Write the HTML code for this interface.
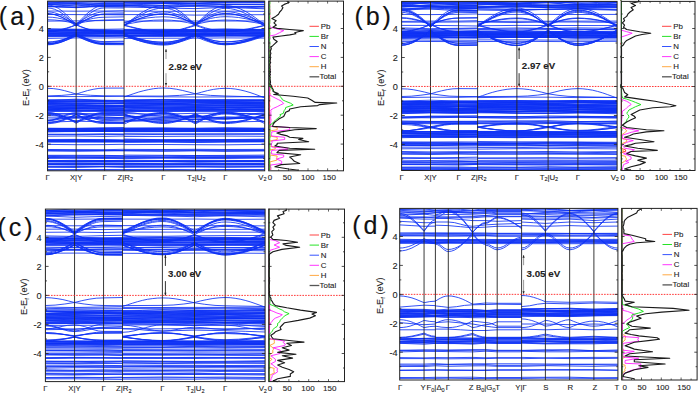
<!DOCTYPE html>
<html><head><meta charset="utf-8"><style>
html,body{margin:0;padding:0;background:#fff;}
body{width:698px;height:394px;overflow:hidden;}
svg{display:block;}
text{font-family:"Liberation Sans",sans-serif;fill:#222;stroke:#222;stroke-width:0.1px;}
.tk{font-size:7.8px;}
.ty{font-size:9.2px;}
.td{font-size:8px;}
.yl{font-size:9.1px;}
.lg{font-size:7.9px;}
.gp{font-size:9.6px;font-weight:bold;}
.pl{font-size:25px;letter-spacing:3px;fill:#111;stroke:#111;stroke-width:0.15px;}
</style></head><body>
<svg width="698" height="394" viewBox="0 0 698 394">
<clipPath id="ca"><rect x="47.55" y="1.1" width="217.14999999999998" height="169.70000000000002"/></clipPath><g clip-path="url(#ca)"><path d="M47.5 6.4 76.2 7.0 104.6 6.7 124.0 6.7M124.0 6.6 143.8 7.4 163.5 8.1 195.5 8.6 225.4 7.4 245.1 8.1 264.7 8.8 M47.5 6.7 76.2 7.3 90.4 6.6 104.6 5.8 124.0 5.6M124.0 5.3 137.2 5.9 150.3 7.3 163.5 8.0 174.2 7.3 184.8 6.0 195.5 5.4 210.4 6.0 225.4 6.7 264.7 7.9 M47.5 6.2 61.9 7.0 76.2 7.7 85.6 7.0 95.1 5.7 104.6 5.1 124.0 5.1M124.0 7.1 163.5 6.7 195.5 6.5 225.4 7.2 264.7 6.4 M47.5 6.5 61.9 5.6 76.2 4.7 90.4 5.6 104.6 6.5 124.0 6.9M124.0 5.5 163.5 5.8 195.5 5.3 225.4 6.3 264.7 6.6 M47.5 3.7 76.2 3.5 90.4 4.7 104.6 5.9 124.0 5.7M124.0 5.0 163.5 5.3 179.5 4.5 195.5 3.8 225.4 4.1 264.7 4.3 M47.5 4.3 61.9 5.1 76.2 5.9 85.6 5.2 95.1 4.0 104.6 3.4 124.0 3.3M124.0 5.3 143.8 4.4 163.5 3.5 195.5 3.7 225.4 4.5 264.7 4.8 M47.5 3.9 76.2 4.0 104.6 3.4 124.0 3.5M124.0 3.2 163.5 3.5 195.5 3.9 225.4 4.4 264.7 4.3 M47.5 4.7 76.2 3.6 104.6 4.6 124.0 4.5M124.0 4.2 143.8 3.5 163.5 2.7 195.5 3.3 210.4 2.6 225.4 1.9 264.7 1.9 M47.5 2.5 76.2 2.4 104.6 1.6 124.0 1.2M124.0 2.7 163.5 3.4 195.5 3.3 225.4 2.6 264.7 2.5 M47.5 3.4 61.9 2.2 76.2 1.1 104.6 1.1 124.0 0.9M124.0 1.9 163.5 1.0 195.5 1.8 225.4 0.8 245.1 1.5 264.7 2.2 M47.5 0.7 61.9 1.5 76.2 2.2 104.6 1.6 124.0 1.6M124.0 2.2 163.5 2.7 195.5 1.7 225.4 1.8 264.7 1.4 M47.5 1.1 76.2 -0.1 85.6 0.5 95.1 1.7 104.6 2.3 124.0 2.3M124.0 0.1 143.8 0.9 163.5 1.7 179.5 0.9 195.5 0.1 210.4 1.0 225.4 1.9 245.1 1.0 264.7 0.1 M47.5 -0.4 76.2 -0.2 104.6 0.1 124.0 0.5M124.0 1.3 163.5 1.8 195.5 1.7 225.4 2.0 245.1 1.1 264.7 0.2 M47.5 1.2 61.9 0.3 76.2 -0.7 90.4 0.1 104.6 0.9 124.0 1.1M124.0 0.1 163.5 -0.1 195.5 0.5 225.4 0.9 264.7 0.0 M47.5 13.9 51.1 14.1 54.7 14.7 58.3 15.8 61.9 17.2 65.4 18.9 69.0 20.9 72.6 23.0 76.2 25.3 79.7 23.1 83.3 21.0 86.8 19.1 90.4 17.4 93.9 16.0 97.5 14.9 101.0 14.3 104.6 14.1 124.0 14.1M124.0 24.8 129.0 22.7 133.9 20.7 138.8 18.9 143.8 17.3 148.7 15.9 153.6 15.0 158.6 14.4 163.5 14.2 167.5 14.4 171.5 14.9 175.5 15.9 179.5 17.2 183.5 18.8 187.5 20.6 191.5 22.5 195.5 24.6 199.2 22.4 203.0 20.3 206.7 18.4 210.4 16.7 214.2 15.3 217.9 14.3 221.7 13.7 225.4 13.5 230.3 13.7 235.2 14.4 240.1 15.5 245.1 17.0 250.0 18.8 254.9 20.9 259.8 23.1 264.7 25.5 M47.5 13.7 51.1 13.9 54.7 14.6 58.3 15.8 61.9 17.3 65.4 19.2 69.0 21.4 72.6 23.7 76.2 26.1 79.7 23.8 83.3 21.5 86.8 19.5 90.4 17.7 93.9 16.2 97.5 15.1 101.0 14.4 104.6 14.2 124.0 14.1M124.0 25.3 129.0 23.0 133.9 20.8 138.8 18.8 143.8 17.1 148.7 15.6 153.6 14.6 158.6 13.9 163.5 13.7 167.5 13.9 171.5 14.6 175.5 15.7 179.5 17.1 183.5 18.9 187.5 21.0 191.5 23.2 195.5 25.5 199.2 23.2 203.0 21.0 206.7 18.9 210.4 17.2 214.2 15.7 217.9 14.6 221.7 13.9 225.4 13.7 230.3 13.9 235.2 14.6 240.1 15.7 245.1 17.2 250.0 19.1 254.9 21.2 259.8 23.4 264.7 25.8 M47.5 11.9 51.1 12.1 54.7 12.8 58.3 14.0 61.9 15.5 65.4 17.4 69.0 19.5 72.6 21.8 76.2 24.2 79.7 21.8 83.3 19.4 86.8 17.3 90.4 15.4 93.9 13.8 97.5 12.7 101.0 12.0 104.6 11.7 124.0 12.1M124.0 23.4 129.0 21.2 133.9 19.0 138.8 17.1 143.8 15.3 148.7 13.9 153.6 12.8 158.6 12.2 163.5 11.9 167.5 12.2 171.5 12.8 175.5 13.9 179.5 15.3 183.5 17.1 187.5 19.1 191.5 21.3 195.5 23.6 199.2 21.2 203.0 19.0 206.7 17.0 210.4 15.2 214.2 13.7 217.9 12.6 221.7 11.9 225.4 11.7 230.3 11.9 235.2 12.6 240.1 13.8 245.1 15.4 250.0 17.2 254.9 19.4 259.8 21.8 264.7 24.2 M47.5 5.0 51.1 5.4 54.7 6.5 58.3 8.3 61.9 10.8 65.4 13.8 69.0 17.2 72.6 20.9 76.2 24.8 79.7 20.9 83.3 17.3 86.8 13.9 90.4 10.9 93.9 8.5 97.5 6.6 101.0 5.5 104.6 5.2 124.0 5.6M124.0 25.7 129.0 21.8 133.9 18.0 138.8 14.5 143.8 11.4 148.7 8.9 153.6 7.0 158.6 5.8 163.5 5.4 167.5 5.8 171.5 6.9 175.5 8.7 179.5 11.1 183.5 14.1 187.5 17.4 191.5 21.1 195.5 24.8 199.2 21.1 203.0 17.5 206.7 14.1 210.4 11.2 214.2 8.8 217.9 7.0 221.7 6.0 225.4 5.6 230.3 5.9 235.2 7.0 240.1 8.8 245.1 11.2 250.0 14.1 254.9 17.4 259.8 21.0 264.7 24.7 M47.5 8.0 51.1 8.3 54.7 9.3 58.3 11.0 61.9 13.2 65.4 15.9 69.0 19.0 72.6 22.4 76.2 25.9 79.7 22.4 83.3 19.0 86.8 15.9 90.4 13.1 93.9 10.9 97.5 9.2 101.0 8.2 104.6 7.9 124.0 8.0M124.0 26.1 129.0 22.6 133.9 19.2 138.8 16.1 143.8 13.4 148.7 11.1 153.6 9.5 158.6 8.4 163.5 8.1 167.5 8.4 171.5 9.4 175.5 11.0 179.5 13.2 183.5 15.8 187.5 18.9 191.5 22.1 195.5 25.5 199.2 22.1 203.0 18.9 206.7 15.9 210.4 13.3 214.2 11.2 217.9 9.6 221.7 8.6 225.4 8.3 230.3 8.6 235.2 9.6 240.1 11.2 245.1 13.4 250.0 16.1 254.9 19.1 259.8 22.4 264.7 25.8 M47.5 19.7 54.7 20.0 61.9 20.8 69.0 22.1 76.2 23.6 85.6 21.8 95.1 20.5 104.6 20.0 124.0 19.7M124.0 24.6 133.9 22.8 143.8 21.2 153.6 20.2 163.5 19.9 171.5 20.2 179.5 21.2 187.5 22.6 195.5 24.4 203.0 22.7 210.4 21.3 217.9 20.3 225.4 20.0 235.2 20.3 245.1 21.2 254.9 22.6 264.7 24.2 M47.5 17.1 52.3 17.3 57.1 17.9 61.9 18.9 66.6 20.2 71.4 21.6 76.2 23.2 81.8 21.4 87.5 19.7 93.2 18.4 98.9 17.5 104.6 17.2 124.0 16.9M124.0 22.6 131.9 20.8 139.8 19.2 147.7 17.9 155.6 17.1 163.5 16.8 169.9 17.1 176.3 18.0 182.7 19.3 189.1 21.0 195.5 22.8 200.5 21.2 205.5 19.8 210.4 18.5 215.4 17.5 220.4 16.9 225.4 16.7 231.9 16.9 238.5 17.5 245.1 18.6 251.6 19.9 258.1 21.4 264.7 23.1 M47.5 31.2 52.3 31.0 57.1 30.4 61.9 29.3 66.6 28.0 71.4 26.5 76.2 24.8 80.9 26.6 85.6 28.3 90.4 29.7 95.1 30.8 99.9 31.5 104.6 31.8 124.0 32.0M124.0 25.0 130.6 26.7 137.2 28.3 143.8 29.7 150.3 30.8 156.9 31.5 163.5 31.7 168.8 31.5 174.2 30.8 179.5 29.6 184.8 28.2 190.2 26.5 195.5 24.7 200.5 26.3 205.5 27.9 210.4 29.2 215.4 30.2 220.4 30.8 225.4 31.1 233.3 30.8 241.1 29.9 249.0 28.7 256.8 27.0 264.7 25.3 M47.5 32.0 52.3 31.8 57.1 31.1 61.9 29.9 66.6 28.5 71.4 26.8 76.2 24.9 80.2 26.6 84.3 28.1 88.3 29.5 92.4 30.7 96.5 31.5 100.5 32.1 104.6 32.3 124.0 32.6M124.0 25.4 130.6 27.1 137.2 28.7 143.8 30.0 150.3 31.1 156.9 31.7 163.5 31.9 168.8 31.7 174.2 31.1 179.5 30.1 184.8 28.7 190.2 27.2 195.5 25.5 200.5 27.2 205.5 28.8 210.4 30.1 215.4 31.1 220.4 31.8 225.4 32.0 231.9 31.8 238.5 31.1 245.1 30.1 251.6 28.7 258.1 27.2 264.7 25.5 M47.5 11.0 76.2 11.2 104.6 11.0 124.0 10.7M124.0 11.1 163.5 11.3 195.5 11.3 225.4 11.1 264.7 11.4 M47.5 14.5 76.2 14.6 104.6 14.7 124.0 14.9M124.0 14.6 163.5 14.5 195.5 15.1 225.4 14.8 264.7 14.7 M47.5 21.1 76.2 20.9 104.6 20.6 124.0 20.2M124.0 21.1 163.5 21.1 195.5 21.0 225.4 21.0 264.7 21.0 M47.5 36.7 76.2 36.5 104.6 35.7 124.0 35.4M124.0 36.5 163.5 36.4 195.5 36.2 225.4 35.7 264.7 36.7 M47.5 36.4 76.2 36.0 104.6 36.5 124.0 36.4M124.0 36.1 163.5 35.4 195.5 36.4 225.4 36.2 264.7 35.4 M47.5 35.0 76.2 35.5 104.6 36.0 124.0 35.5M124.0 35.3 163.5 35.8 195.5 35.3 225.4 35.4 264.7 35.8 M47.5 35.5 76.2 35.3 104.6 35.6 124.0 35.2M124.0 35.1 163.5 35.8 195.5 35.1 225.4 35.5 264.7 34.8 M47.5 35.2 76.2 35.2 104.6 35.2 124.0 34.9M124.0 35.2 163.5 35.2 195.5 34.9 225.4 34.6 264.7 34.9 M47.5 34.9 76.2 35.1 104.6 35.2 124.0 35.1M124.0 35.1 163.5 34.9 195.5 34.5 225.4 35.1 264.7 34.9 M47.5 34.2 76.2 34.7 104.6 33.8 124.0 33.6M124.0 33.7 163.5 34.6 195.5 34.6 225.4 34.2 264.7 33.9 M47.5 33.5 76.2 34.1 104.6 34.1 124.0 33.7M124.0 33.4 163.5 34.3 195.5 34.3 225.4 33.8 264.7 33.4 M47.5 34.0 76.2 33.5 104.6 33.3 124.0 33.0M124.0 33.6 163.5 33.4 195.5 34.2 225.4 33.3 264.7 33.9 M47.5 33.2 76.2 33.1 104.6 33.2 124.0 32.8M124.0 33.4 163.5 33.7 195.5 33.4 225.4 33.9 264.7 33.0 M47.5 33.1 76.2 33.1 104.6 33.2 124.0 33.1M124.0 32.9 163.5 33.3 195.5 33.5 225.4 33.6 264.7 33.2 M47.5 33.2 76.2 32.6 104.6 33.0 124.0 33.1M124.0 33.1 163.5 32.4 195.5 33.3 225.4 32.9 264.7 32.7 M47.5 32.2 76.2 32.3 104.6 32.4 124.0 32.6M124.0 32.4 163.5 32.1 195.5 32.7 225.4 32.1 264.7 32.4 M47.5 31.5 76.2 32.5 104.6 31.5 124.0 31.9M124.0 32.0 163.5 32.3 195.5 31.6 225.4 31.8 264.7 32.4 M47.5 31.2 76.2 31.4 104.6 31.8 124.0 31.9M124.0 31.3 163.5 31.4 195.5 31.5 225.4 31.2 264.7 31.2 M47.5 30.7 76.2 31.2 104.6 31.2 124.0 31.4M124.0 31.0 163.5 31.6 195.5 31.8 225.4 31.5 264.7 31.0 M47.5 31.1 76.2 30.4 104.6 31.0 124.0 31.4M124.0 30.6 163.5 31.4 195.5 30.8 225.4 30.7 264.7 31.2 M47.5 30.1 76.2 30.4 104.6 31.0 124.0 30.9M124.0 30.7 163.5 30.3 195.5 30.1 225.4 30.2 264.7 30.0 M47.5 30.1 76.2 29.9 104.6 30.5 124.0 30.8M124.0 29.9 163.5 30.8 195.5 30.8 225.4 30.6 264.7 30.3 M47.5 30.5 76.2 30.4 104.6 30.3 124.0 30.7M124.0 30.1 163.5 30.4 195.5 30.6 225.4 29.8 264.7 29.9 M47.5 29.3 76.2 29.6 104.6 30.0 124.0 30.2M124.0 30.0 163.5 29.9 195.5 29.5 225.4 29.6 264.7 29.4 M47.5 28.8 76.2 29.2 104.6 29.3 124.0 29.0M124.0 29.4 163.5 29.3 195.5 29.6 225.4 28.9 264.7 29.8 M47.5 38.4 76.2 37.9 104.6 38.0 124.0 37.8M124.0 38.4 163.5 38.2 195.5 38.2 225.4 37.9 264.7 38.1 M47.5 44.8 51.1 44.6 54.7 44.0 58.3 43.2 61.9 42.0 65.4 40.5 69.0 38.9 72.6 37.1 76.2 35.2 79.7 37.0 83.3 38.8 86.8 40.4 90.4 41.9 93.9 43.0 97.5 43.9 101.0 44.4 104.6 44.6 124.0 44.7M124.0 35.1 129.0 37.0 133.9 38.9 138.8 40.6 143.8 42.2 148.7 43.4 153.6 44.3 158.6 44.9 163.5 45.1 167.5 44.9 171.5 44.3 175.5 43.3 179.5 42.0 183.5 40.4 187.5 38.6 191.5 36.7 195.5 34.7 199.2 36.6 203.0 38.5 206.7 40.2 210.4 41.8 214.2 43.0 217.9 43.9 221.7 44.5 225.4 44.7 230.3 44.5 235.2 43.9 240.1 43.0 245.1 41.8 250.0 40.3 254.9 38.6 259.8 36.7 264.7 34.8 M47.5 43.5 51.1 43.4 54.7 42.8 58.3 41.9 61.9 40.7 65.4 39.3 69.0 37.6 72.6 35.8 76.2 33.9 79.7 35.8 83.3 37.7 86.8 39.3 90.4 40.8 93.9 42.0 97.5 42.9 101.0 43.5 104.6 43.7 124.0 43.6M124.0 34.0 129.0 35.9 133.9 37.8 138.8 39.5 143.8 41.0 148.7 42.2 153.6 43.1 158.6 43.7 163.5 43.9 167.5 43.7 171.5 43.1 175.5 42.3 179.5 41.1 183.5 39.6 187.5 38.0 191.5 36.2 195.5 34.3 199.2 36.2 203.0 37.9 206.7 39.5 210.4 40.9 214.2 42.1 217.9 42.9 221.7 43.4 225.4 43.6 230.3 43.4 235.2 42.9 240.1 42.0 245.1 40.7 250.0 39.3 254.9 37.6 259.8 35.7 264.7 33.8 M47.5 43.7 51.1 43.5 54.7 42.9 58.3 42.0 61.9 40.7 65.4 39.1 69.0 37.4 72.6 35.4 76.2 33.4 79.7 35.4 83.3 37.2 86.8 39.0 90.4 40.5 93.9 41.7 97.5 42.7 101.0 43.2 104.6 43.4 124.0 43.7M124.0 33.5 129.0 35.4 133.9 37.2 138.8 38.9 143.8 40.4 148.7 41.6 153.6 42.5 158.6 43.0 163.5 43.2 167.5 43.0 171.5 42.5 175.5 41.6 179.5 40.4 183.5 39.0 187.5 37.4 191.5 35.6 195.5 33.7 199.2 35.7 203.0 37.6 206.7 39.3 210.4 40.9 214.2 42.1 217.9 43.0 221.7 43.6 225.4 43.8 230.3 43.6 235.2 43.1 240.1 42.2 245.1 41.0 250.0 39.5 254.9 37.8 259.8 36.0 264.7 34.1 M47.5 44.2 51.1 44.0 54.7 43.5 58.3 42.7 61.9 41.5 65.4 40.1 69.0 38.5 72.6 36.8 76.2 35.0 79.7 36.7 83.3 38.4 86.8 39.9 90.4 41.2 93.9 42.3 97.5 43.1 101.0 43.6 104.6 43.8 124.0 43.5M124.0 35.3 129.0 37.0 133.9 38.7 138.8 40.2 143.8 41.5 148.7 42.6 153.6 43.4 158.6 43.9 163.5 44.0 167.5 43.9 171.5 43.4 175.5 42.5 179.5 41.4 183.5 40.0 187.5 38.5 191.5 36.8 195.5 35.0 199.2 36.8 203.0 38.4 206.7 40.0 210.4 41.3 214.2 42.4 217.9 43.2 221.7 43.7 225.4 43.9 230.3 43.7 235.2 43.3 240.1 42.4 245.1 41.4 250.0 40.0 254.9 38.5 259.8 36.9 264.7 35.2 M47.5 42.5 51.1 42.3 54.7 41.8 58.3 41.1 61.9 40.0 65.4 38.7 69.0 37.3 72.6 35.7 76.2 34.0 80.2 35.9 84.3 37.6 88.3 39.2 92.4 40.5 96.5 41.5 100.5 42.1 104.6 42.3 124.0 42.0M124.0 34.1 129.7 35.9 135.3 37.7 141.0 39.2 146.6 40.5 152.2 41.5 157.9 42.1 163.5 42.3 168.1 42.1 172.6 41.5 177.2 40.5 181.8 39.2 186.4 37.6 190.9 35.9 195.5 34.1 199.8 35.8 204.0 37.5 208.3 39.0 212.6 40.3 216.9 41.2 221.1 41.8 225.4 42.0 231.0 41.8 236.6 41.3 242.2 40.3 247.9 39.1 253.5 37.7 259.1 36.0 264.7 34.3 M47.5 44.2 51.6 44.0 55.7 43.4 59.8 42.4 63.9 41.1 68.0 39.6 72.1 37.9 76.2 36.0 80.2 37.8 84.3 39.5 88.3 41.0 92.4 42.3 96.5 43.3 100.5 43.9 104.6 44.1 124.0 43.8M124.0 36.1 129.7 37.9 135.3 39.7 141.0 41.2 146.6 42.5 152.2 43.5 157.9 44.1 163.5 44.3 168.1 44.2 172.6 43.6 177.2 42.6 181.8 41.4 186.4 39.9 190.9 38.3 195.5 36.5 199.8 38.4 204.0 40.1 208.3 41.6 212.6 42.9 216.9 43.9 221.1 44.5 225.4 44.7 230.3 44.5 235.2 44.0 240.1 43.2 245.1 42.1 250.0 40.8 254.9 39.3 259.8 37.7 264.7 36.0 M47.5 41.9 52.3 41.7 57.1 41.0 61.9 39.9 66.6 38.5 71.4 36.9 76.2 35.1 80.9 36.8 85.6 38.4 90.4 39.7 95.1 40.7 99.9 41.4 104.6 41.6 124.0 41.2M124.0 35.5 130.6 37.2 137.2 38.8 143.8 40.2 150.3 41.3 156.9 41.9 163.5 42.2 168.8 41.9 174.2 41.2 179.5 40.1 184.8 38.6 190.2 36.9 195.5 35.1 200.5 36.8 205.5 38.4 210.4 39.8 215.4 40.9 220.4 41.5 225.4 41.8 231.9 41.5 238.5 40.9 245.1 39.8 251.6 38.5 258.1 36.9 264.7 35.2 M47.5 88.3 53.3 88.6 59.0 89.4 64.7 90.7 70.4 92.3 76.2 94.1 90.4 95.3 104.6 95.8 124.0 96.1M124.0 97.0 129.0 95.3 133.9 93.6 138.8 92.0 143.8 90.7 148.7 89.6 153.6 88.7 158.6 88.2 163.5 88.0 169.9 88.3 176.3 89.2 182.7 90.5 189.1 92.1 195.5 93.9 210.4 95.4 225.4 96.0 264.7 97.1 M47.5 95.9 61.9 95.4 76.2 94.1 81.8 92.3 87.5 90.6 93.2 89.3 98.9 88.4 104.6 88.1 124.0 88.1M124.0 96.0 163.5 96.1 179.5 95.4 195.5 93.9 201.5 92.2 207.5 90.6 213.4 89.4 219.4 88.6 225.4 88.3 230.3 88.5 235.2 89.0 240.1 89.9 245.1 91.1 250.0 92.5 254.9 94.2 259.8 96.0 264.7 97.8 M47.5 96.5 76.2 96.6 104.6 96.5 124.0 96.1M124.0 96.5 163.5 96.8 195.5 97.0 225.4 96.9 264.7 96.5 M47.5 111.6 76.2 111.2 104.6 111.5 124.0 111.7M124.0 111.8 163.5 111.0 195.5 110.7 225.4 111.0 264.7 111.4 M47.5 110.6 76.2 111.4 104.6 110.7 124.0 111.1M124.0 110.6 163.5 111.2 195.5 111.1 225.4 110.9 264.7 110.5 M47.5 110.4 76.2 110.7 104.6 110.4 124.0 110.5M124.0 111.3 163.5 111.0 195.5 111.2 225.4 111.3 264.7 111.4 M47.5 109.7 76.2 109.6 104.6 110.7 124.0 110.4M124.0 110.1 163.5 110.9 195.5 110.5 225.4 110.0 264.7 109.8 M47.5 109.7 76.2 110.5 104.6 110.6 124.0 110.7M124.0 110.4 163.5 110.2 195.5 109.6 225.4 110.0 264.7 110.1 M47.5 109.9 76.2 108.8 104.6 109.2 124.0 108.8M124.0 110.2 163.5 109.7 195.5 109.1 225.4 109.4 264.7 109.0 M47.5 109.4 76.2 108.8 104.6 109.1 124.0 108.8M124.0 109.7 163.5 108.6 195.5 108.6 225.4 109.4 264.7 109.9 M47.5 108.6 76.2 108.4 104.6 109.5 124.0 109.6M124.0 108.3 163.5 109.1 195.5 109.6 225.4 109.4 264.7 109.5 M47.5 109.0 76.2 108.1 104.6 108.6 124.0 109.0M124.0 107.9 163.5 108.9 195.5 108.0 225.4 108.9 264.7 107.8 M47.5 108.1 76.2 108.6 104.6 107.8 124.0 108.0M124.0 107.3 163.5 107.3 195.5 107.8 225.4 107.8 264.7 108.2 M47.5 107.5 76.2 108.1 104.6 107.6 124.0 107.7M124.0 107.1 163.5 108.3 195.5 107.7 225.4 107.8 264.7 107.4 M47.5 106.9 76.2 107.7 104.6 106.9 124.0 106.5M124.0 106.6 163.5 106.8 195.5 106.7 225.4 107.6 264.7 106.7 M47.5 107.6 76.2 107.7 104.6 106.6 124.0 106.2M124.0 107.0 163.5 107.1 195.5 107.1 225.4 107.2 264.7 107.6 M47.5 106.3 76.2 106.1 104.6 106.0 124.0 106.4M124.0 107.2 163.5 107.2 195.5 107.2 225.4 106.5 264.7 106.7 M47.5 106.4 76.2 106.4 104.6 106.6 124.0 106.3M124.0 106.2 163.5 105.7 195.5 106.5 225.4 105.6 264.7 106.0 M47.5 106.1 76.2 105.6 104.6 105.4 124.0 105.8M124.0 105.9 163.5 105.2 195.5 105.1 225.4 105.7 264.7 105.5 M47.5 105.0 76.2 105.8 104.6 105.3 124.0 105.4M124.0 105.5 163.5 104.7 195.5 105.3 225.4 104.8 264.7 105.9 M47.5 105.0 76.2 105.4 104.6 105.7 124.0 105.9M124.0 105.3 163.5 104.6 195.5 105.3 225.4 104.9 264.7 104.7 M47.5 104.6 76.2 105.3 104.6 105.2 124.0 105.3M124.0 104.0 163.5 104.1 195.5 104.7 225.4 104.9 264.7 104.1 M47.5 103.5 61.9 104.1 76.2 104.7 104.6 103.7 124.0 103.4M124.0 104.1 163.5 103.5 195.5 104.0 225.4 103.5 264.7 103.4 M47.5 103.5 76.2 104.0 104.6 103.5 124.0 103.3M124.0 103.9 163.5 104.0 195.5 103.1 225.4 103.2 264.7 103.8 M47.5 104.1 76.2 103.8 104.6 103.4 124.0 103.6M124.0 103.3 163.5 103.5 195.5 104.3 210.4 103.7 225.4 103.0 264.7 104.2 M47.5 103.5 76.2 103.7 104.6 103.7 124.0 103.7M124.0 103.8 163.5 103.5 195.5 102.6 225.4 102.9 264.7 102.9 M47.5 102.4 76.2 103.2 104.6 103.6 124.0 103.4M124.0 102.3 163.5 103.1 195.5 102.7 225.4 102.4 264.7 102.3 M47.5 102.4 76.2 102.0 104.6 102.0 124.0 101.8M124.0 101.8 163.5 102.2 195.5 101.6 225.4 101.6 264.7 102.6 M47.5 101.8 76.2 101.6 104.6 101.7 124.0 101.8M124.0 101.7 163.5 102.1 195.5 102.0 225.4 102.1 264.7 102.8 M47.5 101.6 76.2 102.1 104.6 102.0 124.0 102.4M124.0 101.8 163.5 101.8 195.5 101.0 225.4 101.3 264.7 101.2 M47.5 101.1 76.2 100.7 104.6 101.0 124.0 101.0M124.0 100.5 163.5 101.1 195.5 101.3 225.4 101.1 264.7 101.0 M47.5 101.2 76.2 101.5 104.6 101.0 124.0 100.5M124.0 100.8 163.5 100.8 195.5 100.2 225.4 100.9 264.7 100.6 M47.5 100.7 76.2 99.9 104.6 100.7 124.0 100.5M124.0 99.9 163.5 99.9 195.5 100.0 225.4 99.9 264.7 100.7 M47.5 99.7 76.2 100.2 104.6 100.4 124.0 100.5M124.0 100.7 163.5 99.8 195.5 100.4 225.4 100.2 264.7 100.3 M47.5 100.4 76.2 99.2 104.6 100.3 124.0 100.5M124.0 100.3 163.5 99.4 195.5 99.9 225.4 99.8 264.7 99.6 M47.5 115.2 57.1 115.8 66.6 117.0 76.2 117.6 85.6 116.8 95.1 115.2 104.6 114.4 124.0 115.0M124.0 117.1 143.8 116.1 163.5 115.0 179.5 116.0 195.5 117.1 203.0 116.4 210.4 114.8 217.9 113.2 225.4 112.6 245.1 113.8 264.7 115.0 M47.5 120.5 51.6 120.1 55.7 119.0 59.8 117.4 63.9 115.7 68.0 114.1 72.1 113.0 76.2 112.6 80.9 113.1 85.6 114.4 90.4 116.1 95.1 117.8 99.9 119.1 104.6 119.5 124.0 119.2M124.0 121.5 143.8 120.4 163.5 119.3 179.5 118.3 195.5 117.2 203.0 116.5 210.4 115.0 217.9 113.4 225.4 112.8 233.3 113.3 241.1 114.6 249.0 116.2 256.8 117.5 264.7 118.0 M47.5 113.9 52.3 114.3 57.1 115.6 61.9 117.4 66.6 119.1 71.4 120.4 76.2 120.9 81.8 120.4 87.5 119.2 93.2 117.7 98.9 116.4 104.6 116.0 124.0 115.3M124.0 112.3 133.9 113.0 143.8 114.4 153.6 115.9 163.5 116.5 195.5 116.7 210.4 117.6 225.4 118.4 233.3 117.9 241.1 116.5 249.0 114.8 256.8 113.4 264.7 112.8 M47.5 120.7 54.7 120.1 61.9 118.6 69.0 117.1 76.2 116.5 90.4 117.1 104.6 117.8 124.0 117.3M124.0 115.4 131.9 115.9 139.8 117.2 147.7 118.8 155.6 120.1 163.5 120.6 179.5 119.9 195.5 119.2 225.4 119.1 245.1 118.1 264.7 117.2 M47.5 113.6 76.2 114.3 104.6 115.3 124.0 114.8M124.0 120.9 137.2 120.2 150.3 118.8 163.5 118.0 174.2 117.4 184.8 116.1 195.5 115.4 205.5 116.3 215.4 118.1 225.4 118.9 245.1 117.9 264.7 116.9 M47.5 120.6 52.3 120.1 57.1 118.9 61.9 117.1 66.6 115.4 71.4 114.1 76.2 113.7 80.9 114.2 85.6 115.4 90.4 117.2 95.1 119.0 99.9 120.2 104.6 120.7 124.0 120.1M124.0 118.1 131.9 117.6 139.8 116.4 147.7 114.9 155.6 113.7 163.5 113.2 168.8 113.6 174.2 114.9 179.5 116.5 184.8 118.2 190.2 119.4 195.5 119.8 205.5 119.1 215.4 117.6 225.4 116.8 264.7 117.8 M47.5 113.7 51.1 113.9 54.7 114.4 58.3 115.2 61.9 116.3 65.4 117.6 69.0 119.2 72.6 120.8 76.2 122.5 79.7 120.7 83.3 119.0 86.8 117.4 90.4 116.1 93.9 114.9 97.5 114.1 101.0 113.6 104.6 113.4 124.0 113.2M124.0 122.3 129.0 120.7 133.9 119.0 138.8 117.5 143.8 116.2 148.7 115.2 153.6 114.4 158.6 113.9 163.5 113.7 167.5 113.9 171.5 114.4 175.5 115.2 179.5 116.4 183.5 117.8 187.5 119.4 191.5 121.1 195.5 122.9 199.2 121.2 203.0 119.5 206.7 117.9 210.4 116.6 214.2 115.5 217.9 114.7 221.7 114.2 225.4 114.0 231.0 114.2 236.6 114.8 242.2 115.7 247.9 116.9 253.5 118.4 259.1 120.0 264.7 121.8 M47.5 112.6 51.1 112.8 54.7 113.4 58.3 114.4 61.9 115.7 65.4 117.4 69.0 119.2 72.6 121.2 76.2 123.3 79.7 121.3 83.3 119.4 86.8 117.7 90.4 116.2 93.9 114.9 97.5 114.0 101.0 113.4 104.6 113.2 124.0 113.0M124.0 124.0 129.0 121.9 133.9 119.8 138.8 117.9 143.8 116.2 148.7 114.8 153.6 113.8 158.6 113.2 163.5 113.0 167.5 113.2 171.5 113.8 175.5 114.8 179.5 116.2 183.5 117.9 187.5 119.8 191.5 121.8 195.5 124.0 199.2 121.8 203.0 119.8 206.7 117.9 210.4 116.3 214.2 114.9 217.9 113.9 221.7 113.3 225.4 113.1 230.3 113.3 235.2 113.9 240.1 114.8 245.1 116.1 250.0 117.7 254.9 119.5 259.8 121.4 264.7 123.5 M47.5 112.7 51.1 112.9 54.7 113.4 58.3 114.3 61.9 115.4 65.4 116.8 69.0 118.4 72.6 120.1 76.2 121.9 79.7 120.0 83.3 118.2 86.8 116.6 90.4 115.2 93.9 114.0 97.5 113.1 101.0 112.6 104.6 112.4 124.0 112.4M124.0 122.4 129.0 120.4 133.9 118.6 138.8 116.8 143.8 115.3 148.7 114.1 153.6 113.2 158.6 112.6 163.5 112.4 167.5 112.6 171.5 113.1 175.5 114.0 179.5 115.2 183.5 116.7 187.5 118.4 191.5 120.2 195.5 122.1 199.2 120.1 203.0 118.3 206.7 116.5 210.4 115.0 214.2 113.8 217.9 112.8 221.7 112.3 225.4 112.1 230.3 112.3 235.2 112.9 240.1 113.8 245.1 115.1 250.0 116.6 254.9 118.4 259.8 120.3 264.7 122.2 M47.5 123.7 51.1 123.5 54.7 123.0 58.3 122.2 61.9 121.0 65.4 119.7 69.0 118.1 72.6 116.5 76.2 114.7 79.7 116.4 83.3 118.1 86.8 119.6 90.4 121.0 93.9 122.1 97.5 122.9 101.0 123.4 104.6 123.5 124.0 123.5M124.0 113.9 129.0 115.8 133.9 117.6 138.8 119.2 143.8 120.7 148.7 121.8 153.6 122.7 158.6 123.3 163.5 123.5 167.5 123.3 171.5 122.7 175.5 121.9 179.5 120.7 183.5 119.3 187.5 117.7 191.5 115.9 195.5 114.1 199.2 116.0 203.0 117.7 206.7 119.4 210.4 120.8 214.2 122.0 217.9 122.8 221.7 123.4 225.4 123.6 230.3 123.4 235.2 122.9 240.1 122.0 245.1 120.9 250.0 119.4 254.9 117.8 259.8 116.1 264.7 114.3 M47.5 122.3 51.6 122.1 55.7 121.6 59.8 120.6 63.9 119.4 68.0 117.9 72.1 116.2 76.2 114.5 80.2 116.2 84.3 117.9 88.3 119.4 92.4 120.7 96.5 121.6 100.5 122.2 104.6 122.4 124.0 122.5M124.0 114.7 129.7 116.3 135.3 117.9 141.0 119.4 146.6 120.6 152.2 121.5 157.9 122.0 163.5 122.2 168.1 122.1 172.6 121.5 177.2 120.6 181.8 119.5 186.4 118.1 190.9 116.5 195.5 114.9 199.8 116.5 204.0 118.0 208.3 119.4 212.6 120.6 216.9 121.4 221.1 122.0 225.4 122.2 231.0 122.0 236.6 121.4 242.2 120.6 247.9 119.4 253.5 118.0 259.1 116.5 264.7 114.9 M47.5 122.8 51.1 122.6 54.7 122.1 58.3 121.3 61.9 120.3 65.4 119.0 69.0 117.5 72.6 115.9 76.2 114.3 80.2 116.1 84.3 117.9 88.3 119.5 92.4 120.8 96.5 121.8 100.5 122.4 104.6 122.6 124.0 122.9M124.0 113.9 129.0 115.6 133.9 117.3 138.8 118.8 143.8 120.1 148.7 121.2 153.6 122.1 158.6 122.6 163.5 122.7 167.5 122.6 171.5 122.0 175.5 121.2 179.5 120.0 183.5 118.6 187.5 117.0 191.5 115.3 195.5 113.5 199.2 115.3 203.0 117.0 206.7 118.6 210.4 120.0 214.2 121.1 217.9 121.9 221.7 122.5 225.4 122.6 230.3 122.5 235.2 122.0 240.1 121.2 245.1 120.1 250.0 118.8 254.9 117.3 259.8 115.7 264.7 114.0 M47.5 122.2 76.2 121.2 104.6 121.8 124.0 122.0M124.0 120.8 163.5 121.3 195.5 121.7 225.4 122.1 264.7 121.3 M47.5 119.1 76.2 118.2 104.6 118.7 124.0 118.4M124.0 119.1 163.5 118.9 195.5 119.0 225.4 118.8 264.7 118.1 M47.5 117.2 76.2 117.1 104.6 117.3 124.0 117.6M124.0 116.3 143.8 117.0 163.5 117.6 195.5 116.8 225.4 117.6 264.7 117.3 M47.5 114.1 76.2 113.4 104.6 113.8 124.0 113.9M124.0 113.6 163.5 114.1 195.5 113.3 225.4 113.2 264.7 113.7 M47.5 131.7 76.2 131.6 104.6 131.4 124.0 131.4M124.0 131.7 163.5 131.5 195.5 131.3 225.4 131.6 264.7 131.5 M47.5 131.8 76.2 131.3 104.6 131.4 124.0 131.4M124.0 131.6 163.5 131.7 195.5 131.6 225.4 131.6 264.7 131.4 M47.5 131.2 76.2 131.1 104.6 131.5 124.0 131.4M124.0 130.8 163.5 131.2 195.5 130.9 225.4 131.0 264.7 131.0 M47.5 131.1 76.2 130.6 104.6 130.8 124.0 131.1M124.0 131.2 163.5 131.2 195.5 130.7 225.4 130.6 264.7 130.6 M47.5 130.3 76.2 130.9 104.6 130.9 124.0 130.9M124.0 130.5 163.5 130.3 195.5 130.8 225.4 130.7 264.7 130.5 M47.5 130.1 76.2 130.3 104.6 130.6 124.0 130.5M124.0 130.2 163.5 129.8 195.5 129.9 225.4 129.9 264.7 130.3 M47.5 129.9 76.2 130.3 104.6 130.0 124.0 129.9M124.0 130.0 163.5 129.6 195.5 130.3 225.4 130.0 264.7 129.8 M47.5 130.2 76.2 130.0 104.6 130.2 124.0 130.3M124.0 129.4 163.5 130.2 195.5 129.5 225.4 129.8 264.7 129.7 M47.5 129.1 76.2 129.5 104.6 129.6 124.0 129.5M124.0 129.7 163.5 129.1 195.5 129.1 225.4 129.6 264.7 129.0 M47.5 128.9 76.2 129.6 104.6 129.3 124.0 129.1M124.0 129.3 163.5 129.1 195.5 129.3 225.4 128.8 264.7 129.4 M47.5 128.9 76.2 128.7 104.6 128.6 124.0 129.0M124.0 128.5 163.5 128.7 195.5 129.1 225.4 128.8 264.7 128.7 M47.5 128.8 76.2 128.7 104.6 128.4 124.0 128.1M124.0 128.3 163.5 128.2 195.5 128.9 225.4 129.0 264.7 128.4 M47.5 128.6 76.2 128.4 104.6 128.0 124.0 128.0M124.0 128.4 163.5 128.3 195.5 128.2 225.4 128.2 264.7 128.2 M47.5 128.2 76.2 128.4 104.6 128.1 124.0 127.8M124.0 128.2 163.5 128.1 195.5 128.5 225.4 127.8 264.7 128.5 M47.5 134.2 76.2 134.2 104.6 133.8 124.0 134.0M124.0 133.7 163.5 133.9 195.5 133.8 225.4 133.8 264.7 133.7 M47.5 134.6 76.2 134.6 104.6 134.5 124.0 134.5M124.0 134.8 163.5 134.4 195.5 134.4 225.4 134.3 264.7 134.3 M47.5 136.2 76.2 136.0 104.6 136.4 124.0 136.0M124.0 136.5 163.5 136.4 195.5 136.2 225.4 136.1 264.7 136.3 M47.5 141.9 76.2 142.1 104.6 141.8 124.0 141.6M124.0 142.2 163.5 142.0 195.5 142.4 225.4 142.0 264.7 141.9 M47.5 141.8 76.2 141.5 104.6 142.0 124.0 142.0M124.0 142.1 163.5 141.8 195.5 142.3 225.4 141.8 264.7 141.5 M47.5 141.6 76.2 141.6 104.6 141.5 124.0 141.3M124.0 141.4 163.5 141.3 195.5 141.5 225.4 141.0 264.7 141.4 M47.5 141.3 76.2 141.1 104.6 141.1 124.0 140.8M124.0 141.3 163.5 141.1 195.5 140.9 225.4 141.3 264.7 140.7 M47.5 140.4 76.2 140.6 104.6 140.3 124.0 140.5M124.0 140.7 163.5 140.6 195.5 140.5 225.4 140.8 264.7 140.8 M47.5 140.5 76.2 140.4 104.6 140.6 124.0 140.8M124.0 140.0 163.5 140.0 195.5 140.2 225.4 140.3 264.7 140.3 M47.5 140.1 76.2 139.6 104.6 139.7 124.0 140.1M124.0 139.9 163.5 140.2 195.5 139.7 225.4 139.6 264.7 139.7 M47.5 139.5 76.2 139.4 104.6 139.9 124.0 140.1M124.0 139.1 163.5 139.7 195.5 139.6 225.4 139.6 264.7 139.2 M47.5 144.4 76.2 144.7 104.6 144.6 124.0 144.3M124.0 144.6 163.5 144.5 195.5 144.7 225.4 144.8 264.7 144.4 M47.5 151.0 76.2 151.1 104.6 150.9 124.0 150.6M124.0 150.9 163.5 151.2 195.5 150.8 225.4 151.3 264.7 151.0 M47.5 150.5 76.2 150.9 104.6 150.6 124.0 150.6M124.0 150.5 163.5 150.9 195.5 150.6 225.4 150.9 264.7 150.5 M47.5 149.9 76.2 150.3 104.6 150.3 124.0 150.7M124.0 150.3 163.5 150.0 195.5 150.0 225.4 150.2 264.7 150.2 M47.5 149.5 76.2 149.6 104.6 149.7 124.0 149.3M124.0 149.4 163.5 149.5 195.5 149.3 225.4 149.5 264.7 149.4 M47.5 158.4 76.2 158.3 104.6 158.5 124.0 158.5M124.0 158.6 163.5 158.1 195.5 158.5 225.4 158.5 264.7 158.1 M47.5 157.5 76.2 157.7 104.6 157.5 124.0 157.9M124.0 157.7 163.5 157.9 195.5 157.4 225.4 157.6 264.7 157.6 M47.5 157.3 76.2 157.0 104.6 157.3 124.0 157.0M124.0 157.1 163.5 157.5 195.5 157.6 225.4 157.4 264.7 157.1 M47.5 156.4 76.2 156.9 104.6 156.8 124.0 157.0M124.0 156.6 163.5 156.8 195.5 156.3 225.4 156.4 264.7 156.4 M47.5 155.8 76.2 155.9 104.6 155.9 124.0 156.0M124.0 156.1 163.5 155.9 195.5 155.9 225.4 156.0 264.7 156.1 M47.5 155.3 76.2 155.3 104.6 155.4 124.0 155.7M124.0 155.1 163.5 155.3 195.5 155.5 225.4 155.4 264.7 155.1 M47.5 161.8 76.2 162.2 104.6 162.0 124.0 161.9M124.0 161.9 163.5 161.6 195.5 162.2 225.4 161.8 264.7 161.7 M47.5 161.8 76.2 161.7 104.6 161.7 124.0 161.7M124.0 161.5 163.5 161.7 195.5 161.8 225.4 161.7 264.7 161.7 M47.5 161.6 76.2 161.5 104.6 161.5 124.0 161.2M124.0 161.5 163.5 161.4 195.5 161.4 225.4 161.5 264.7 161.3 M47.5 160.7 76.2 160.9 104.6 160.8 124.0 161.2M124.0 160.8 163.5 160.9 195.5 161.1 225.4 161.3 264.7 160.7 M47.5 160.7 76.2 160.9 104.6 160.7 124.0 160.3M124.0 161.0 163.5 161.0 195.5 160.9 225.4 160.9 264.7 160.6 M47.5 160.7 76.2 160.3 104.6 160.6 124.0 160.8M124.0 160.2 163.5 160.5 195.5 160.3 225.4 160.4 264.7 160.7 M47.5 164.7 76.2 164.8 104.6 164.7 124.0 164.8M124.0 165.2 163.5 165.1 195.5 165.0 225.4 165.0 264.7 164.8 M47.5 164.6 76.2 164.1 104.6 164.3 124.0 164.4M124.0 164.5 163.5 164.3 195.5 164.6 225.4 164.2 264.7 164.6 M47.5 164.3 76.2 164.2 104.6 164.2 124.0 163.8M124.0 163.8 163.5 164.3 195.5 164.0 225.4 164.3 264.7 164.2 M47.5 163.9 76.2 163.9 104.6 163.3 124.0 163.3M124.0 163.5 163.5 163.9 195.5 163.8 225.4 163.8 264.7 163.4 M47.5 163.5 76.2 163.6 104.6 163.7 124.0 163.8M124.0 163.4 163.5 163.6 195.5 163.7 225.4 163.5 264.7 163.7 M47.5 167.3 76.2 167.5 104.6 166.9 124.0 167.4M124.0 167.4 163.5 167.2 195.5 167.1 225.4 167.2 264.7 167.1 M47.5 166.7 76.2 166.5 104.6 166.5 124.0 166.6M124.0 166.4 163.5 166.7 195.5 166.4 225.4 166.9 264.7 166.4 M47.5 166.3 76.2 166.1 104.6 166.3 124.0 166.2M124.0 166.3 163.5 166.3 195.5 166.3 225.4 166.2 264.7 166.1 M47.5 169.5 76.2 169.6 104.6 169.5 124.0 169.7M124.0 169.5 163.5 169.4 195.5 169.8 225.4 169.5 264.7 169.6 M47.5 170.3 76.2 170.0 104.6 170.1 124.0 170.0M124.0 170.2 163.5 170.0 195.5 170.1 225.4 169.9 264.7 170.0" fill="none" stroke="#0e32f5" stroke-width="0.85" stroke-opacity="1.0"/></g><line x1="76.15" y1="1.1" x2="76.15" y2="170.8" stroke="#222" stroke-width="0.9"/>
<line x1="104.6" y1="1.1" x2="104.6" y2="170.8" stroke="#222" stroke-width="0.9"/>
<line x1="124.05" y1="1.1" x2="124.05" y2="170.8" stroke="#222" stroke-width="0.9"/>
<line x1="163.5" y1="1.1" x2="163.5" y2="170.8" stroke="#222" stroke-width="0.9"/>
<line x1="195.5" y1="1.1" x2="195.5" y2="170.8" stroke="#222" stroke-width="0.9"/>
<line x1="225.4" y1="1.1" x2="225.4" y2="170.8" stroke="#222" stroke-width="0.9"/>
<line x1="47.55" y1="86.3" x2="264.7" y2="86.3" stroke="#f22" stroke-width="0.9" stroke-dasharray="1.6 1.2"/>
<rect x="47.55" y="1.1" width="217.14999999999998" height="169.70000000000002" fill="none" stroke="#222" stroke-width="1"/>
<line x1="47.55" y1="158.6" x2="49.15" y2="158.6" stroke="#222" stroke-width="0.8"/>
<line x1="264.7" y1="158.6" x2="263.09999999999997" y2="158.6" stroke="#222" stroke-width="0.8"/>
<line x1="47.55" y1="144.1" x2="50.75" y2="144.1" stroke="#222" stroke-width="0.8"/>
<line x1="264.7" y1="144.1" x2="261.5" y2="144.1" stroke="#222" stroke-width="0.8"/>
<text x="43.75" y="147.7" text-anchor="end" class="ty">-4</text>
<line x1="47.55" y1="129.6" x2="49.15" y2="129.6" stroke="#222" stroke-width="0.8"/>
<line x1="264.7" y1="129.6" x2="263.09999999999997" y2="129.6" stroke="#222" stroke-width="0.8"/>
<line x1="47.55" y1="115.2" x2="50.75" y2="115.2" stroke="#222" stroke-width="0.8"/>
<line x1="264.7" y1="115.2" x2="261.5" y2="115.2" stroke="#222" stroke-width="0.8"/>
<text x="43.75" y="118.8" text-anchor="end" class="ty">-2</text>
<line x1="47.55" y1="100.8" x2="49.15" y2="100.8" stroke="#222" stroke-width="0.8"/>
<line x1="264.7" y1="100.8" x2="263.09999999999997" y2="100.8" stroke="#222" stroke-width="0.8"/>
<line x1="47.55" y1="86.3" x2="50.75" y2="86.3" stroke="#222" stroke-width="0.8"/>
<line x1="264.7" y1="86.3" x2="261.5" y2="86.3" stroke="#222" stroke-width="0.8"/>
<text x="43.75" y="89.9" text-anchor="end" class="ty">0</text>
<line x1="47.55" y1="71.8" x2="49.15" y2="71.8" stroke="#222" stroke-width="0.8"/>
<line x1="264.7" y1="71.8" x2="263.09999999999997" y2="71.8" stroke="#222" stroke-width="0.8"/>
<line x1="47.55" y1="57.4" x2="50.75" y2="57.4" stroke="#222" stroke-width="0.8"/>
<line x1="264.7" y1="57.4" x2="261.5" y2="57.4" stroke="#222" stroke-width="0.8"/>
<text x="43.75" y="61.0" text-anchor="end" class="ty">2</text>
<line x1="47.55" y1="43.0" x2="49.15" y2="43.0" stroke="#222" stroke-width="0.8"/>
<line x1="264.7" y1="43.0" x2="263.09999999999997" y2="43.0" stroke="#222" stroke-width="0.8"/>
<line x1="47.55" y1="28.5" x2="50.75" y2="28.5" stroke="#222" stroke-width="0.8"/>
<line x1="264.7" y1="28.5" x2="261.5" y2="28.5" stroke="#222" stroke-width="0.8"/>
<text x="43.75" y="32.1" text-anchor="end" class="ty">4</text>
<line x1="47.55" y1="14.0" x2="49.15" y2="14.0" stroke="#222" stroke-width="0.8"/>
<line x1="264.7" y1="14.0" x2="263.09999999999997" y2="14.0" stroke="#222" stroke-width="0.8"/>
<text x="47.55" y="179.5" text-anchor="middle" class="tk">Γ</text>
<text x="76.15" y="179.5" text-anchor="middle" class="tk">X|Y</text>
<text x="104.6" y="179.5" text-anchor="middle" class="tk">Γ</text>
<text x="125.25" y="179.5" text-anchor="middle" class="tk">Z|R<tspan font-size="5.5" dy="1.8">2</tspan></text>
<text x="163.5" y="179.5" text-anchor="middle" class="tk">Γ</text>
<text x="196.3" y="179.5" text-anchor="middle" class="tk">T<tspan font-size="5.5" dy="1.8">2</tspan><tspan dy="-1.8">|U</tspan><tspan font-size="5.5" dy="1.8">2</tspan></text>
<text x="225.4" y="179.5" text-anchor="middle" class="tk">Γ</text>
<text x="262.4" y="179.5" text-anchor="middle" class="tk">V<tspan font-size="5.5" dy="1.8">2</tspan></text>
<text transform="translate(28.5,87.6) rotate(-90)" text-anchor="middle" class="yl">E-E<tspan font-size="6" dy="2">f</tspan><tspan dy="-2"> (eV)</tspan></text><line x1="166" y1="49.1" x2="166" y2="59" stroke="#999" stroke-width="1"/>
<line x1="166" y1="73.2" x2="166" y2="85.7" stroke="#999" stroke-width="1"/>
<path d="M164.9 51.7 L166 49.1 L167.1 51.7Z" fill="#222"/>
<path d="M164.9 83.10000000000001 L166 85.7 L167.1 83.10000000000001Z" fill="#222"/>
<text x="168.5" y="70.1" class="gp" style="font-size:9.7px">2.92 eV</text><text x="-1.2" y="24.9" class="pl">(a)</text><clipPath id="cb"><rect x="401.6" y="1.4" width="215.5" height="169.1"/></clipPath><g clip-path="url(#cb)"><path d="M401.6 8.2 430.5 9.0 444.5 9.9 458.6 10.8 477.6 10.6M477.6 10.0 516.9 10.7 532.5 9.9 548.1 9.2 577.9 8.5 617.1 9.2 M401.6 10.1 416.1 9.0 430.5 7.8 444.5 8.6 458.6 9.3 477.6 8.9M477.6 9.0 516.9 9.4 548.1 9.3 577.9 8.5 597.5 9.1 617.1 9.8 M401.6 10.2 416.1 9.5 430.5 8.8 458.6 9.0 477.6 8.6M477.6 8.7 516.9 9.4 548.1 9.6 577.9 9.2 617.1 10.2 M401.6 9.3 416.1 8.2 430.5 7.1 458.6 8.2 477.6 8.5M477.6 7.4 516.9 6.8 548.1 7.6 577.9 7.8 617.1 7.1 M401.6 6.8 430.5 6.9 458.6 8.0 477.6 8.3M477.6 7.0 516.9 6.2 532.5 7.0 548.1 7.7 563.0 7.0 577.9 6.3 597.5 6.9 617.1 7.5 M401.6 6.0 430.5 6.1 458.6 7.2 477.6 6.9M477.6 7.3 516.9 6.3 548.1 7.0 577.9 7.6 597.5 6.8 617.1 6.0 M401.6 6.7 416.1 6.1 430.5 5.5 444.5 6.5 458.6 7.5 477.6 7.7M477.6 7.3 516.9 7.2 532.5 6.3 548.1 5.5 577.9 6.1 617.1 7.2 M401.6 5.5 430.5 6.6 458.6 6.1 477.6 6.0M477.6 6.9 516.9 6.0 548.1 6.0 577.9 5.6 617.1 4.8 M401.6 6.9 416.1 6.0 430.5 5.0 458.6 4.8 477.6 5.1M477.6 7.0 497.2 6.0 516.9 5.1 548.1 5.3 577.9 4.5 597.5 5.5 617.1 6.4 M401.6 4.3 416.1 5.3 430.5 6.2 458.6 6.5 477.6 6.7M477.6 4.3 516.9 5.3 548.1 5.6 563.0 5.0 577.9 4.4 617.1 4.8 M401.6 5.4 430.5 6.3 458.6 5.9 477.6 5.5M477.6 4.3 516.9 4.5 532.5 5.4 548.1 6.4 577.9 6.2 617.1 5.7 M401.6 5.2 411.2 4.6 420.9 3.4 430.5 2.8 444.5 3.9 458.6 5.1 477.6 5.5M477.6 5.2 497.2 4.4 516.9 3.6 532.5 4.6 548.1 5.5 577.9 4.5 617.1 4.6 M401.6 3.1 430.5 3.0 444.5 3.9 458.6 4.9 477.6 4.9M477.6 3.1 516.9 4.2 532.5 3.4 548.1 2.6 558.0 3.2 568.0 4.5 577.9 5.1 597.5 4.1 617.1 3.0 M401.6 2.6 416.1 3.5 430.5 4.3 458.6 3.3 477.6 3.4M477.6 3.3 516.9 4.0 532.5 3.0 548.1 2.1 577.9 2.7 597.5 3.5 617.1 4.3 M401.6 3.1 430.5 2.5 458.6 2.8 477.6 3.0M477.6 3.0 516.9 3.8 548.1 4.2 558.0 3.5 568.0 2.2 577.9 1.5 617.1 2.6 M401.6 3.8 416.1 3.1 430.5 2.5 444.5 3.2 458.6 3.9 477.6 3.7M477.6 1.1 497.2 2.3 516.9 3.5 532.5 2.4 548.1 1.2 558.0 1.8 568.0 3.1 577.9 3.7 591.0 3.0 604.0 1.7 617.1 1.1 M401.6 2.1 430.5 1.4 444.5 2.0 458.6 2.7 477.6 2.4M477.6 2.7 516.9 1.7 548.1 2.2 577.9 1.6 617.1 1.9 M401.6 2.9 430.5 2.7 458.6 1.8 477.6 2.1M477.6 2.5 516.9 2.7 548.1 2.4 563.0 1.6 577.9 0.9 597.5 1.7 617.1 2.4 M401.6 1.0 416.1 0.3 430.5 -0.4 444.5 0.5 458.6 1.4 477.6 1.1M477.6 0.2 516.9 0.5 548.1 1.1 577.9 1.7 617.1 0.9 M401.6 1.7 416.1 0.6 430.5 -0.5 458.6 0.6 477.6 1.0M477.6 0.8 516.9 0.3 548.1 0.3 577.9 1.3 597.5 0.2 617.1 -0.8 M401.6 9.7 405.2 10.0 408.8 11.0 412.4 12.6 416.1 14.8 419.7 17.4 423.3 20.4 426.9 23.7 430.5 27.1 434.0 23.8 437.5 20.7 441.0 17.7 444.5 15.2 448.0 13.1 451.5 11.5 455.0 10.6 458.6 10.2 477.6 10.6M477.6 26.5 482.5 23.4 487.4 20.4 492.3 17.6 497.2 15.2 502.2 13.2 507.1 11.8 512.0 10.9 516.9 10.5 520.8 10.9 524.7 11.8 528.6 13.3 532.5 15.3 536.4 17.7 540.3 20.5 544.2 23.5 548.1 26.7 551.8 23.4 555.5 20.3 559.3 17.4 563.0 14.9 566.7 12.8 570.5 11.2 574.2 10.3 577.9 10.0 582.8 10.3 587.7 11.3 592.6 12.9 597.5 15.1 602.4 17.7 607.3 20.8 612.2 24.0 617.1 27.4 M401.6 10.9 405.2 11.2 408.8 12.1 412.4 13.6 416.1 15.6 419.7 17.9 423.3 20.7 426.9 23.6 430.5 26.7 434.0 23.7 437.5 20.8 441.0 18.1 444.5 15.7 448.0 13.8 451.5 12.4 455.0 11.5 458.6 11.2 477.6 11.4M477.6 26.0 482.5 23.1 487.4 20.2 492.3 17.6 497.2 15.3 502.2 13.4 507.1 12.0 512.0 11.1 516.9 10.9 520.8 11.2 524.7 12.1 528.6 13.6 532.5 15.6 536.4 18.0 540.3 20.8 544.2 23.9 548.1 27.0 551.8 24.0 555.5 21.0 559.3 18.3 563.0 15.9 566.7 14.0 570.5 12.5 574.2 11.6 577.9 11.3 582.8 11.6 587.7 12.4 592.6 13.8 597.5 15.7 602.4 17.9 607.3 20.5 612.2 23.3 617.1 26.2 M401.6 12.3 405.2 12.6 408.8 13.4 412.4 14.7 416.1 16.5 419.7 18.6 423.3 21.1 426.9 23.7 430.5 26.5 434.0 23.7 437.5 21.1 441.0 18.6 444.5 16.4 448.0 14.7 451.5 13.4 455.0 12.6 458.6 12.3 477.6 12.6M477.6 26.6 482.5 23.7 487.4 21.0 492.3 18.5 497.2 16.3 502.2 14.5 507.1 13.1 512.0 12.3 516.9 12.0 520.8 12.3 524.7 13.1 528.6 14.3 532.5 16.0 536.4 18.1 540.3 20.4 544.2 23.0 548.1 25.7 551.8 23.1 555.5 20.6 559.3 18.3 563.0 16.2 566.7 14.6 570.5 13.4 574.2 12.6 577.9 12.3 582.8 12.6 587.7 13.4 592.6 14.6 597.5 16.3 602.4 18.4 607.3 20.7 612.2 23.3 617.1 25.9 M401.6 8.8 405.2 9.1 408.8 10.1 412.4 11.7 416.1 13.8 419.7 16.4 423.3 19.3 426.9 22.5 430.5 25.9 434.0 22.4 437.5 19.1 441.0 16.1 444.5 13.4 448.0 11.2 451.5 9.6 455.0 8.6 458.6 8.2 477.6 8.2M477.6 25.8 482.5 22.3 487.4 19.0 492.3 16.0 497.2 13.3 502.2 11.1 507.1 9.5 512.0 8.5 516.9 8.1 520.8 8.4 524.7 9.4 528.6 11.0 532.5 13.2 536.4 15.8 540.3 18.8 544.2 22.0 548.1 25.4 551.8 22.0 555.5 18.8 559.3 15.8 563.0 13.2 566.7 11.1 570.5 9.5 574.2 8.5 577.9 8.2 582.8 8.5 587.7 9.5 592.6 11.2 597.5 13.4 602.4 16.1 607.3 19.2 612.2 22.5 617.1 26.0 M401.6 10.2 405.2 10.5 408.8 11.4 412.4 12.9 416.1 15.0 419.7 17.5 423.3 20.3 426.9 23.4 430.5 26.7 434.0 23.5 437.5 20.4 441.0 17.6 444.5 15.1 448.0 13.0 451.5 11.5 455.0 10.6 458.6 10.3 477.6 10.5M477.6 26.4 482.5 23.2 487.4 20.2 492.3 17.4 497.2 14.9 502.2 12.9 507.1 11.4 512.0 10.5 516.9 10.2 520.8 10.5 524.7 11.4 528.6 12.9 532.5 15.0 536.4 17.5 540.3 20.3 544.2 23.4 548.1 26.6 551.8 23.4 555.5 20.4 559.3 17.5 563.0 15.1 566.7 13.0 570.5 11.5 574.2 10.6 577.9 10.3 582.8 10.6 587.7 11.5 592.6 13.0 597.5 15.0 602.4 17.4 607.3 20.2 612.2 23.3 617.1 26.4 M401.6 18.2 406.4 18.4 411.2 19.1 416.1 20.1 420.9 21.4 425.7 23.0 430.5 24.6 435.2 22.9 439.9 21.3 444.5 19.9 449.2 18.9 453.9 18.2 458.6 18.0 477.6 17.6M477.6 24.3 485.5 22.6 493.3 21.0 501.2 19.7 509.0 18.9 516.9 18.6 522.1 18.8 527.3 19.4 532.5 20.4 537.7 21.7 542.9 23.1 548.1 24.7 553.1 23.1 558.0 21.6 563.0 20.2 568.0 19.2 572.9 18.6 577.9 18.4 584.4 18.6 591.0 19.2 597.5 20.2 604.0 21.5 610.6 23.1 617.1 24.7 M401.6 17.7 406.4 17.9 411.2 18.5 416.1 19.5 420.9 20.8 425.7 22.3 430.5 23.9 436.1 22.1 441.7 20.5 447.3 19.2 452.9 18.4 458.6 18.1 477.6 18.0M477.6 24.2 484.2 22.6 490.7 21.1 497.2 19.8 503.8 18.8 510.3 18.2 516.9 18.0 522.1 18.2 527.3 18.8 532.5 19.8 537.7 21.0 542.9 22.5 548.1 24.1 553.1 22.5 558.0 21.1 563.0 19.8 568.0 18.8 572.9 18.2 577.9 18.0 584.4 18.3 591.0 18.9 597.5 19.9 604.0 21.3 610.6 22.9 617.1 24.6 M401.6 31.8 405.7 31.6 409.9 31.1 414.0 30.2 418.1 29.0 422.2 27.7 426.4 26.1 430.5 24.5 434.5 26.2 438.5 27.9 442.5 29.4 446.5 30.6 450.5 31.6 454.5 32.2 458.6 32.4 477.6 32.6M477.6 25.0 484.2 26.8 490.7 28.5 497.2 29.9 503.8 31.1 510.3 31.8 516.9 32.0 521.4 31.8 525.8 31.3 530.3 30.4 534.7 29.3 539.2 27.9 543.6 26.3 548.1 24.7 553.1 26.5 558.0 28.3 563.0 29.7 568.0 30.9 572.9 31.6 577.9 31.8 584.4 31.6 591.0 30.9 597.5 29.8 604.0 28.4 610.6 26.8 617.1 25.0 M401.6 31.3 406.4 31.1 411.2 30.4 416.1 29.4 420.9 28.1 425.7 26.5 430.5 24.9 435.2 26.6 439.9 28.3 444.5 29.7 449.2 30.8 453.9 31.4 458.6 31.7 477.6 31.6M477.6 25.7 485.5 27.4 493.3 29.0 501.2 30.3 509.0 31.1 516.9 31.4 522.1 31.2 527.3 30.6 532.5 29.6 537.7 28.3 542.9 26.9 548.1 25.3 553.1 27.0 558.0 28.5 563.0 29.9 568.0 30.9 572.9 31.5 577.9 31.8 584.4 31.5 591.0 30.9 597.5 29.9 604.0 28.5 610.6 27.0 617.1 25.3 M401.6 14.4 430.5 14.6 458.6 14.3 477.6 13.9M477.6 14.4 516.9 14.4 548.1 14.4 577.9 14.5 617.1 14.4 M401.6 21.4 430.5 21.1 458.6 21.1 477.6 20.7M477.6 21.5 516.9 21.3 548.1 21.2 577.9 21.1 617.1 21.1 M401.6 22.1 430.5 22.2 458.6 22.0 477.6 21.8M477.6 22.0 516.9 22.5 548.1 22.0 577.9 22.0 617.1 22.4 M401.6 25.4 430.5 25.4 458.6 25.7 477.6 26.0M477.6 25.8 516.9 25.4 548.1 25.5 577.9 25.5 617.1 25.6 M401.6 29.9 430.5 30.5 458.6 30.0 477.6 30.4M477.6 30.0 516.9 30.3 548.1 29.6 577.9 29.4 617.1 29.8 M401.6 29.0 430.5 29.5 458.6 28.8 477.6 28.7M477.6 29.4 516.9 29.1 548.1 28.7 577.9 29.2 617.1 29.3 M401.6 27.9 430.5 28.7 458.6 28.3 477.6 28.0M477.6 28.6 516.9 28.0 548.1 28.4 577.9 27.9 617.1 28.3 M401.6 38.5 430.5 38.1 458.6 37.9 477.6 37.8M477.6 38.0 516.9 37.4 548.1 37.5 577.9 38.1 617.1 38.1 M401.6 37.6 430.5 37.8 458.6 37.5 477.6 37.2M477.6 37.4 516.9 37.1 548.1 37.2 577.9 38.1 617.1 37.4 M401.6 37.0 430.5 36.9 458.6 37.8 477.6 37.8M477.6 37.0 516.9 37.2 548.1 37.2 577.9 37.5 617.1 37.6 M401.6 37.2 430.5 36.7 458.6 37.4 477.6 37.8M477.6 37.2 516.9 37.4 548.1 37.3 577.9 36.6 617.1 37.3 M401.6 36.9 430.5 36.4 458.6 37.3 477.6 36.9M477.6 36.9 516.9 36.9 548.1 36.7 577.9 37.1 617.1 36.4 M401.6 37.0 430.5 36.7 458.6 36.8 477.6 36.9M477.6 36.2 516.9 36.9 548.1 36.8 577.9 36.3 617.1 36.2 M401.6 36.3 430.5 36.2 458.6 35.8 477.6 35.4M477.6 36.0 516.9 36.4 548.1 35.7 577.9 35.7 617.1 35.9 M401.6 35.5 430.5 35.7 458.6 35.4 477.6 35.6M477.6 35.7 516.9 35.6 548.1 36.0 577.9 35.3 617.1 36.0 M401.6 35.2 430.5 35.2 458.6 35.9 477.6 36.2M477.6 36.2 516.9 35.8 548.1 36.3 577.9 35.3 617.1 35.9 M401.6 34.9 430.5 35.7 458.6 35.0 477.6 34.9M477.6 35.0 516.9 35.1 548.1 35.5 577.9 35.5 617.1 35.7 M401.6 35.5 430.5 35.4 458.6 35.3 477.6 35.6M477.6 35.4 516.9 34.6 548.1 35.2 577.9 35.5 617.1 35.4 M401.6 35.2 430.5 34.5 458.6 35.2 477.6 35.3M477.6 35.4 516.9 34.7 548.1 35.3 577.9 35.0 617.1 34.5 M401.6 34.2 430.5 34.3 458.6 35.0 477.6 35.1M477.6 34.4 516.9 34.5 548.1 34.7 577.9 34.2 617.1 34.0 M401.6 34.3 430.5 34.2 458.6 34.2 477.6 34.1M477.6 34.2 516.9 34.5 548.1 33.7 577.9 33.9 617.1 33.7 M401.6 34.0 430.5 33.3 458.6 34.0 477.6 34.4M477.6 34.3 516.9 33.9 548.1 33.4 577.9 34.4 617.1 33.7 M401.6 34.1 430.5 33.8 458.6 33.8 477.6 34.2M477.6 34.0 516.9 33.3 548.1 34.0 577.9 34.2 617.1 33.4 M401.6 33.0 430.5 33.5 458.6 33.4 477.6 33.6M477.6 33.5 516.9 34.0 548.1 33.9 577.9 33.1 617.1 33.5 M401.6 33.6 430.5 32.8 458.6 32.8 477.6 32.6M477.6 33.7 516.9 32.9 548.1 33.3 577.9 33.2 617.1 33.7 M401.6 33.4 430.5 32.8 458.6 33.3 477.6 33.4M477.6 32.5 516.9 33.5 548.1 32.5 577.9 33.3 617.1 32.7 M401.6 32.1 430.5 32.9 458.6 33.0 477.6 32.9M477.6 32.7 516.9 33.1 548.1 32.8 577.9 32.2 617.1 32.7 M401.6 32.5 430.5 32.6 458.6 32.0 477.6 32.0M477.6 32.0 516.9 32.0 548.1 31.8 577.9 32.3 617.1 32.7 M401.6 31.8 430.5 32.4 458.6 31.8 477.6 32.1M477.6 31.9 516.9 32.5 548.1 31.8 577.9 31.9 617.1 31.9 M401.6 31.5 430.5 31.3 458.6 31.7 477.6 31.5M477.6 31.6 516.9 32.2 548.1 32.2 577.9 31.4 617.1 32.1 M401.6 31.4 430.5 31.1 458.6 31.5 477.6 31.1M477.6 31.6 516.9 31.9 548.1 31.8 577.9 31.0 617.1 31.9 M401.6 39.9 430.5 40.1 458.6 40.2 477.6 40.3M477.6 39.9 516.9 39.8 548.1 40.1 577.9 40.0 617.1 40.0 M401.6 41.4 430.5 41.5 458.6 41.6 477.6 41.8M477.6 41.6 516.9 41.3 548.1 41.5 577.9 41.7 617.1 41.3 M401.6 45.0 405.2 44.7 408.8 43.8 412.4 42.4 416.1 40.5 419.7 38.2 423.3 35.6 426.9 32.8 430.5 29.9 434.0 32.8 437.5 35.6 441.0 38.2 444.5 40.5 448.0 42.3 451.5 43.7 455.0 44.6 458.6 44.9 477.6 45.0M477.6 30.1 482.5 33.1 487.4 35.9 492.3 38.5 497.2 40.8 502.2 42.6 507.1 44.0 512.0 44.9 516.9 45.2 520.8 44.9 524.7 44.0 528.6 42.6 532.5 40.8 536.4 38.5 540.3 35.9 544.2 33.1 548.1 30.2 551.8 33.1 555.5 35.9 559.3 38.5 563.0 40.8 566.7 42.6 570.5 44.0 574.2 44.9 577.9 45.2 582.8 44.9 587.7 44.0 592.6 42.6 597.5 40.7 602.4 38.4 607.3 35.7 612.2 32.8 617.1 29.9 M401.6 45.1 405.2 44.8 408.8 44.0 412.4 42.7 416.1 41.0 419.7 38.8 423.3 36.4 426.9 33.8 430.5 31.0 434.0 33.8 437.5 36.5 441.0 39.0 444.5 41.1 448.0 42.9 451.5 44.2 455.0 45.0 458.6 45.3 477.6 45.0M477.6 30.6 482.5 33.5 487.4 36.3 492.3 38.8 497.2 41.1 502.2 42.9 507.1 44.3 512.0 45.2 516.9 45.4 520.8 45.2 524.7 44.3 528.6 42.9 532.5 41.1 536.4 38.8 540.3 36.2 544.2 33.4 548.1 30.5 551.8 33.4 555.5 36.1 559.3 38.6 563.0 40.8 566.7 42.6 570.5 44.0 574.2 44.8 577.9 45.1 582.8 44.8 587.7 43.9 592.6 42.6 597.5 40.7 602.4 38.5 607.3 35.9 612.2 33.2 617.1 30.3 M401.6 43.6 405.2 43.4 408.8 42.7 412.4 41.6 416.1 40.1 419.7 38.3 423.3 36.2 426.9 33.9 430.5 31.5 434.0 33.8 437.5 36.0 441.0 38.0 444.5 39.7 448.0 41.1 451.5 42.2 455.0 42.9 458.6 43.1 477.6 42.8M477.6 31.4 482.5 33.8 487.4 36.0 492.3 38.2 497.2 40.0 502.2 41.5 507.1 42.6 512.0 43.3 516.9 43.6 520.8 43.3 524.7 42.6 528.6 41.5 532.5 40.0 536.4 38.1 540.3 36.0 544.2 33.8 548.1 31.4 551.8 33.8 555.5 36.1 559.3 38.3 563.0 40.2 566.7 41.7 570.5 42.9 574.2 43.6 577.9 43.8 582.8 43.6 587.7 42.9 592.6 41.7 597.5 40.2 602.4 38.3 607.3 36.2 612.2 33.9 617.1 31.5 M401.6 43.3 405.2 43.1 408.8 42.4 412.4 41.3 416.1 39.8 419.7 38.0 423.3 36.0 426.9 33.8 430.5 31.5 434.0 33.8 437.5 36.0 441.0 38.1 444.5 39.8 448.0 41.3 451.5 42.4 455.0 43.1 458.6 43.3 477.6 43.2M477.6 31.5 482.5 33.7 487.4 35.9 492.3 37.8 497.2 39.6 502.2 41.0 507.1 42.1 512.0 42.7 516.9 42.9 520.8 42.7 524.7 42.0 528.6 40.9 532.5 39.4 536.4 37.6 540.3 35.5 544.2 33.3 548.1 31.0 551.8 33.4 555.5 35.8 559.3 38.0 563.0 39.9 566.7 41.5 570.5 42.7 574.2 43.4 577.9 43.6 582.8 43.4 587.7 42.7 592.6 41.6 597.5 40.0 602.4 38.1 607.3 36.0 612.2 33.6 617.1 31.2 M401.6 45.3 405.2 45.0 408.8 44.2 412.4 42.8 416.1 41.0 419.7 38.8 423.3 36.3 426.9 33.6 430.5 30.8 434.0 33.6 437.5 36.4 441.0 38.9 444.5 41.2 448.0 43.0 451.5 44.4 455.0 45.2 458.6 45.5 477.6 45.1M477.6 30.6 482.5 33.5 487.4 36.3 492.3 38.9 497.2 41.2 502.2 43.1 507.1 44.5 512.0 45.3 516.9 45.6 520.8 45.3 524.7 44.4 528.6 43.0 532.5 41.0 536.4 38.6 540.3 35.9 544.2 32.9 548.1 29.8 551.8 32.9 555.5 35.8 559.3 38.5 563.0 40.8 566.7 42.7 570.5 44.2 574.2 45.1 577.9 45.4 582.8 45.1 587.7 44.2 592.6 42.7 597.5 40.8 602.4 38.5 607.3 35.8 612.2 32.9 617.1 29.9 M401.6 88.8 407.4 89.0 413.2 89.7 418.9 90.8 424.7 92.1 430.5 93.6 439.9 95.0 449.2 96.1 458.6 96.4 477.6 96.6M477.6 97.2 482.5 95.6 487.4 93.9 492.3 92.4 497.2 91.1 502.2 90.1 507.1 89.3 512.0 88.8 516.9 88.6 523.1 88.9 529.4 89.6 535.6 90.8 541.9 92.2 548.1 93.8 558.0 95.3 568.0 96.3 577.9 96.7 617.1 97.5 M401.6 96.5 411.2 96.2 420.9 95.2 430.5 93.9 436.1 92.2 441.7 90.8 447.3 89.6 452.9 88.8 458.6 88.6 477.6 88.7M477.6 96.6 516.9 96.4 527.3 96.0 537.7 95.1 548.1 93.7 554.1 92.2 560.0 90.7 566.0 89.6 571.9 88.9 577.9 88.6 582.8 88.8 587.7 89.4 592.6 90.2 597.5 91.4 602.4 92.8 607.3 94.5 612.2 96.3 617.1 98.1 M401.6 97.5 430.5 97.2 458.6 97.3 477.6 96.9M477.6 97.6 516.9 97.1 548.1 97.2 577.9 97.6 617.1 97.4 M401.6 113.7 430.5 112.8 458.6 113.1 477.6 113.0M477.6 112.8 516.9 113.1 548.1 113.5 577.9 112.7 617.1 113.8 M401.6 113.3 430.5 112.6 458.6 113.3 477.6 113.2M477.6 112.2 516.9 113.1 548.1 113.4 577.9 112.7 617.1 112.7 M401.6 112.3 430.5 112.6 458.6 112.7 477.6 112.5M477.6 111.9 516.9 113.1 548.1 112.8 577.9 112.8 617.1 112.8 M401.6 111.9 430.5 111.8 458.6 112.6 477.6 112.2M477.6 111.6 516.9 111.6 548.1 111.5 577.9 112.2 617.1 112.0 M401.6 112.4 416.1 111.7 430.5 111.0 458.6 111.9 477.6 111.8M477.6 111.4 516.9 111.2 548.1 111.2 563.0 111.8 577.9 112.4 617.1 112.3 M401.6 111.3 430.5 112.1 458.6 111.6 477.6 111.9M477.6 111.4 516.9 111.6 548.1 110.8 577.9 111.1 617.1 111.0 M401.6 111.4 430.5 110.6 458.6 110.5 477.6 110.3M477.6 111.3 516.9 111.8 532.5 111.2 548.1 110.5 577.9 111.5 617.1 111.7 M401.6 111.5 430.5 110.8 458.6 111.2 477.6 111.3M477.6 111.1 516.9 111.3 548.1 110.6 577.9 111.5 617.1 111.5 M401.6 110.5 430.5 110.6 458.6 110.7 477.6 110.7M477.6 110.7 516.9 109.9 548.1 109.8 563.0 110.5 577.9 111.1 617.1 110.4 M401.6 110.3 430.5 110.7 458.6 110.3 477.6 110.2M477.6 110.1 516.9 109.6 548.1 110.7 577.9 109.8 617.1 110.4 M401.6 109.7 430.5 110.1 458.6 109.3 477.6 109.5M477.6 110.1 516.9 109.8 548.1 110.1 577.9 109.9 617.1 110.3 M401.6 109.3 430.5 109.9 458.6 109.0 477.6 109.4M477.6 109.1 516.9 109.2 548.1 109.0 577.9 109.5 617.1 109.6 M401.6 109.0 430.5 109.3 458.6 109.6 477.6 109.3M477.6 109.0 516.9 108.9 548.1 109.1 577.9 109.4 617.1 109.2 M401.6 108.3 430.5 108.6 458.6 108.6 477.6 108.2M477.6 108.7 516.9 109.0 548.1 108.3 577.9 108.9 617.1 109.5 M401.6 108.4 430.5 108.4 458.6 108.6 477.6 108.7M477.6 108.2 516.9 107.9 548.1 108.3 577.9 107.9 617.1 108.8 M401.6 108.4 430.5 108.2 458.6 108.7 477.6 108.8M477.6 107.5 516.9 108.0 548.1 107.8 577.9 108.0 617.1 108.3 M401.6 107.7 430.5 107.6 458.6 108.0 477.6 107.6M477.6 107.6 516.9 107.6 548.1 108.0 577.9 107.4 617.1 108.5 M401.6 108.2 430.5 108.1 458.6 107.0 477.6 106.8M477.6 107.2 516.9 107.8 548.1 107.9 577.9 107.5 617.1 108.2 M401.6 107.4 430.5 108.0 444.5 107.3 458.6 106.7 477.6 107.1M477.6 107.3 516.9 107.4 548.1 107.0 577.9 107.9 617.1 107.9 M401.6 107.1 430.5 106.9 458.6 106.5 477.6 106.3M477.6 107.4 516.9 106.3 548.1 106.9 577.9 106.5 617.1 107.5 M401.6 106.2 430.5 106.7 458.6 106.6 477.6 106.8M477.6 106.6 516.9 106.4 548.1 107.1 577.9 106.8 617.1 106.2 M401.6 106.7 430.5 106.1 458.6 106.6 477.6 106.8M477.6 106.6 516.9 105.8 548.1 105.7 577.9 105.9 617.1 106.1 M401.6 106.5 430.5 106.5 458.6 106.1 477.6 106.4M477.6 105.7 516.9 106.1 548.1 105.4 577.9 106.2 617.1 105.5 M401.6 105.2 430.5 106.3 458.6 106.2 477.6 106.6M477.6 105.3 516.9 106.1 548.1 106.1 577.9 105.4 617.1 106.1 M401.6 104.9 430.5 105.4 458.6 106.1 477.6 106.0M477.6 105.9 516.9 104.9 548.1 104.7 577.9 105.7 617.1 105.9 M401.6 104.4 430.5 105.0 458.6 105.0 477.6 105.3M477.6 105.6 497.2 104.9 516.9 104.3 548.1 104.5 577.9 105.6 617.1 104.9 M401.6 105.0 430.5 105.2 458.6 105.3 477.6 105.4M477.6 104.5 516.9 104.1 548.1 104.7 577.9 105.1 617.1 105.1 M401.6 104.8 430.5 104.3 458.6 104.1 477.6 104.0M477.6 104.1 516.9 105.0 548.1 104.3 577.9 104.9 617.1 104.0 M401.6 103.6 430.5 104.2 458.6 104.9 477.6 104.6M477.6 103.6 516.9 104.7 532.5 104.1 548.1 103.5 563.0 104.1 577.9 104.7 597.5 104.1 617.1 103.5 M401.6 103.9 430.5 104.4 444.5 103.7 458.6 103.1 477.6 103.0M477.6 104.4 516.9 103.4 548.1 103.5 577.9 104.2 617.1 103.4 M401.6 103.0 430.5 103.4 458.6 103.9 477.6 103.7M477.6 103.6 516.9 103.0 548.1 104.0 563.0 103.3 577.9 102.6 617.1 103.2 M401.6 103.6 430.5 103.5 458.6 102.5 477.6 102.2M477.6 103.3 516.9 102.4 548.1 102.9 577.9 103.2 617.1 102.4 M401.6 103.4 430.5 103.0 458.6 102.2 477.6 102.4M477.6 103.4 516.9 102.7 548.1 103.2 577.9 102.4 617.1 102.9 M401.6 102.3 430.5 102.7 458.6 102.0 477.6 101.9M477.6 102.9 516.9 102.7 548.1 101.8 577.9 101.9 617.1 102.3 M401.6 102.0 430.5 102.6 458.6 102.4 477.6 102.7M477.6 102.2 516.9 102.4 548.1 101.7 577.9 101.9 617.1 102.9 M401.6 101.4 430.5 101.7 458.6 102.2 477.6 102.0M477.6 102.0 516.9 101.5 548.1 101.7 577.9 101.6 617.1 102.1 M401.6 101.6 430.5 101.4 458.6 102.1 477.6 102.2M477.6 101.2 516.9 101.9 548.1 101.9 577.9 101.7 617.1 101.4 M401.6 101.6 430.5 101.7 458.6 101.7 477.6 101.5M477.6 101.7 516.9 100.6 532.5 101.2 548.1 101.8 563.0 101.2 577.9 100.6 617.1 101.5 M401.6 101.6 430.5 101.6 458.6 101.0 477.6 101.3M477.6 100.4 516.9 100.6 548.1 101.0 577.9 100.4 617.1 101.1 M401.6 101.0 430.5 100.2 458.6 101.0 477.6 100.9M477.6 100.9 516.9 101.0 548.1 100.7 577.9 101.0 617.1 100.6 M401.6 117.6 430.5 117.8 458.6 117.3 477.6 117.5M477.6 117.8 516.9 118.3 548.1 117.8 577.9 117.5 617.1 118.1 M401.6 118.2 430.5 117.2 458.6 117.1 477.6 117.5M477.6 117.6 516.9 117.2 548.1 117.7 577.9 117.7 617.1 117.5 M401.6 117.3 430.5 116.4 458.6 116.6 477.6 116.7M477.6 116.5 516.9 116.7 548.1 117.0 577.9 116.4 617.1 116.5 M401.6 116.9 430.5 116.2 458.6 116.0 477.6 115.8M477.6 116.7 516.9 116.8 548.1 116.0 577.9 116.3 617.1 116.9 M401.6 123.6 430.5 123.7 458.6 124.0 477.6 123.8M477.6 123.6 516.9 124.3 548.1 123.5 577.9 123.4 617.1 123.9 M401.6 123.1 430.5 123.0 458.6 123.4 477.6 123.8M477.6 123.2 516.9 123.4 548.1 122.6 577.9 123.4 617.1 123.6 M401.6 122.7 430.5 122.4 458.6 122.6 477.6 122.5M477.6 122.8 516.9 122.6 548.1 122.9 577.9 121.9 617.1 122.5 M401.6 121.6 430.5 121.6 458.6 121.3 477.6 121.5M477.6 121.8 516.9 121.1 548.1 121.7 577.9 122.0 617.1 121.3 M401.6 121.0 430.5 121.4 458.6 121.5 477.6 121.3M477.6 120.9 516.9 121.1 548.1 120.7 577.9 121.6 617.1 121.2 M401.6 123.0 408.8 123.3 416.1 124.1 423.3 125.3 430.5 126.7 439.9 125.0 449.2 123.8 458.6 123.3 477.6 122.9M477.6 127.0 487.4 125.6 497.2 124.3 507.1 123.5 516.9 123.2 524.7 123.5 532.5 124.3 540.3 125.6 548.1 127.0 558.0 125.2 568.0 123.9 577.9 123.5 587.7 123.8 597.5 124.7 607.3 126.0 617.1 127.6 M401.6 123.2 408.8 123.6 416.1 124.5 423.3 125.9 430.5 127.5 437.5 125.8 444.5 124.4 451.5 123.5 458.6 123.1 477.6 123.5M477.6 127.3 487.4 125.7 497.2 124.4 507.1 123.5 516.9 123.2 524.7 123.5 532.5 124.5 540.3 125.9 548.1 127.5 555.5 125.8 563.0 124.4 570.5 123.4 577.9 123.1 587.7 123.4 597.5 124.2 607.3 125.4 617.1 126.9 M401.6 124.4 411.2 124.9 420.9 126.2 430.5 128.0 437.5 126.4 444.5 125.1 451.5 124.3 458.6 124.0 477.6 124.0M477.6 127.2 490.7 125.6 503.8 124.4 516.9 124.0 527.3 124.4 537.7 125.6 548.1 127.2 558.0 125.6 568.0 124.4 577.9 124.0 591.0 124.4 604.0 125.7 617.1 127.4 M401.6 130.9 408.8 130.6 416.1 129.6 423.3 128.2 430.5 126.6 437.5 128.3 444.5 129.7 451.5 130.6 458.6 130.9 477.6 130.8M477.6 127.2 487.4 128.6 497.2 129.8 507.1 130.7 516.9 130.9 524.7 130.6 532.5 129.6 540.3 128.1 548.1 126.3 555.5 128.1 563.0 129.6 570.5 130.6 577.9 131.0 591.0 130.5 604.0 129.2 617.1 127.4 M401.6 130.9 411.2 130.5 420.9 129.4 430.5 127.8 439.9 129.5 449.2 130.8 458.6 131.3 477.6 131.5M477.6 127.0 487.4 128.5 497.2 129.8 507.1 130.6 516.9 130.9 527.3 130.5 537.7 129.3 548.1 127.6 558.0 129.2 568.0 130.3 577.9 130.7 591.0 130.4 604.0 129.3 617.1 127.8 M401.6 130.9 408.8 130.6 416.1 129.7 423.3 128.4 430.5 126.8 437.5 128.3 444.5 129.7 451.5 130.5 458.6 130.9 477.6 130.8M477.6 127.2 487.4 128.7 497.2 129.9 507.1 130.7 516.9 131.0 524.7 130.7 532.5 129.7 540.3 128.3 548.1 126.6 555.5 128.1 563.0 129.3 570.5 130.1 577.9 130.4 587.7 130.1 597.5 129.2 607.3 127.9 617.1 126.4 M401.6 137.7 430.5 137.2 458.6 137.5 477.6 137.3M477.6 137.4 516.9 137.7 548.1 136.9 577.9 137.3 617.1 137.2 M401.6 137.0 430.5 137.2 458.6 136.8 477.6 136.7M477.6 136.8 516.9 137.3 548.1 137.3 577.9 136.9 617.1 137.0 M401.6 136.7 430.5 136.8 458.6 137.0 477.6 136.9M477.6 137.0 516.9 137.0 548.1 136.8 577.9 136.8 617.1 136.9 M401.6 136.4 430.5 136.9 458.6 136.5 477.6 136.1M477.6 136.8 516.9 136.6 548.1 136.7 577.9 136.9 617.1 136.2 M401.6 135.7 430.5 136.2 458.6 136.1 477.6 136.5M477.6 135.8 516.9 135.6 548.1 135.8 577.9 136.3 617.1 135.8 M401.6 135.3 430.5 135.2 458.6 135.3 477.6 134.9M477.6 135.9 516.9 135.8 548.1 135.3 577.9 135.2 617.1 135.5 M401.6 135.5 430.5 135.1 458.6 135.0 477.6 135.2M477.6 135.6 516.9 135.0 548.1 135.1 577.9 135.0 617.1 135.7 M401.6 135.4 430.5 135.0 458.6 134.9 477.6 134.8M477.6 134.8 516.9 134.6 548.1 134.7 577.9 135.1 617.1 134.8 M401.6 135.0 430.5 134.9 458.6 134.3 477.6 133.9M477.6 134.9 516.9 134.8 548.1 134.7 577.9 134.4 617.1 134.3 M401.6 133.7 430.5 134.0 458.6 134.3 477.6 134.4M477.6 134.3 516.9 134.0 548.1 133.8 577.9 133.8 617.1 134.1 M401.6 133.7 430.5 133.6 458.6 134.0 477.6 134.1M477.6 133.7 516.9 133.6 548.1 133.7 577.9 133.9 617.1 133.5 M401.6 133.5 430.5 133.4 458.6 133.3 477.6 133.1M477.6 133.5 516.9 133.1 548.1 133.7 577.9 133.8 617.1 133.6 M401.6 132.7 430.5 133.3 458.6 132.6 477.6 132.3M477.6 132.9 516.9 132.8 548.1 132.7 577.9 132.7 617.1 132.8 M401.6 132.6 430.5 133.1 458.6 132.9 477.6 132.7M477.6 132.7 516.9 132.9 548.1 133.2 577.9 132.6 617.1 133.1 M401.6 131.9 430.5 132.4 458.6 132.5 477.6 132.5M477.6 132.6 516.9 132.1 548.1 132.3 577.9 132.6 617.1 132.2 M401.6 132.3 430.5 131.6 458.6 132.1 477.6 132.3M477.6 131.5 516.9 132.3 548.1 132.2 577.9 132.2 617.1 131.9 M401.6 131.7 430.5 131.6 458.6 131.2 477.6 131.3M477.6 131.5 516.9 131.3 548.1 131.6 577.9 132.0 617.1 131.4 M401.6 131.4 430.5 131.7 458.6 131.1 477.6 131.0M477.6 131.4 516.9 131.7 548.1 131.7 577.9 131.7 617.1 131.7 M401.6 145.6 430.5 145.4 458.6 145.7 477.6 145.8M477.6 145.8 516.9 145.8 548.1 145.7 577.9 145.7 617.1 146.2 M401.6 145.3 430.5 145.6 458.6 144.9 477.6 144.7M477.6 145.3 516.9 145.2 548.1 145.6 577.9 145.7 617.1 145.7 M401.6 144.6 430.5 144.7 458.6 144.5 477.6 144.5M477.6 144.5 516.9 144.4 548.1 144.8 577.9 144.5 617.1 144.8 M401.6 144.1 430.5 144.2 458.6 143.8 477.6 143.6M477.6 144.4 516.9 143.9 548.1 143.7 577.9 144.0 617.1 143.8 M401.6 143.1 430.5 143.7 458.6 143.6 477.6 143.3M477.6 143.3 516.9 143.6 548.1 143.1 577.9 143.4 617.1 143.7 M401.6 143.6 430.5 142.9 458.6 143.1 477.6 143.5M477.6 143.4 516.9 143.5 548.1 142.9 577.9 142.9 617.1 143.4 M401.6 142.5 430.5 142.7 458.6 142.9 477.6 143.1M477.6 142.6 516.9 142.3 548.1 142.4 577.9 142.4 617.1 142.9 M401.6 141.9 430.5 142.0 458.6 141.9 477.6 142.0M477.6 141.5 516.9 141.9 548.1 141.9 577.9 142.0 617.1 142.3 M401.6 147.2 430.5 147.1 458.6 147.2 477.6 147.3M477.6 147.5 516.9 147.6 548.1 147.1 577.9 147.4 617.1 147.2 M401.6 148.8 430.5 148.6 458.6 148.8 477.6 149.0M477.6 149.1 516.9 148.7 548.1 148.6 577.9 148.6 617.1 148.9 M401.6 154.2 430.5 154.5 458.6 154.1 477.6 154.2M477.6 154.3 516.9 154.3 548.1 154.2 577.9 154.2 617.1 154.5 M401.6 153.6 430.5 153.6 458.6 153.6 477.6 154.0M477.6 153.3 516.9 153.2 548.1 153.4 577.9 153.7 617.1 153.3 M401.6 152.3 430.5 152.8 458.6 152.5 477.6 152.6M477.6 152.6 516.9 152.8 548.1 152.7 577.9 152.8 617.1 152.2 M401.6 151.5 430.5 151.9 458.6 151.7 477.6 151.7M477.6 151.6 516.9 151.7 548.1 151.5 577.9 151.9 617.1 151.7 M401.6 157.6 430.5 157.8 458.6 157.5 477.6 157.2M477.6 157.9 516.9 157.8 548.1 157.7 577.9 157.9 617.1 157.6 M401.6 158.7 430.5 158.4 458.6 158.8 477.6 159.0M477.6 158.6 516.9 158.8 548.1 158.9 577.9 158.8 617.1 158.9 M401.6 162.6 430.5 162.6 458.6 162.9 477.6 163.2M477.6 163.1 516.9 162.7 548.1 162.8 577.9 163.0 617.1 162.8 M401.6 162.0 430.5 162.1 458.6 161.9 477.6 161.9M477.6 162.0 516.9 162.3 548.1 162.0 577.9 162.2 617.1 162.2 M401.6 161.2 430.5 160.9 458.6 161.4 477.6 161.7M477.6 161.1 516.9 161.2 548.1 161.1 577.9 161.1 617.1 161.3 M401.6 161.0 430.5 160.8 458.6 160.8 477.6 161.2M477.6 160.8 516.9 160.8 548.1 160.8 577.9 160.8 617.1 160.9 M401.6 164.6 430.5 164.7 458.6 164.8 477.6 164.5M477.6 164.7 516.9 164.9 548.1 164.9 577.9 164.8 617.1 164.8 M401.6 164.5 430.5 164.5 458.6 164.8 477.6 164.4M477.6 164.3 516.9 164.5 548.1 164.7 577.9 164.4 617.1 164.8 M401.6 163.8 430.5 163.8 458.6 163.8 477.6 163.5M477.6 163.7 516.9 163.7 548.1 163.7 577.9 163.6 617.1 163.6 M401.6 169.7 430.5 169.9 458.6 169.5 477.6 169.8M477.6 169.6 516.9 170.0 548.1 169.7 577.9 169.5 617.1 169.8 M401.6 169.5 430.5 169.3 458.6 169.4 477.6 169.7M477.6 169.3 516.9 169.5 548.1 169.2 577.9 169.2 617.1 169.1 M401.6 168.4 430.5 168.4 458.6 168.4 477.6 168.2M477.6 168.1 516.9 168.2 548.1 168.3 577.9 168.3 617.1 168.4 M401.6 167.6 430.5 167.7 458.6 167.8 477.6 168.2M477.6 167.9 516.9 167.7 548.1 167.9 577.9 167.6 617.1 167.6 M401.6 167.1 430.5 167.0 458.6 167.0 477.6 167.5M477.6 166.9 516.9 167.2 548.1 166.7 577.9 167.1 617.1 166.7" fill="none" stroke="#0e32f5" stroke-width="0.85" stroke-opacity="1.0"/></g><line x1="430.5" y1="1.4" x2="430.5" y2="170.5" stroke="#222" stroke-width="0.9"/>
<line x1="458.55" y1="1.4" x2="458.55" y2="170.5" stroke="#222" stroke-width="0.9"/>
<line x1="477.6" y1="1.4" x2="477.6" y2="170.5" stroke="#222" stroke-width="0.9"/>
<line x1="516.9" y1="1.4" x2="516.9" y2="170.5" stroke="#222" stroke-width="0.9"/>
<line x1="548.1" y1="1.4" x2="548.1" y2="170.5" stroke="#222" stroke-width="0.9"/>
<line x1="577.9" y1="1.4" x2="577.9" y2="170.5" stroke="#222" stroke-width="0.9"/>
<line x1="401.6" y1="86.45" x2="617.1" y2="86.45" stroke="#f22" stroke-width="0.9" stroke-dasharray="1.6 1.2"/>
<rect x="401.6" y="1.4" width="215.5" height="169.1" fill="none" stroke="#222" stroke-width="1"/>
<line x1="401.6" y1="158.9" x2="403.20000000000005" y2="158.9" stroke="#222" stroke-width="0.8"/>
<line x1="617.1" y1="158.9" x2="615.5" y2="158.9" stroke="#222" stroke-width="0.8"/>
<line x1="401.6" y1="144.4" x2="404.8" y2="144.4" stroke="#222" stroke-width="0.8"/>
<line x1="617.1" y1="144.4" x2="613.9" y2="144.4" stroke="#222" stroke-width="0.8"/>
<text x="397.8" y="148.0" text-anchor="end" class="ty">-4</text>
<line x1="401.6" y1="129.9" x2="403.20000000000005" y2="129.9" stroke="#222" stroke-width="0.8"/>
<line x1="617.1" y1="129.9" x2="615.5" y2="129.9" stroke="#222" stroke-width="0.8"/>
<line x1="401.6" y1="115.5" x2="404.8" y2="115.5" stroke="#222" stroke-width="0.8"/>
<line x1="617.1" y1="115.5" x2="613.9" y2="115.5" stroke="#222" stroke-width="0.8"/>
<text x="397.8" y="119.0" text-anchor="end" class="ty">-2</text>
<line x1="401.6" y1="101.0" x2="403.20000000000005" y2="101.0" stroke="#222" stroke-width="0.8"/>
<line x1="617.1" y1="101.0" x2="615.5" y2="101.0" stroke="#222" stroke-width="0.8"/>
<line x1="401.6" y1="86.5" x2="404.8" y2="86.5" stroke="#222" stroke-width="0.8"/>
<line x1="617.1" y1="86.5" x2="613.9" y2="86.5" stroke="#222" stroke-width="0.8"/>
<text x="397.8" y="90.0" text-anchor="end" class="ty">0</text>
<line x1="401.6" y1="72.0" x2="403.20000000000005" y2="72.0" stroke="#222" stroke-width="0.8"/>
<line x1="617.1" y1="72.0" x2="615.5" y2="72.0" stroke="#222" stroke-width="0.8"/>
<line x1="401.6" y1="57.5" x2="404.8" y2="57.5" stroke="#222" stroke-width="0.8"/>
<line x1="617.1" y1="57.5" x2="613.9" y2="57.5" stroke="#222" stroke-width="0.8"/>
<text x="397.8" y="61.1" text-anchor="end" class="ty">2</text>
<line x1="401.6" y1="43.0" x2="403.20000000000005" y2="43.0" stroke="#222" stroke-width="0.8"/>
<line x1="617.1" y1="43.0" x2="615.5" y2="43.0" stroke="#222" stroke-width="0.8"/>
<line x1="401.6" y1="28.5" x2="404.8" y2="28.5" stroke="#222" stroke-width="0.8"/>
<line x1="617.1" y1="28.5" x2="613.9" y2="28.5" stroke="#222" stroke-width="0.8"/>
<text x="397.8" y="32.1" text-anchor="end" class="ty">4</text>
<line x1="401.6" y1="14.0" x2="403.20000000000005" y2="14.0" stroke="#222" stroke-width="0.8"/>
<line x1="617.1" y1="14.0" x2="615.5" y2="14.0" stroke="#222" stroke-width="0.8"/>
<text x="401.6" y="179.5" text-anchor="middle" class="tk">Γ</text>
<text x="430.5" y="179.5" text-anchor="middle" class="tk">X|Y</text>
<text x="458.55" y="179.5" text-anchor="middle" class="tk">Γ</text>
<text x="478.8" y="179.5" text-anchor="middle" class="tk">Z|R<tspan font-size="5.5" dy="1.8">2</tspan></text>
<text x="516.9" y="179.5" text-anchor="middle" class="tk">Γ</text>
<text x="548.9" y="179.5" text-anchor="middle" class="tk">T<tspan font-size="5.5" dy="1.8">2</tspan><tspan dy="-1.8">|U</tspan><tspan font-size="5.5" dy="1.8">2</tspan></text>
<text x="577.9" y="179.5" text-anchor="middle" class="tk">Γ</text>
<text x="614.8000000000001" y="179.5" text-anchor="middle" class="tk">V<tspan font-size="5.5" dy="1.8">2</tspan></text>
<text transform="translate(383.5,87.8) rotate(-90)" text-anchor="middle" class="yl">E-E<tspan font-size="6" dy="2">f</tspan><tspan dy="-2"> (eV)</tspan></text><line x1="519.1" y1="47.6" x2="519.1" y2="59" stroke="#333" stroke-width="1"/>
<line x1="519.1" y1="73.2" x2="519.1" y2="86.3" stroke="#333" stroke-width="1"/>
<path d="M518.0 50.2 L519.1 47.6 L520.2 50.2Z" fill="#222"/>
<path d="M518.0 83.7 L519.1 86.3 L520.2 83.7Z" fill="#222"/>
<text x="521.8" y="69.2" class="gp" style="font-size:9.7px">2.97 eV</text><text x="354.4" y="24.9" class="pl">(b)</text><clipPath id="cc"><rect x="45.4" y="209.1" width="219.70000000000002" height="172.50000000000003"/></clipPath><g clip-path="url(#cc)"><path d="M45.4 216.0 60.0 216.6 74.5 217.3 103.6 216.4 122.5 216.8M122.5 215.3 162.4 215.9 194.5 216.7 225.2 215.8 265.1 216.8 M45.4 215.5 74.5 215.1 103.6 214.6 122.5 214.9M122.5 214.5 162.4 215.5 194.5 215.3 225.2 215.1 265.1 214.8 M45.4 216.1 60.0 215.1 74.5 214.2 103.6 214.5 122.5 214.9M122.5 215.1 162.4 214.9 194.5 214.6 225.2 215.5 245.2 214.9 265.1 214.2 M45.4 213.6 74.5 213.7 103.6 214.8 122.5 214.5M122.5 215.5 142.4 214.7 162.4 213.9 178.4 214.7 194.5 215.4 225.2 214.7 265.1 215.3 M45.4 214.2 74.5 214.4 103.6 213.8 122.5 213.9M122.5 213.9 162.4 214.5 194.5 213.9 225.2 214.0 265.1 213.1 M45.4 212.7 74.5 212.9 103.6 212.9 122.5 213.2M122.5 212.6 162.4 212.6 194.5 212.8 225.2 213.3 265.1 213.5 M45.4 213.9 60.0 213.2 74.5 212.4 103.6 212.5 122.5 212.8M122.5 212.1 162.4 213.1 194.5 214.2 225.2 213.7 265.1 212.5 M45.4 213.7 74.5 212.6 103.6 213.4 122.5 213.8M122.5 213.9 142.4 213.1 162.4 212.3 194.5 212.4 225.2 212.0 245.2 212.6 265.1 213.3 M45.4 211.1 74.5 212.0 103.6 212.2 122.5 212.6M122.5 213.3 142.4 212.2 162.4 211.1 178.4 212.0 194.5 213.0 225.2 212.7 265.1 212.5 M45.4 212.7 60.0 211.8 74.5 211.0 89.1 212.0 103.6 213.0 122.5 212.6M122.5 212.2 162.4 211.0 194.5 212.0 225.2 212.3 265.1 211.9 M45.4 211.2 74.5 211.6 103.6 211.3 122.5 211.3M122.5 210.9 162.4 211.2 194.5 212.0 209.8 211.2 225.2 210.4 245.2 211.2 265.1 211.9 M45.4 210.8 74.5 212.0 89.1 211.4 103.6 210.7 122.5 210.7M122.5 210.6 142.4 211.3 162.4 212.0 178.4 211.3 194.5 210.6 225.2 211.1 265.1 211.9 M45.4 210.6 74.5 211.6 89.1 210.9 103.6 210.1 122.5 209.9M122.5 211.6 162.4 210.9 194.5 210.1 225.2 210.1 265.1 209.5 M45.4 210.3 74.5 210.5 103.6 210.0 122.5 210.2M122.5 210.0 162.4 210.6 194.5 210.7 225.2 210.5 265.1 210.5 M45.4 210.7 60.0 209.8 74.5 208.9 103.6 209.4 122.5 209.7M122.5 210.2 162.4 209.0 178.4 209.7 194.5 210.3 225.2 210.0 265.1 209.7 M45.4 218.9 49.0 219.2 52.7 220.0 56.3 221.4 60.0 223.3 63.6 225.5 67.3 228.1 70.9 230.9 74.5 233.8 78.2 230.9 81.8 228.1 85.4 225.5 89.1 223.3 92.7 221.4 96.3 220.0 99.9 219.2 103.6 218.9 122.5 218.6M122.5 233.6 127.5 230.6 132.5 227.8 137.5 225.2 142.4 222.9 147.4 221.0 152.4 219.6 157.4 218.7 162.4 218.5 166.4 218.7 170.4 219.6 174.4 220.9 178.4 222.8 182.5 225.0 186.5 227.6 190.5 230.3 194.5 233.2 198.3 230.4 202.2 227.7 206.0 225.2 209.8 223.0 213.7 221.2 217.5 219.9 221.4 219.1 225.2 218.8 230.2 219.1 235.2 219.9 240.2 221.2 245.2 222.9 250.1 225.1 255.1 227.5 260.1 230.2 265.1 232.9 M45.4 220.5 49.0 220.8 52.7 221.5 56.3 222.7 60.0 224.3 63.6 226.2 67.3 228.5 70.9 230.9 74.5 233.4 78.2 230.8 81.8 228.3 85.4 226.0 89.1 224.0 92.7 222.4 96.3 221.2 99.9 220.4 103.6 220.2 122.5 219.9M122.5 233.3 127.5 230.8 132.5 228.4 137.5 226.2 142.4 224.2 147.4 222.6 152.4 221.4 157.4 220.7 162.4 220.4 166.4 220.7 170.4 221.4 174.4 222.5 178.4 224.0 182.5 225.9 186.5 228.0 190.5 230.3 194.5 232.7 198.3 230.2 202.2 227.8 206.0 225.6 209.8 223.7 213.7 222.1 217.5 220.9 221.4 220.2 225.2 219.9 230.2 220.2 235.2 220.9 240.2 222.1 245.2 223.7 250.1 225.7 255.1 227.9 260.1 230.3 265.1 232.9 M45.4 218.4 49.0 218.7 52.7 219.5 56.3 220.9 60.0 222.6 63.6 224.8 67.3 227.3 70.9 230.0 74.5 232.8 78.2 230.0 81.8 227.2 85.4 224.7 89.1 222.5 92.7 220.7 96.3 219.4 99.9 218.6 103.6 218.3 122.5 218.4M122.5 232.8 127.5 229.9 132.5 227.1 137.5 224.5 142.4 222.2 147.4 220.4 152.4 219.0 157.4 218.1 162.4 217.9 166.4 218.1 170.4 219.0 174.4 220.4 178.4 222.2 182.5 224.5 186.5 227.1 190.5 229.9 194.5 232.8 198.3 230.0 202.2 227.3 206.0 224.8 209.8 222.6 213.7 220.8 217.5 219.4 221.4 218.6 225.2 218.3 230.2 218.6 235.2 219.4 240.2 220.7 245.2 222.4 250.1 224.5 255.1 226.9 260.1 229.5 265.1 232.2 M45.4 221.5 49.0 221.7 52.7 222.4 56.3 223.5 60.0 224.9 63.6 226.7 67.3 228.7 70.9 230.9 74.5 233.2 78.2 230.9 81.8 228.7 85.4 226.7 89.1 225.0 92.7 223.5 96.3 222.4 99.9 221.8 103.6 221.6 122.5 221.2M122.5 234.0 127.5 231.6 132.5 229.2 137.5 227.0 142.4 225.1 147.4 223.6 152.4 222.4 157.4 221.7 162.4 221.5 166.4 221.7 170.4 222.4 174.4 223.5 178.4 225.0 182.5 226.8 186.5 228.8 190.5 231.1 194.5 233.4 198.3 231.2 202.2 229.0 206.0 227.0 209.8 225.3 213.7 223.9 217.5 222.8 221.4 222.2 225.2 222.0 230.2 222.2 235.2 222.8 240.2 223.9 245.2 225.3 250.1 227.0 255.1 228.9 260.1 231.1 265.1 233.3 M45.4 219.1 49.0 219.4 52.7 220.1 56.3 221.4 60.0 223.0 63.6 225.0 67.3 227.3 70.9 229.8 74.5 232.4 78.2 229.8 81.8 227.3 85.4 225.0 89.1 223.0 92.7 221.3 96.3 220.1 99.9 219.3 103.6 219.1 122.5 219.0M122.5 231.8 127.5 229.4 132.5 227.0 137.5 224.8 142.4 222.9 147.4 221.3 152.4 220.1 157.4 219.4 162.4 219.2 166.4 219.4 170.4 220.2 174.4 221.5 178.4 223.1 182.5 225.2 186.5 227.5 190.5 230.1 194.5 232.7 198.3 230.1 202.2 227.6 206.0 225.3 209.8 223.2 213.7 221.6 217.5 220.3 221.4 219.6 225.2 219.3 230.2 219.6 235.2 220.3 240.2 221.4 245.2 223.0 250.1 224.8 255.1 227.0 260.1 229.3 265.1 231.7 M45.4 218.4 49.0 218.7 52.7 219.4 56.3 220.6 60.0 222.2 63.6 224.2 67.3 226.4 70.9 228.9 74.5 231.4 78.2 228.9 81.8 226.4 85.4 224.2 89.1 222.2 92.7 220.6 96.3 219.4 99.9 218.7 103.6 218.4 122.5 218.2M122.5 231.2 127.5 228.8 132.5 226.4 137.5 224.3 142.4 222.4 147.4 220.8 152.4 219.7 157.4 218.9 162.4 218.7 166.4 218.9 170.4 219.6 174.4 220.7 178.4 222.3 182.5 224.1 186.5 226.2 190.5 228.5 194.5 230.8 198.3 228.6 202.2 226.4 206.0 224.4 209.8 222.6 213.7 221.2 217.5 220.1 221.4 219.4 225.2 219.2 230.2 219.4 235.2 220.1 240.2 221.2 245.2 222.6 250.1 224.4 255.1 226.5 260.1 228.7 265.1 231.0 M45.4 226.6 51.2 226.8 57.1 227.6 62.9 228.8 68.7 230.4 74.5 232.0 80.4 230.4 86.2 229.0 92.0 227.8 97.8 227.1 103.6 226.8 122.5 226.8M122.5 232.5 130.5 230.8 138.5 229.2 146.4 228.0 154.4 227.2 162.4 226.9 168.8 227.2 175.2 228.0 181.7 229.3 188.1 230.9 194.5 232.7 199.6 231.1 204.7 229.5 209.8 228.2 215.0 227.2 220.1 226.6 225.2 226.4 233.2 226.7 241.2 227.5 249.1 228.8 257.1 230.5 265.1 232.3 M45.4 225.3 49.0 225.4 52.7 225.9 56.3 226.7 60.0 227.8 63.6 229.1 67.3 230.6 70.9 232.2 74.5 233.9 78.2 232.2 81.8 230.5 85.4 229.0 89.1 227.7 92.7 226.6 96.3 225.8 99.9 225.3 103.6 225.1 122.5 225.6M122.5 233.6 128.2 231.8 133.9 230.0 139.6 228.4 145.3 227.1 151.0 226.1 156.7 225.5 162.4 225.2 166.4 225.4 170.4 226.0 174.4 226.8 178.4 228.0 182.5 229.4 186.5 231.0 190.5 232.7 194.5 234.6 198.3 232.7 202.2 231.0 206.0 229.4 209.8 228.0 213.7 226.8 217.5 225.9 221.4 225.4 225.2 225.2 230.2 225.4 235.2 225.9 240.2 226.8 245.2 227.9 250.1 229.3 255.1 230.8 260.1 232.5 265.1 234.3 M45.4 242.1 49.6 241.9 53.7 241.3 57.9 240.4 62.1 239.2 66.2 237.7 70.4 236.1 74.5 234.4 78.7 236.1 82.8 237.7 87.0 239.2 91.1 240.4 95.3 241.3 99.4 241.8 103.6 242.0 122.5 242.4M122.5 234.4 128.2 236.1 133.9 237.6 139.6 239.0 145.3 240.2 151.0 241.0 156.7 241.6 162.4 241.8 167.0 241.6 171.6 241.1 176.2 240.2 180.7 239.0 185.3 237.7 189.9 236.1 194.5 234.5 198.9 236.3 203.3 237.9 207.7 239.5 212.0 240.7 216.4 241.7 220.8 242.2 225.2 242.4 230.2 242.3 235.2 241.8 240.2 240.9 245.2 239.8 250.1 238.4 255.1 236.9 260.1 235.2 265.1 233.4 M45.4 241.2 50.3 240.9 55.1 240.3 60.0 239.3 64.8 238.0 69.7 236.5 74.5 234.9 79.4 236.5 84.2 238.1 89.1 239.4 93.9 240.5 98.7 241.1 103.6 241.3 122.5 241.2M122.5 235.1 129.2 236.7 135.8 238.2 142.4 239.5 149.1 240.5 155.8 241.1 162.4 241.3 167.8 241.1 173.1 240.5 178.4 239.6 183.8 238.3 189.2 236.9 194.5 235.3 200.6 237.2 206.8 238.8 212.9 240.1 219.1 241.0 225.2 241.3 231.8 241.1 238.5 240.5 245.2 239.5 251.8 238.2 258.5 236.7 265.1 235.2 M45.4 219.1 74.5 219.2 103.6 219.0 122.5 219.3M122.5 219.1 162.4 219.2 194.5 219.0 225.2 219.4 265.1 219.2 M45.4 225.6 74.5 225.8 103.6 225.7 122.5 225.6M122.5 225.6 162.4 225.8 194.5 225.7 225.2 225.7 265.1 225.9 M45.4 229.2 74.5 229.1 103.6 229.6 122.5 229.3M122.5 229.4 162.4 229.4 194.5 229.1 225.2 229.4 265.1 229.2 M45.4 232.3 74.5 232.1 103.6 232.5 122.5 232.1M122.5 232.1 162.4 232.1 194.5 232.1 225.2 232.1 265.1 232.2 M45.4 238.5 74.5 239.1 103.6 239.2 122.5 239.5M122.5 239.0 162.4 239.0 194.5 238.1 225.2 238.3 265.1 239.0 M45.4 237.2 74.5 237.1 103.6 238.0 122.5 237.7M122.5 237.5 162.4 237.2 194.5 237.2 225.2 237.4 265.1 238.1 M45.4 235.9 74.5 236.4 103.6 235.6 122.5 235.3M122.5 236.1 162.4 236.3 194.5 235.8 225.2 235.6 265.1 235.5 M45.4 245.8 74.5 245.6 103.6 245.8 122.5 245.8M122.5 245.6 162.4 245.3 194.5 245.6 225.2 245.2 265.1 245.6 M45.4 245.1 74.5 244.9 103.6 244.5 122.5 244.8M122.5 244.8 162.4 245.2 194.5 244.9 225.2 244.8 265.1 245.1 M45.4 244.3 74.5 244.0 103.6 244.0 122.5 243.8M122.5 244.5 162.4 244.9 194.5 244.6 225.2 245.0 265.1 244.2 M45.4 244.4 74.5 243.9 103.6 244.5 122.5 244.7M122.5 243.6 162.4 244.1 194.5 244.4 225.2 244.4 265.1 243.9 M45.4 243.2 74.5 243.7 103.6 243.5 122.5 243.9M122.5 243.8 162.4 243.9 194.5 244.0 225.2 244.0 265.1 243.8 M45.4 242.9 74.5 243.3 103.6 243.6 122.5 243.5M122.5 242.8 162.4 242.6 194.5 242.8 225.2 243.2 265.1 243.2 M45.4 242.5 74.5 242.8 103.6 242.3 122.5 241.9M122.5 243.0 162.4 242.8 194.5 243.0 225.2 242.4 265.1 242.5 M45.4 241.7 74.5 242.6 103.6 241.8 122.5 242.0M122.5 242.0 162.4 242.5 194.5 241.8 225.2 242.6 265.1 241.7 M45.4 241.5 74.5 242.4 103.6 242.1 122.5 242.5M122.5 241.5 162.4 242.0 194.5 242.2 225.2 241.6 265.1 242.1 M45.4 241.1 74.5 241.7 103.6 241.9 122.5 241.9M122.5 241.3 162.4 241.5 194.5 240.8 225.2 241.4 265.1 241.5 M45.4 241.4 74.5 240.4 103.6 241.2 122.5 240.8M122.5 241.4 162.4 240.7 194.5 240.4 225.2 241.4 265.1 241.1 M45.4 240.1 74.5 240.7 103.6 240.6 122.5 240.4M122.5 240.1 162.4 240.2 194.5 239.9 225.2 240.2 265.1 240.2 M45.4 240.5 74.5 240.0 103.6 240.0 122.5 239.9M122.5 240.4 162.4 240.2 194.5 239.9 225.2 239.8 265.1 239.9 M45.4 239.3 74.5 239.9 103.6 239.5 122.5 239.9M122.5 239.5 162.4 240.2 194.5 239.6 225.2 239.2 265.1 239.7 M45.4 239.2 74.5 238.8 103.6 239.3 122.5 239.1M122.5 239.1 162.4 239.5 194.5 238.8 225.2 239.6 265.1 239.3 M45.4 238.9 74.5 238.5 103.6 238.4 122.5 238.6M122.5 239.0 162.4 239.3 194.5 239.0 225.2 238.8 265.1 238.9 M45.4 237.9 74.5 238.7 103.6 238.4 122.5 238.6M122.5 238.7 162.4 237.9 194.5 237.9 225.2 238.7 265.1 238.0 M45.4 238.3 74.5 237.8 103.6 238.0 122.5 237.8M122.5 238.4 162.4 237.7 194.5 238.1 225.2 237.6 265.1 238.3 M45.4 250.6 74.5 250.3 103.6 251.0 122.5 251.4M122.5 250.2 162.4 251.0 194.5 250.2 225.2 250.3 265.1 250.8 M45.4 249.7 74.5 249.4 103.6 249.7 122.5 249.8M122.5 249.8 162.4 249.3 194.5 249.7 225.2 249.6 265.1 249.6 M45.4 249.0 74.5 249.7 103.6 249.2 122.5 249.2M122.5 249.3 162.4 249.4 194.5 249.9 225.2 249.3 265.1 249.3 M45.4 248.1 74.5 247.7 103.6 248.0 122.5 248.3M122.5 247.9 162.4 247.5 194.5 248.6 225.2 247.6 265.1 248.2 M45.4 248.0 74.5 247.3 103.6 247.5 122.5 247.1M122.5 247.9 162.4 247.0 194.5 247.1 225.2 247.7 265.1 247.4 M45.4 253.2 74.5 253.1 103.6 253.2 122.5 252.8M122.5 253.3 162.4 253.4 194.5 253.1 225.2 253.1 265.1 253.3 M45.4 254.5 49.0 254.3 52.7 253.8 56.3 252.9 60.0 251.7 63.6 250.3 67.3 248.7 70.9 246.9 74.5 245.1 78.2 246.9 81.8 248.7 85.4 250.3 89.1 251.7 92.7 252.8 96.3 253.7 99.9 254.2 103.6 254.4 122.5 254.2M122.5 245.2 127.5 247.0 132.5 248.7 137.5 250.3 142.4 251.7 147.4 252.9 152.4 253.7 157.4 254.2 162.4 254.4 166.4 254.2 170.4 253.7 174.4 252.8 178.4 251.6 182.5 250.2 186.5 248.6 190.5 246.8 194.5 245.0 198.3 246.8 202.2 248.5 206.0 250.1 209.8 251.4 213.7 252.6 217.5 253.4 221.4 253.9 225.2 254.1 230.2 253.9 235.2 253.4 240.2 252.6 245.2 251.6 250.1 250.2 255.1 248.7 260.1 247.1 265.1 245.4 M45.4 252.1 49.0 252.0 52.7 251.4 56.3 250.5 60.0 249.4 63.6 247.9 67.3 246.3 70.9 244.5 74.5 242.7 78.2 244.6 81.8 246.4 85.4 248.1 89.1 249.5 92.7 250.7 96.3 251.6 99.9 252.1 103.6 252.3 122.5 252.4M122.5 242.5 127.5 244.3 132.5 246.0 137.5 247.6 142.4 249.0 147.4 250.2 152.4 251.0 157.4 251.5 162.4 251.7 166.4 251.5 170.4 251.0 174.4 250.1 178.4 249.0 182.5 247.6 186.5 246.0 190.5 244.3 194.5 242.4 198.3 244.3 202.2 246.0 206.0 247.7 209.8 249.1 213.7 250.3 217.5 251.1 221.4 251.7 225.2 251.9 230.2 251.7 235.2 251.2 240.2 250.3 245.2 249.2 250.1 247.9 255.1 246.3 260.1 244.6 265.1 242.9 M45.4 254.5 49.0 254.3 52.7 253.8 56.3 252.9 60.0 251.7 63.6 250.2 67.3 248.6 70.9 246.8 74.5 244.9 78.2 246.9 81.8 248.8 85.4 250.5 89.1 252.1 92.7 253.3 96.3 254.3 99.9 254.8 103.6 255.0 122.5 255.3M122.5 244.7 127.5 246.6 132.5 248.5 137.5 250.3 142.4 251.8 147.4 253.1 152.4 254.0 157.4 254.6 162.4 254.8 166.4 254.6 170.4 254.0 174.4 253.1 178.4 251.9 182.5 250.4 186.5 248.7 190.5 246.9 194.5 244.9 198.3 246.9 202.2 248.8 206.0 250.5 209.8 252.0 213.7 253.3 217.5 254.2 221.4 254.8 225.2 255.0 230.2 254.8 235.2 254.2 240.2 253.3 245.2 252.1 250.1 250.6 255.1 248.9 260.1 247.0 265.1 245.1 M45.4 254.1 49.0 253.9 52.7 253.4 56.3 252.5 60.0 251.3 63.6 249.8 67.3 248.2 70.9 246.3 74.5 244.5 78.2 246.4 81.8 248.3 85.4 250.0 89.1 251.6 92.7 252.8 96.3 253.7 99.9 254.3 103.6 254.5 122.5 254.6M122.5 245.2 127.5 247.0 132.5 248.8 137.5 250.4 142.4 251.8 147.4 253.0 152.4 253.8 157.4 254.3 162.4 254.5 166.4 254.3 170.4 253.8 174.4 252.9 178.4 251.7 182.5 250.2 186.5 248.5 190.5 246.7 194.5 244.8 198.3 246.6 202.2 248.4 206.0 250.0 209.8 251.4 213.7 252.6 217.5 253.4 221.4 254.0 225.2 254.1 230.2 254.0 235.2 253.4 240.2 252.6 245.2 251.4 250.1 250.0 255.1 248.4 260.1 246.6 265.1 244.8 M45.4 254.8 49.0 254.6 52.7 253.9 56.3 252.7 60.0 251.1 63.6 249.1 67.3 246.9 70.9 244.5 74.5 242.0 78.2 244.5 81.8 246.9 85.4 249.2 89.1 251.1 92.7 252.8 96.3 254.0 99.9 254.7 103.6 254.9 122.5 254.8M122.5 242.2 127.5 244.7 132.5 247.0 137.5 249.1 142.4 251.0 147.4 252.5 152.4 253.7 157.4 254.4 162.4 254.6 166.4 254.4 170.4 253.7 174.4 252.5 178.4 251.0 182.5 249.1 186.5 247.0 190.5 244.7 194.5 242.3 198.3 244.8 202.2 247.1 206.0 249.3 209.8 251.2 213.7 252.8 217.5 253.9 221.4 254.6 225.2 254.9 230.2 254.6 235.2 253.9 240.2 252.6 245.2 251.0 250.1 249.0 255.1 246.6 260.1 244.1 265.1 241.5 M45.4 253.2 49.0 253.0 52.7 252.3 56.3 251.3 60.0 249.9 63.6 248.2 67.3 246.3 70.9 244.2 74.5 242.1 78.2 244.2 81.8 246.2 85.4 248.0 89.1 249.6 92.7 251.0 96.3 252.0 99.9 252.6 103.6 252.8 122.5 253.0M122.5 242.3 127.5 244.4 132.5 246.5 137.5 248.4 142.4 250.1 147.4 251.5 152.4 252.5 157.4 253.1 162.4 253.3 166.4 253.1 170.4 252.5 174.4 251.5 178.4 250.2 182.5 248.6 186.5 246.7 190.5 244.7 194.5 242.6 198.3 244.7 202.2 246.7 206.0 248.6 209.8 250.2 213.7 251.6 217.5 252.5 221.4 253.2 225.2 253.4 230.2 253.2 235.2 252.6 240.2 251.6 245.2 250.3 250.1 248.7 255.1 246.9 260.1 245.0 265.1 242.9 M45.4 297.6 51.2 297.9 57.1 298.6 62.9 299.6 68.7 301.0 74.5 302.5 84.2 304.0 93.9 305.1 103.6 305.5 122.5 305.8M122.5 306.5 127.5 304.8 132.5 303.2 137.5 301.7 142.4 300.4 147.4 299.3 152.4 298.6 157.4 298.1 162.4 297.9 168.8 298.1 175.2 298.8 181.7 299.9 188.1 301.3 194.5 302.8 204.7 304.3 215.0 305.4 225.2 305.8 265.1 306.5 M45.4 305.5 55.1 305.1 64.8 304.0 74.5 302.5 81.8 300.7 89.1 299.2 96.3 298.2 103.6 297.9 122.5 297.5M122.5 305.6 162.4 305.4 173.1 305.0 183.8 304.0 194.5 302.5 200.6 300.9 206.8 299.6 212.9 298.5 219.1 297.8 225.2 297.5 230.2 297.7 235.2 298.3 240.2 299.2 245.2 300.4 250.1 301.8 255.1 303.5 260.1 305.3 265.1 307.2 M45.4 307.2 74.5 307.5 103.6 307.0 122.5 306.7M122.5 307.4 162.4 307.5 194.5 307.4 225.2 307.4 265.1 307.2 M45.4 308.7 74.5 308.2 103.6 308.3 122.5 308.3M122.5 308.5 162.4 308.3 194.5 308.5 225.2 308.3 265.1 308.6 M45.4 323.4 74.5 323.1 103.6 323.7 122.5 323.6M122.5 323.6 162.4 323.9 194.5 323.4 225.2 323.1 265.1 323.9 M45.4 323.7 74.5 323.4 103.6 323.0 122.5 323.4M122.5 322.5 162.4 322.6 194.5 322.8 225.2 322.7 265.1 322.4 M45.4 322.6 74.5 323.1 103.6 321.9 122.5 322.0M122.5 322.7 162.4 322.2 194.5 321.8 225.2 322.7 265.1 323.1 M45.4 322.7 74.5 322.7 103.6 322.8 122.5 323.2M122.5 322.0 162.4 322.0 194.5 322.1 225.2 322.6 265.1 322.9 M45.4 321.2 74.5 321.7 103.6 322.3 122.5 322.0M122.5 321.4 162.4 321.8 194.5 321.8 225.2 322.0 265.1 322.3 M45.4 322.1 74.5 321.9 103.6 321.0 122.5 320.6M122.5 320.9 162.4 322.0 194.5 322.1 225.2 322.1 265.1 321.5 M45.4 320.5 74.5 321.2 103.6 320.8 122.5 320.5M122.5 320.9 162.4 320.8 194.5 321.1 225.2 320.6 265.1 321.6 M45.4 320.2 74.5 320.0 103.6 319.9 122.5 319.9M122.5 321.0 162.4 320.8 194.5 320.6 225.2 320.3 265.1 320.4 M45.4 320.1 74.5 320.6 103.6 319.9 122.5 319.8M122.5 320.4 162.4 320.3 194.5 319.5 225.2 320.0 265.1 320.4 M45.4 320.2 74.5 319.1 103.6 320.1 122.5 319.9M122.5 318.9 162.4 320.1 194.5 319.5 225.2 319.0 265.1 319.0 M45.4 319.3 74.5 318.8 103.6 318.5 122.5 318.5M122.5 319.3 162.4 318.6 194.5 318.5 225.2 318.5 265.1 318.6 M45.4 318.2 74.5 318.8 103.6 319.3 122.5 319.5M122.5 318.6 162.4 319.4 194.5 319.5 225.2 318.5 265.1 318.5 M45.4 318.5 74.5 319.0 103.6 318.6 122.5 318.8M122.5 318.7 162.4 318.1 194.5 318.5 225.2 318.0 265.1 319.0 M45.4 317.6 74.5 318.2 103.6 317.7 122.5 317.4M122.5 318.5 162.4 317.3 194.5 318.3 225.2 317.3 265.1 318.1 M45.4 317.4 74.5 316.9 103.6 317.7 122.5 317.7M122.5 317.0 162.4 316.9 194.5 317.7 225.2 317.8 265.1 317.8 M45.4 317.6 74.5 317.6 103.6 317.5 122.5 317.8M122.5 317.4 162.4 316.9 194.5 316.5 225.2 316.9 265.1 317.0 M45.4 316.0 74.5 316.5 103.6 315.7 122.5 316.2M122.5 316.7 162.4 317.1 194.5 317.1 225.2 316.9 265.1 316.4 M45.4 316.6 74.5 317.0 103.6 316.7 122.5 316.9M122.5 316.4 162.4 315.9 194.5 316.1 225.2 316.4 265.1 316.1 M45.4 315.1 74.5 315.6 103.6 316.0 122.5 315.7M122.5 315.1 162.4 316.1 194.5 315.5 225.2 315.2 265.1 315.9 M45.4 316.1 74.5 315.2 103.6 315.2 122.5 315.2M122.5 314.8 162.4 314.8 194.5 315.0 225.2 314.8 265.1 315.3 M45.4 314.9 74.5 314.8 103.6 315.4 122.5 315.0M122.5 315.0 162.4 315.4 194.5 315.1 225.2 314.6 265.1 315.0 M45.4 314.4 74.5 314.5 103.6 313.7 122.5 313.7M122.5 313.8 162.4 314.8 194.5 313.9 225.2 314.6 265.1 313.7 M45.4 314.7 74.5 313.7 103.6 313.9 122.5 314.1M122.5 313.4 162.4 313.9 194.5 314.6 225.2 314.0 265.1 313.7 M45.4 313.6 74.5 313.0 103.6 313.1 122.5 313.3M122.5 314.1 162.4 313.0 194.5 313.8 225.2 313.4 265.1 313.2 M45.4 313.5 74.5 313.5 103.6 312.6 122.5 312.7M122.5 313.8 162.4 312.6 194.5 313.6 225.2 313.5 265.1 312.5 M45.4 313.3 74.5 312.4 103.6 313.3 122.5 313.1M122.5 312.7 162.4 313.5 194.5 312.4 225.2 312.8 265.1 313.6 M45.4 311.7 74.5 312.3 103.6 313.0 122.5 313.2M122.5 313.0 162.4 312.7 194.5 312.7 225.2 312.4 265.1 311.7 M45.4 311.4 74.5 312.5 103.6 312.5 122.5 312.3M122.5 312.6 142.4 311.9 162.4 311.3 194.5 311.6 225.2 311.7 265.1 312.5 M45.4 311.1 74.5 311.7 103.6 311.0 122.5 311.0M122.5 312.1 162.4 312.2 194.5 311.7 225.2 310.9 265.1 310.8 M45.4 311.6 74.5 311.7 103.6 311.6 122.5 311.2M122.5 311.5 162.4 311.6 194.5 310.4 225.2 311.3 265.1 310.4 M45.4 310.8 74.5 310.7 103.6 310.6 122.5 310.4M122.5 311.1 142.4 310.4 162.4 309.7 194.5 310.6 225.2 310.4 265.1 310.0 M45.4 309.9 74.5 309.6 103.6 310.1 122.5 310.1M122.5 310.5 162.4 310.0 194.5 309.9 225.2 310.1 265.1 309.4 M45.4 325.0 51.2 325.6 57.1 327.0 62.9 328.8 68.7 330.3 74.5 330.9 79.4 330.4 84.2 329.2 89.1 327.4 93.9 325.7 98.7 324.5 103.6 324.0 122.5 323.3M122.5 325.1 130.5 325.7 138.5 327.1 146.4 328.9 154.4 330.4 162.4 331.0 194.5 330.1 225.2 330.7 245.2 331.3 265.1 332.0 M45.4 328.9 52.7 328.3 60.0 326.8 67.3 325.4 74.5 324.8 79.4 325.3 84.2 326.5 89.1 328.1 93.9 329.8 98.7 331.0 103.6 331.4 122.5 331.4M122.5 332.3 128.2 331.9 133.9 330.9 139.6 329.4 145.3 327.7 151.0 326.3 156.7 325.2 162.4 324.8 194.5 325.5 209.8 324.6 225.2 323.8 238.5 324.5 251.8 325.8 265.1 326.5 M45.4 325.8 51.2 326.3 57.1 327.8 62.9 329.6 68.7 331.1 74.5 331.6 81.8 331.0 89.1 329.7 96.3 328.3 103.6 327.7 122.5 327.9M122.5 328.6 135.8 329.2 149.1 330.5 162.4 331.2 170.4 330.6 178.4 329.2 186.5 327.8 194.5 327.2 204.7 327.8 215.0 329.0 225.2 329.6 245.2 328.8 265.1 328.0 M45.4 329.7 74.5 329.3 89.1 328.2 103.6 327.2 122.5 326.5M122.5 323.9 162.4 324.3 194.5 324.9 225.2 325.1 235.2 325.8 245.2 327.5 255.1 329.2 265.1 329.9 M45.4 325.4 74.5 325.3 103.6 325.2 122.5 325.0M122.5 324.9 162.4 325.0 194.5 325.2 225.2 325.3 265.1 325.2 M45.4 328.6 74.5 329.0 103.6 328.5 122.5 328.4M122.5 328.8 162.4 328.8 194.5 328.6 225.2 328.8 265.1 328.6 M45.4 332.6 52.7 332.9 60.0 333.8 67.3 335.1 74.5 336.6 81.8 334.9 89.1 333.4 96.3 332.4 103.6 332.1 122.5 332.0M122.5 337.1 132.5 335.4 142.4 333.9 152.4 332.9 162.4 332.6 170.4 332.9 178.4 333.8 186.5 335.1 194.5 336.6 202.2 335.1 209.8 333.9 217.5 333.0 225.2 332.7 235.2 333.0 245.2 333.9 255.1 335.2 265.1 336.8 M45.4 332.8 55.1 333.3 64.8 334.5 74.5 336.3 84.2 334.6 93.9 333.3 103.6 332.9 122.5 332.6M122.5 336.8 132.5 335.3 142.4 334.1 152.4 333.2 162.4 332.9 170.4 333.2 178.4 334.0 186.5 335.3 194.5 336.7 202.2 335.2 209.8 333.9 217.5 333.0 225.2 332.7 235.2 333.0 245.2 333.8 255.1 335.1 265.1 336.6 M45.4 333.4 60.0 334.1 74.5 335.7 84.2 334.5 93.9 333.5 103.6 333.2 122.5 333.2M122.5 336.2 135.8 334.7 149.1 333.6 162.4 333.2 173.1 333.6 183.8 334.6 194.5 335.9 204.7 334.7 215.0 333.8 225.2 333.5 245.2 334.2 265.1 335.8 M45.4 340.6 55.1 340.1 64.8 338.9 74.5 337.1 84.2 338.8 93.9 339.9 103.6 340.4 122.5 340.5M122.5 336.7 132.5 338.3 142.4 339.6 152.4 340.5 162.4 340.9 173.1 340.4 183.8 339.1 194.5 337.4 204.7 338.8 215.0 339.8 225.2 340.2 238.5 339.8 251.8 338.8 265.1 337.5 M45.4 340.9 52.7 340.6 60.0 339.8 67.3 338.6 74.5 337.1 81.8 338.6 89.1 339.8 96.3 340.6 103.6 340.9 122.5 340.6M122.5 337.0 132.5 338.4 142.4 339.6 152.4 340.4 162.4 340.7 170.4 340.4 178.4 339.5 186.5 338.3 194.5 336.9 202.2 338.4 209.8 339.8 217.5 340.6 225.2 341.0 235.2 340.6 245.2 339.7 255.1 338.4 265.1 336.7 M45.4 340.0 55.1 339.6 64.8 338.6 74.5 337.3 84.2 338.7 93.9 339.8 103.6 340.2 122.5 340.0M122.5 336.9 132.5 338.2 142.4 339.4 152.4 340.2 162.4 340.5 170.4 340.2 178.4 339.3 186.5 338.0 194.5 336.5 204.7 338.1 215.0 339.3 225.2 339.7 238.5 339.2 251.8 338.0 265.1 336.2 M45.4 345.6 74.5 345.3 103.6 345.2 122.5 344.9M122.5 345.2 162.4 345.2 194.5 345.1 225.2 344.8 265.1 344.8 M45.4 344.9 74.5 344.8 103.6 345.2 122.5 344.8M122.5 344.7 162.4 344.7 194.5 345.2 225.2 345.2 265.1 345.0 M45.4 344.1 74.5 344.4 103.6 344.4 122.5 344.2M122.5 344.7 162.4 344.6 194.5 344.6 225.2 344.0 265.1 344.1 M45.4 344.1 74.5 343.9 103.6 344.1 122.5 343.7M122.5 344.0 162.4 344.3 194.5 344.4 225.2 343.9 265.1 344.6 M45.4 343.9 74.5 343.4 103.6 344.0 122.5 343.8M122.5 344.1 162.4 343.5 194.5 343.4 225.2 344.0 265.1 343.9 M45.4 343.8 74.5 343.2 103.6 343.9 122.5 343.6M122.5 343.9 162.4 343.5 194.5 343.6 225.2 343.6 265.1 343.6 M45.4 343.4 74.5 343.4 103.6 343.4 122.5 343.7M122.5 343.2 162.4 343.0 194.5 343.1 225.2 343.3 265.1 343.4 M45.4 343.0 74.5 342.8 103.6 342.6 122.5 342.4M122.5 342.7 162.4 342.6 194.5 342.7 225.2 343.0 265.1 342.6 M45.4 342.9 74.5 342.7 103.6 342.2 122.5 342.2M122.5 342.1 162.4 342.2 194.5 342.3 225.2 342.5 265.1 342.7 M45.4 341.6 74.5 341.9 103.6 342.2 122.5 342.5M122.5 342.2 162.4 341.6 194.5 341.9 225.2 342.1 265.1 342.0 M45.4 341.9 74.5 342.0 103.6 341.6 122.5 341.3M122.5 341.9 162.4 341.9 194.5 341.9 225.2 341.9 265.1 341.6 M45.4 341.9 74.5 341.2 103.6 341.4 122.5 341.0M122.5 341.5 162.4 341.5 194.5 341.2 225.2 341.8 265.1 341.3 M45.4 341.3 74.5 341.1 103.6 341.5 122.5 341.7M122.5 341.1 162.4 341.0 194.5 341.3 225.2 340.9 265.1 340.9 M45.4 340.9 74.5 341.1 103.6 341.2 122.5 341.0M122.5 340.9 162.4 340.8 194.5 341.1 225.2 341.0 265.1 340.9 M45.4 348.1 74.5 348.1 103.6 348.2 122.5 348.2M122.5 348.1 162.4 347.9 194.5 347.9 225.2 348.1 265.1 347.7 M45.4 347.1 74.5 346.9 103.6 347.2 122.5 347.3M122.5 347.3 162.4 347.4 194.5 346.9 225.2 347.3 265.1 347.1 M45.4 346.9 74.5 346.9 103.6 346.4 122.5 346.4M122.5 346.9 162.4 346.9 194.5 346.4 225.2 346.7 265.1 346.5 M45.4 350.8 74.5 351.0 103.6 351.2 122.5 351.5M122.5 350.7 162.4 350.9 194.5 351.1 225.2 350.9 265.1 350.9 M45.4 350.6 74.5 350.5 103.6 350.8 122.5 350.5M122.5 350.7 162.4 350.7 194.5 350.6 225.2 350.7 265.1 350.7 M45.4 349.9 74.5 349.9 103.6 349.7 122.5 350.1M122.5 349.6 162.4 349.7 194.5 349.9 225.2 349.8 265.1 349.6 M45.4 355.0 74.5 355.2 103.6 355.1 122.5 355.5M122.5 355.1 162.4 355.1 194.5 355.0 225.2 355.3 265.1 355.4 M45.4 354.4 74.5 354.7 103.6 354.6 122.5 354.9M122.5 354.6 162.4 354.7 194.5 354.7 225.2 354.6 265.1 354.9 M45.4 353.9 74.5 353.8 103.6 353.8 122.5 354.1M122.5 354.0 162.4 354.2 194.5 354.0 225.2 354.3 265.1 353.7 M45.4 353.1 74.5 353.1 103.6 352.8 122.5 352.6M122.5 353.2 162.4 353.2 194.5 352.9 225.2 353.0 265.1 353.0 M45.4 358.5 74.5 358.2 103.6 358.1 122.5 358.2M122.5 358.4 162.4 358.4 194.5 358.5 225.2 358.1 265.1 358.3 M45.4 357.8 74.5 357.7 103.6 357.9 122.5 358.1M122.5 357.7 162.4 357.8 194.5 357.7 225.2 358.0 265.1 357.9 M45.4 357.8 74.5 357.4 103.6 357.6 122.5 357.8M122.5 357.5 162.4 357.7 194.5 357.4 225.2 357.5 265.1 357.4 M45.4 363.4 74.5 363.6 103.6 363.5 122.5 363.5M122.5 363.1 162.4 363.6 194.5 363.3 225.2 363.2 265.1 363.3 M45.4 362.8 74.5 362.8 103.6 362.3 122.5 361.9M122.5 362.6 162.4 362.8 194.5 362.6 225.2 362.7 265.1 362.8 M45.4 361.6 74.5 361.3 103.6 361.8 122.5 361.6M122.5 361.3 162.4 361.5 194.5 361.8 225.2 361.8 265.1 361.4 M45.4 361.1 74.5 361.4 103.6 361.2 122.5 361.1M122.5 360.8 162.4 361.2 194.5 361.4 225.2 361.3 265.1 360.8 M45.4 368.1 74.5 367.7 103.6 367.7 122.5 367.7M122.5 368.1 162.4 367.8 194.5 367.7 225.2 367.7 265.1 367.8 M45.4 366.9 74.5 366.5 103.6 366.9 122.5 367.0M122.5 366.6 162.4 366.5 194.5 366.7 225.2 366.4 265.1 366.7 M45.4 366.4 74.5 366.3 103.6 366.2 122.5 366.3M122.5 366.2 162.4 366.0 194.5 366.0 225.2 366.3 265.1 366.0 M45.4 365.2 74.5 365.1 103.6 365.4 122.5 365.6M122.5 365.1 162.4 365.3 194.5 365.3 225.2 365.5 265.1 365.4 M45.4 371.8 74.5 371.7 103.6 371.6 122.5 371.6M122.5 371.7 162.4 371.8 194.5 371.9 225.2 371.4 265.1 371.5 M45.4 370.5 74.5 370.6 103.6 370.2 122.5 370.5M122.5 370.3 162.4 370.5 194.5 370.3 225.2 370.5 265.1 370.2 M45.4 369.8 74.5 370.2 103.6 370.0 122.5 370.1M122.5 370.0 162.4 370.0 194.5 369.9 225.2 370.0 265.1 369.9 M45.4 374.9 74.5 375.0 103.6 374.5 122.5 374.1M122.5 374.6 162.4 374.6 194.5 374.5 225.2 374.6 265.1 375.0 M45.4 373.9 74.5 374.4 103.6 374.3 122.5 374.4M122.5 374.4 162.4 374.0 194.5 374.0 225.2 373.9 265.1 374.2 M45.4 373.6 74.5 373.7 103.6 373.3 122.5 372.9M122.5 373.6 162.4 373.7 194.5 373.3 225.2 373.9 265.1 373.7 M45.4 378.8 74.5 378.8 103.6 379.2 122.5 379.4M122.5 379.1 162.4 379.2 194.5 379.2 225.2 378.8 265.1 379.2 M45.4 377.9 74.5 377.7 103.6 378.0 122.5 377.7M122.5 377.8 162.4 377.9 194.5 377.7 225.2 378.0 265.1 378.2 M45.4 377.5 74.5 377.3 103.6 377.5 122.5 377.1M122.5 377.5 162.4 377.0 194.5 377.3 225.2 377.1 265.1 377.5" fill="none" stroke="#0e32f5" stroke-width="0.85" stroke-opacity="1.0"/></g><line x1="74.55" y1="209.1" x2="74.55" y2="381.6" stroke="#222" stroke-width="0.9"/>
<line x1="103.56" y1="209.1" x2="103.56" y2="381.6" stroke="#222" stroke-width="0.9"/>
<line x1="122.5" y1="209.1" x2="122.5" y2="381.6" stroke="#222" stroke-width="0.9"/>
<line x1="162.4" y1="209.1" x2="162.4" y2="381.6" stroke="#222" stroke-width="0.9"/>
<line x1="194.5" y1="209.1" x2="194.5" y2="381.6" stroke="#222" stroke-width="0.9"/>
<line x1="225.2" y1="209.1" x2="225.2" y2="381.6" stroke="#222" stroke-width="0.9"/>
<line x1="45.4" y1="295.4" x2="265.1" y2="295.4" stroke="#f22" stroke-width="0.9" stroke-dasharray="1.6 1.2"/>
<rect x="45.4" y="209.1" width="219.70000000000002" height="172.50000000000003" fill="none" stroke="#222" stroke-width="1"/>
<line x1="45.4" y1="368.0" x2="47.0" y2="368.0" stroke="#222" stroke-width="0.8"/>
<line x1="265.1" y1="368.0" x2="263.5" y2="368.0" stroke="#222" stroke-width="0.8"/>
<line x1="45.4" y1="353.5" x2="48.6" y2="353.5" stroke="#222" stroke-width="0.8"/>
<line x1="265.1" y1="353.5" x2="261.90000000000003" y2="353.5" stroke="#222" stroke-width="0.8"/>
<text x="41.6" y="357.1" text-anchor="end" class="ty">-4</text>
<line x1="45.4" y1="339.0" x2="47.0" y2="339.0" stroke="#222" stroke-width="0.8"/>
<line x1="265.1" y1="339.0" x2="263.5" y2="339.0" stroke="#222" stroke-width="0.8"/>
<line x1="45.4" y1="324.4" x2="48.6" y2="324.4" stroke="#222" stroke-width="0.8"/>
<line x1="265.1" y1="324.4" x2="261.90000000000003" y2="324.4" stroke="#222" stroke-width="0.8"/>
<text x="41.6" y="328.0" text-anchor="end" class="ty">-2</text>
<line x1="45.4" y1="309.9" x2="47.0" y2="309.9" stroke="#222" stroke-width="0.8"/>
<line x1="265.1" y1="309.9" x2="263.5" y2="309.9" stroke="#222" stroke-width="0.8"/>
<line x1="45.4" y1="295.4" x2="48.6" y2="295.4" stroke="#222" stroke-width="0.8"/>
<line x1="265.1" y1="295.4" x2="261.90000000000003" y2="295.4" stroke="#222" stroke-width="0.8"/>
<text x="41.6" y="299.0" text-anchor="end" class="ty">0</text>
<line x1="45.4" y1="280.9" x2="47.0" y2="280.9" stroke="#222" stroke-width="0.8"/>
<line x1="265.1" y1="280.9" x2="263.5" y2="280.9" stroke="#222" stroke-width="0.8"/>
<line x1="45.4" y1="266.4" x2="48.6" y2="266.4" stroke="#222" stroke-width="0.8"/>
<line x1="265.1" y1="266.4" x2="261.90000000000003" y2="266.4" stroke="#222" stroke-width="0.8"/>
<text x="41.6" y="270.0" text-anchor="end" class="ty">2</text>
<line x1="45.4" y1="251.8" x2="47.0" y2="251.8" stroke="#222" stroke-width="0.8"/>
<line x1="265.1" y1="251.8" x2="263.5" y2="251.8" stroke="#222" stroke-width="0.8"/>
<line x1="45.4" y1="237.3" x2="48.6" y2="237.3" stroke="#222" stroke-width="0.8"/>
<line x1="265.1" y1="237.3" x2="261.90000000000003" y2="237.3" stroke="#222" stroke-width="0.8"/>
<text x="41.6" y="240.9" text-anchor="end" class="ty">4</text>
<line x1="45.4" y1="222.8" x2="47.0" y2="222.8" stroke="#222" stroke-width="0.8"/>
<line x1="265.1" y1="222.8" x2="263.5" y2="222.8" stroke="#222" stroke-width="0.8"/>
<text x="45.4" y="391.0" text-anchor="middle" class="tk">Γ</text>
<text x="74.55" y="391.0" text-anchor="middle" class="tk">X|Y</text>
<text x="103.56" y="391.0" text-anchor="middle" class="tk">Γ</text>
<text x="123.7" y="391.0" text-anchor="middle" class="tk">Z|R<tspan font-size="5.5" dy="1.8">2</tspan></text>
<text x="162.4" y="391.0" text-anchor="middle" class="tk">Γ</text>
<text x="195.3" y="391.0" text-anchor="middle" class="tk">T<tspan font-size="5.5" dy="1.8">2</tspan><tspan dy="-1.8">|U</tspan><tspan font-size="5.5" dy="1.8">2</tspan></text>
<text x="225.2" y="391.0" text-anchor="middle" class="tk">Γ</text>
<text x="262.8" y="391.0" text-anchor="middle" class="tk">V<tspan font-size="5.5" dy="1.8">2</tspan></text>
<text transform="translate(27.2,296.7) rotate(-90)" text-anchor="middle" class="yl">E-E<tspan font-size="6" dy="2">f</tspan><tspan dy="-2"> (eV)</tspan></text><line x1="165.4" y1="255.1" x2="165.4" y2="265.9" stroke="#333" stroke-width="1"/>
<line x1="165.4" y1="281.1" x2="165.4" y2="295.4" stroke="#333" stroke-width="1"/>
<path d="M164.3 257.7 L165.4 255.1 L166.5 257.7Z" fill="#222"/>
<path d="M164.3 292.79999999999995 L165.4 295.4 L166.5 292.79999999999995Z" fill="#222"/>
<text x="168.1" y="277.1" class="gp" style="font-size:9.6px">3.00 eV</text><text x="-2.5" y="236" class="pl">(c)</text><line x1="268.7" y1="86.3" x2="343.5" y2="86.3" stroke="#f22" stroke-width="0.9" stroke-dasharray="1.6 1.2"/>
<path d="M269.5 1.0 L269.5 2.3 L269.4 3.6 L269.6 4.9 L269.7 6.2 L269.4 7.5 L269.3 8.8 L269.4 10.1 L269.7 11.4 L269.7 12.7 L269.3 14.0 L269.6 15.3 L269.8 16.6 L269.7 17.9 L269.7 19.2 L269.6 20.5 L269.6 21.8 L269.3 23.1 L269.6 24.4 L269.3 25.7 L269.6 27.0 L269.8 28.3 L269.8 29.6 L269.6 30.9 L269.4 32.2 L269.4 33.6 L269.4 34.9 L269.7 36.2 L269.6 37.5 L269.5 38.8 L269.5 40.1 L269.6 41.4 L269.5 42.7 L269.4 44.0 L269.6 45.3 L269.6 46.6 L269.6 47.9 L269.8 49.2 L269.5 50.5 L269.7 51.8 L269.8 53.1 L269.6 54.4 L269.6 55.7 L269.7 57.0 L269.5 58.3 L269.7 59.6 L269.7 60.9 L269.7 62.2 L269.4 63.5 L269.5 64.8 L269.8 66.1 L269.5 67.4 L269.5 68.7 L269.8 70.0 L269.8 71.3 L269.6 72.6 L269.5 73.9 L269.3 75.2 L269.6 76.5 L269.8 77.8 L269.5 79.1 L269.6 80.4 L269.8 81.7 L269.4 83.0 L269.5 84.3 L269.9 85.6 L269.5 86.9 L269.7 88.2 L269.9 89.5 L269.9 90.8 L269.7 92.1 L269.9 93.4 L269.7 94.8 L269.9 96.1 L269.7 97.4 L269.9 98.7 L269.8 100.0 L269.4 101.3 L269.6 102.6 L269.4 103.9 L269.6 105.2 L269.9 106.5 L269.5 107.8 L269.4 109.1 L269.5 110.4 L269.5 111.7 L269.7 113.0 L269.8 114.3 L269.8 115.6 L269.6 116.9 L269.8 118.2 L269.9 119.5 L269.7 120.8 L269.5 122.1 L270.0 123.4 L269.5 124.7 L269.7 126.0 L277.2 127.5 L277.2 129.7 L269.7 131.0 L269.6 132.7 L269.6 134.3 L269.7 136.0 L277.2 137.3 L277.2 139.5 L269.7 141.0 L269.6 142.7 L269.7 144.3 L269.7 146.0 L275.2 147.0 L275.2 149.0 L269.7 150.0 L269.4 151.7 L269.8 153.3 L269.7 155.0 L277.2 156.0 L276.9 157.3 L276.4 158.7 L277.2 160.0 L269.7 162.0 L270.1 163.3 L270.1 164.7 L270.1 166.0 L270.7 167.3 L270.4 168.7 L270.7 170.0" fill="none" stroke="#ffa030" stroke-width="0.9" stroke-linejoin="round"/>
<path d="M269.2 1.0 L269.2 2.3 L269.4 3.6 L269.1 4.9 L269.4 6.2 L269.0 7.5 L269.3 8.8 L269.2 10.1 L269.0 11.4 L269.0 12.7 L269.1 14.0 L269.0 15.3 L269.2 16.6 L269.1 17.9 L269.1 19.2 L269.1 20.5 L269.4 21.8 L269.1 23.1 L269.2 24.4 L269.4 25.7 L269.0 27.0 L269.0 28.3 L269.1 29.6 L269.4 30.9 L269.3 32.2 L269.2 33.5 L269.4 34.8 L269.4 36.1 L269.1 37.4 L269.3 38.7 L269.3 40.0 L269.3 41.3 L269.3 42.6 L269.4 43.9 L269.4 45.2 L269.1 46.5 L269.3 47.8 L269.1 49.1 L269.0 50.4 L269.3 51.7 L269.1 53.0 L269.3 54.3 L269.1 55.6 L269.3 56.9 L269.0 58.2 L269.3 59.5 L269.1 60.8 L269.1 62.1 L269.4 63.4 L269.2 64.7 L269.2 66.0 L269.1 67.3 L269.0 68.6 L269.3 69.9 L269.1 71.2 L269.4 72.5 L269.0 73.8 L269.0 75.1 L269.1 76.4 L269.1 77.7 L269.1 79.0 L269.1 80.3 L269.3 81.6 L269.0 82.9 L269.1 84.2 L269.2 85.5 L269.3 86.8 L269.2 88.1 L269.1 89.4 L269.3 90.7 L269.3 92.0 L269.3 93.3 L269.3 94.6 L269.0 95.9 L269.3 97.2 L269.1 98.5 L269.3 99.8 L269.4 101.1 L269.0 102.4 L269.3 103.7 L269.2 105.0 L269.3 106.3 L269.4 107.6 L269.0 108.9 L269.3 110.2 L269.4 111.5 L269.4 112.8 L269.1 114.1 L269.2 115.4 L269.2 116.7 L269.1 118.0 L269.4 119.3 L269.4 120.6 L269.1 121.9 L269.0 123.2 L269.2 124.5 L269.4 125.8 L269.1 127.1 L269.2 128.4 L269.3 129.7 L269.4 131.0 L269.3 132.3 L269.3 133.6 L269.2 134.9 L269.0 136.2 L269.1 137.5 L269.1 138.8 L269.3 140.1 L269.3 141.4 L269.0 142.7 L269.4 144.0 L269.0 145.3 L269.1 146.6 L269.4 147.9 L269.4 149.2 L269.2 150.5 L269.0 151.8 L269.2 153.1 L269.0 154.4 L269.1 155.7 L269.0 157.0 L269.4 158.3 L269.0 159.6 L269.4 160.9 L269.4 162.2 L269.4 163.5 L269.0 164.8 L269.4 166.1 L269.4 167.4 L269.4 168.7 L269.2 170.0" fill="none" stroke="#2040ff" stroke-width="0.9" stroke-linejoin="round"/>
<path d="M269.5 1.0 L269.6 2.3 L269.6 3.6 L269.6 4.9 L269.3 6.2 L269.6 7.5 L269.6 8.8 L269.8 10.1 L269.7 11.4 L269.6 12.7 L269.6 14.0 L269.6 15.3 L269.6 16.6 L269.3 17.9 L269.5 19.2 L269.5 20.5 L269.5 21.8 L269.7 23.1 L269.3 24.4 L269.6 25.7 L269.3 27.0 L269.6 28.3 L269.4 29.6 L269.4 30.9 L269.6 32.2 L269.6 33.5 L269.7 34.8 L269.6 36.1 L269.3 37.4 L269.5 38.7 L269.5 40.0 L269.3 41.3 L269.3 42.6 L269.2 43.9 L269.4 45.2 L269.3 46.5 L269.7 47.8 L269.5 49.1 L269.5 50.4 L269.2 51.7 L269.6 53.0 L269.5 54.3 L269.5 55.6 L269.6 56.9 L269.7 58.2 L269.5 59.5 L269.4 60.8 L269.7 62.1 L269.5 63.4 L269.7 64.7 L269.3 66.0 L269.6 67.3 L269.7 68.6 L269.3 69.9 L269.2 71.2 L269.3 72.5 L269.6 73.8 L269.3 75.1 L269.7 76.4 L269.3 77.7 L269.3 79.0 L269.6 80.3 L269.3 81.6 L269.3 82.9 L269.3 84.2 L269.4 85.5 L269.3 86.8 L269.7 88.1 L269.7 89.4 L269.6 90.7 L269.4 92.0 L269.7 93.3 L269.7 94.6 L269.3 95.9 L269.5 97.2 L269.4 98.5 L269.3 99.8 L269.7 101.1 L269.4 102.4 L269.2 103.7 L269.5 105.0 L269.6 106.3 L269.4 107.6 L269.2 108.9 L269.5 110.2 L269.5 111.5 L269.4 112.8 L269.3 114.1 L269.6 115.4 L269.4 116.7 L269.5 118.0 L269.7 119.3 L269.3 120.6 L269.6 121.9 L269.4 123.2 L269.7 124.5 L269.4 125.8 L269.7 127.1 L269.3 128.4 L269.7 129.7 L269.5 131.0 L269.4 132.3 L269.4 133.6 L269.5 134.9 L269.7 136.2 L269.7 137.5 L269.4 138.8 L269.6 140.1 L269.2 141.4 L269.4 142.7 L269.3 144.0 L269.3 145.3 L269.3 146.6 L269.3 147.9 L269.4 149.2 L269.3 150.5 L269.4 151.8 L269.4 153.1 L269.3 154.4 L269.8 155.7 L269.7 157.0 L269.6 158.3 L269.3 159.6 L269.7 160.9 L269.2 162.2 L269.6 163.5 L269.6 164.8 L269.6 166.1 L269.6 167.4 L269.3 168.7 L269.5 170.0" fill="none" stroke="#ff3030" stroke-width="0.9" stroke-linejoin="round"/>
<path d="M269.7 1.0 L269.5 2.3 L269.6 3.6 L269.5 4.9 L269.8 6.2 L269.5 7.5 L269.8 8.8 L269.6 10.1 L269.8 11.4 L269.7 12.7 L269.6 14.0 L269.6 15.3 L269.8 16.6 L269.7 17.9 L269.5 19.2 L269.8 20.5 L269.5 21.8 L269.7 23.1 L269.4 24.4 L269.9 25.7 L269.7 27.0 L275.2 28.4 L283.7 30.6 L279.5 32.7 L275.2 34.9 L269.7 36.0 L269.6 37.3 L270.0 38.6 L269.6 39.9 L269.4 41.2 L269.5 42.6 L269.9 43.9 L269.5 45.2 L269.6 46.5 L269.9 47.8 L269.7 49.1 L269.6 50.4 L269.5 51.7 L270.0 53.0 L269.7 54.4 L269.9 55.7 L269.5 57.0 L269.9 58.3 L269.9 59.6 L269.7 60.9 L269.8 62.2 L269.5 63.5 L269.6 64.8 L269.5 66.2 L269.6 67.5 L269.6 68.8 L269.7 70.1 L270.0 71.4 L269.7 72.7 L269.8 74.0 L269.9 75.3 L269.5 76.6 L269.5 78.0 L269.5 79.3 L269.6 80.6 L269.6 81.9 L269.8 83.2 L269.9 84.5 L269.5 85.8 L269.6 87.1 L269.7 88.4 L270.0 89.8 L269.6 91.1 L269.4 92.4 L269.7 93.7 L269.7 95.0 L272.3 96.5 L275.2 98.0 L278.2 99.5 L281.2 101.0 L283.7 103.5 L280.2 105.1 L277.2 106.7 L273.6 108.3 L270.7 110.0 L271.0 111.4 L270.8 112.7 L270.8 114.1 L271.0 115.5 L270.7 116.8 L270.7 118.2 L271.0 119.6 L270.9 120.9 L270.7 122.3 L270.7 123.7 L270.5 125.0 L270.7 126.4 L289.7 127.5 L289.7 129.7 L271.7 131.9 L271.7 133.3 L271.4 134.6 L271.7 136.0 L284.7 137.3 L284.7 139.5 L271.7 141.0 L272.1 142.5 L271.3 144.0 L271.4 145.5 L271.7 147.0 L287.7 148.2 L287.7 149.3 L271.7 150.4 L271.5 152.2 L271.7 154.0 L283.7 155.0 L283.7 157.0 L276.7 159.0 L281.7 161.3 L281.7 163.5 L270.7 165.0 L270.6 166.7 L271.0 168.3 L270.7 170.0" fill="none" stroke="#ff20ff" stroke-width="0.9" stroke-linejoin="round"/>
<path d="M269.7 1.0 L269.9 2.3 L269.9 3.6 L269.6 4.9 L269.7 6.2 L269.8 7.5 L269.6 8.8 L269.8 10.2 L269.6 11.5 L269.9 12.8 L269.8 14.1 L269.5 15.4 L269.5 16.7 L269.6 18.0 L269.7 19.3 L269.8 20.6 L269.8 21.9 L269.7 23.2 L269.5 24.5 L269.6 25.8 L269.9 27.2 L269.5 28.5 L269.7 29.8 L269.6 31.1 L269.8 32.4 L269.8 33.7 L269.7 35.0 L269.4 36.3 L269.9 37.6 L269.7 38.9 L269.5 40.2 L269.7 41.5 L269.9 42.8 L269.8 44.2 L269.7 45.5 L269.8 46.8 L269.7 48.1 L270.0 49.4 L269.9 50.7 L269.8 52.0 L269.7 53.3 L269.6 54.6 L269.7 55.9 L269.8 57.2 L269.7 58.5 L269.8 59.8 L269.5 61.2 L269.6 62.5 L269.4 63.8 L269.5 65.1 L269.4 66.4 L269.5 67.7 L269.4 69.0 L269.5 70.3 L269.5 71.6 L269.8 72.9 L269.6 74.2 L269.5 75.5 L270.0 76.8 L269.5 78.2 L269.7 79.5 L269.6 80.8 L269.9 82.1 L269.4 83.4 L269.5 84.7 L269.7 86.0 L270.7 88.0 L272.3 89.5 L273.1 91.0 L275.2 92.5 L276.8 93.9 L279.0 95.2 L280.0 96.6 L281.7 98.0 L282.3 99.7 L285.7 101.3 L290.5 103.2 L293.2 105.0 L285.7 107.5 L285.4 109.0 L284.2 110.5 L283.7 112.0 L283.4 113.3 L279.9 114.7 L280.7 116.0 L278.9 117.4 L277.2 118.7 L275.6 120.1 L273.8 121.6 L272.9 123.0 L269.9 125.0 L269.9 126.3 L270.1 127.6 L269.9 129.0 L269.9 130.3 L270.1 131.6 L269.9 132.9 L270.1 134.3 L269.9 135.6 L270.0 136.9 L269.8 138.2 L269.8 139.6 L269.7 140.9 L269.7 142.2 L269.8 143.5 L269.8 144.9 L269.7 146.2 L269.8 147.5 L269.9 148.8 L269.8 150.1 L269.6 151.5 L270.0 152.8 L269.7 154.1 L269.6 155.4 L270.0 156.8 L269.7 158.1 L269.8 159.4 L269.5 160.7 L269.7 162.1 L269.5 163.4 L269.9 164.7 L269.7 166.0 L269.9 167.4 L269.6 168.7 L269.7 170.0" fill="none" stroke="#10e010" stroke-width="0.9" stroke-linejoin="round"/>
<path d="M286.7 1.5 L289.2 2.2 L287.2 3.3 L284.2 4.4 L281.7 6.1 L282.9 7.6 L281.7 9.8 L279.7 12.0 L278.5 14.2 L275.7 16.4 L271.9 18.5 L276.2 20.7 L273.9 22.9 L276.4 25.1 L272.9 27.3 L277.2 28.4 L289.7 29.5 L303.3 30.6 L298.1 31.7 L294.7 32.7 L295.9 33.8 L289.7 34.9 L281.2 36.0 L272.9 37.1 L273.9 39.3 L277.2 41.5 L274.9 43.7 L272.5 45.9 L270.7 47.0 L271.3 48.3 L271.0 49.6 L270.2 50.9 L270.5 52.2 L270.9 53.5 L270.3 54.8 L270.3 56.1 L270.2 57.4 L270.5 58.7 L270.2 60.0 L270.0 61.3 L270.7 62.7 L269.8 64.0 L269.9 65.3 L270.2 66.7 L269.9 68.0 L270.3 69.3 L270.0 70.7 L270.6 72.0 L269.6 73.3 L270.5 74.7 L269.5 76.0 L270.2 77.3 L270.0 78.7 L270.1 80.0 L270.4 81.3 L270.5 82.7 L269.9 84.0 L271.2 85.3 L271.3 86.7 L272.2 88.0 L273.3 89.8 L273.1 91.5 L278.2 93.6 L273.7 94.5 L293.1 96.2 L307.7 98.0 L311.7 100.2 L315.2 102.4 L336.7 103.0 L319.7 104.6 L317.7 105.6 L300.7 106.7 L289.7 109.0 L289.3 110.6 L285.7 112.2 L284.7 114.4 L283.7 116.6 L279.2 118.8 L277.2 120.4 L274.9 122.0 L273.6 123.5 L272.9 124.9 L272.7 126.4 L289.7 127.5 L316.2 128.6 L294.7 129.7 L281.2 131.9 L276.9 133.0 L280.8 134.4 L287.3 135.9 L289.7 137.3 L302.9 138.4 L298.7 139.5 L308.7 141.7 L277.2 143.2 L277.1 144.6 L274.9 146.0 L289.7 148.2 L314.7 149.3 L279.2 150.4 L276.9 152.6 L300.7 154.8 L289.7 157.0 L292.3 159.1 L294.3 161.3 L299.7 163.5 L281.2 164.6 L274.9 166.8 L288.7 169.0 L298.7 170.3" fill="none" stroke="#1a1a1a" stroke-width="1.15" stroke-linejoin="round"/>
<rect x="268.7" y="1.1" width="74.80000000000001" height="169.70000000000002" fill="none" stroke="#222" stroke-width="1"/>
<line x1="278.7" y1="170.8" x2="278.7" y2="169.3" stroke="#222" stroke-width="0.7"/>
<line x1="278.7" y1="1.1" x2="278.7" y2="2.6" stroke="#222" stroke-width="0.7"/>
<line x1="288.5" y1="170.8" x2="288.5" y2="168.3" stroke="#222" stroke-width="0.7"/>
<line x1="288.5" y1="1.1" x2="288.5" y2="3.6" stroke="#222" stroke-width="0.7"/>
<line x1="298.2" y1="170.8" x2="298.2" y2="169.3" stroke="#222" stroke-width="0.7"/>
<line x1="298.2" y1="1.1" x2="298.2" y2="2.6" stroke="#222" stroke-width="0.7"/>
<line x1="308.0" y1="170.8" x2="308.0" y2="168.3" stroke="#222" stroke-width="0.7"/>
<line x1="308.0" y1="1.1" x2="308.0" y2="3.6" stroke="#222" stroke-width="0.7"/>
<line x1="317.8" y1="170.8" x2="317.8" y2="169.3" stroke="#222" stroke-width="0.7"/>
<line x1="317.8" y1="1.1" x2="317.8" y2="2.6" stroke="#222" stroke-width="0.7"/>
<line x1="327.6" y1="170.8" x2="327.6" y2="168.3" stroke="#222" stroke-width="0.7"/>
<line x1="327.6" y1="1.1" x2="327.6" y2="3.6" stroke="#222" stroke-width="0.7"/>
<line x1="337.4" y1="170.8" x2="337.4" y2="169.3" stroke="#222" stroke-width="0.7"/>
<line x1="337.4" y1="1.1" x2="337.4" y2="2.6" stroke="#222" stroke-width="0.7"/>
<text x="270.1" y="179.7" text-anchor="middle" class="td">0</text>
<text x="287.2" y="179.7" text-anchor="middle" class="td">50</text>
<text x="307.8" y="179.7" text-anchor="middle" class="td">100</text>
<text x="329.2" y="179.7" text-anchor="middle" class="td">150</text>
<line x1="343.5" y1="158.6" x2="342.0" y2="158.6" stroke="#222" stroke-width="0.8"/>
<line x1="268.7" y1="158.6" x2="270.2" y2="158.6" stroke="#222" stroke-width="0.8"/>
<line x1="343.5" y1="144.1" x2="340.7" y2="144.1" stroke="#222" stroke-width="0.8"/>
<line x1="268.7" y1="144.1" x2="271.5" y2="144.1" stroke="#222" stroke-width="0.8"/>
<line x1="343.5" y1="129.6" x2="342.0" y2="129.6" stroke="#222" stroke-width="0.8"/>
<line x1="268.7" y1="129.6" x2="270.2" y2="129.6" stroke="#222" stroke-width="0.8"/>
<line x1="343.5" y1="115.2" x2="340.7" y2="115.2" stroke="#222" stroke-width="0.8"/>
<line x1="268.7" y1="115.2" x2="271.5" y2="115.2" stroke="#222" stroke-width="0.8"/>
<line x1="343.5" y1="100.8" x2="342.0" y2="100.8" stroke="#222" stroke-width="0.8"/>
<line x1="268.7" y1="100.8" x2="270.2" y2="100.8" stroke="#222" stroke-width="0.8"/>
<line x1="343.5" y1="86.3" x2="340.7" y2="86.3" stroke="#222" stroke-width="0.8"/>
<line x1="268.7" y1="86.3" x2="271.5" y2="86.3" stroke="#222" stroke-width="0.8"/>
<line x1="343.5" y1="71.8" x2="342.0" y2="71.8" stroke="#222" stroke-width="0.8"/>
<line x1="268.7" y1="71.8" x2="270.2" y2="71.8" stroke="#222" stroke-width="0.8"/>
<line x1="343.5" y1="57.4" x2="340.7" y2="57.4" stroke="#222" stroke-width="0.8"/>
<line x1="268.7" y1="57.4" x2="271.5" y2="57.4" stroke="#222" stroke-width="0.8"/>
<line x1="343.5" y1="43.0" x2="342.0" y2="43.0" stroke="#222" stroke-width="0.8"/>
<line x1="268.7" y1="43.0" x2="270.2" y2="43.0" stroke="#222" stroke-width="0.8"/>
<line x1="343.5" y1="28.5" x2="340.7" y2="28.5" stroke="#222" stroke-width="0.8"/>
<line x1="268.7" y1="28.5" x2="271.5" y2="28.5" stroke="#222" stroke-width="0.8"/>
<line x1="343.5" y1="14.0" x2="342.0" y2="14.0" stroke="#222" stroke-width="0.8"/>
<line x1="268.7" y1="14.0" x2="270.2" y2="14.0" stroke="#222" stroke-width="0.8"/>
<line x1="309.5" y1="26.3" x2="318.9" y2="26.3" stroke="#ff3030" stroke-width="1" stroke-opacity="0.9"/>
<text x="320.7" y="28.8" class="lg">Pb</text>
<line x1="309.5" y1="36.4" x2="318.9" y2="36.4" stroke="#10e010" stroke-width="1" stroke-opacity="0.9"/>
<text x="320.7" y="38.9" class="lg">Br</text>
<line x1="309.5" y1="46.5" x2="318.9" y2="46.5" stroke="#2040ff" stroke-width="1" stroke-opacity="0.9"/>
<text x="320.7" y="49.0" class="lg">N</text>
<line x1="309.5" y1="56.6" x2="318.9" y2="56.6" stroke="#ff20ff" stroke-width="1" stroke-opacity="0.9"/>
<text x="320.7" y="59.1" class="lg">C</text>
<line x1="309.5" y1="66.7" x2="318.9" y2="66.7" stroke="#ffa030" stroke-width="1" stroke-opacity="0.9"/>
<text x="320.7" y="69.2" class="lg">H</text>
<line x1="309.5" y1="76.8" x2="319.2" y2="76.8" stroke="#444" stroke-width="1.3" stroke-opacity="0.9"/>
<text x="319.5" y="79.3" class="lg">Total</text><clipPath id="cd"><rect x="399.7" y="208.4" width="218.2" height="171.6"/></clipPath><g clip-path="url(#cd)"><path d="M399.7 215.3 424.1 214.1 429.7 214.8 435.4 215.4 448.3 214.4 472.6 214.8 485.6 215.5 497.2 214.4 521.6 214.4M521.6 215.5 545.4 214.6 569.6 215.4 593.9 215.4 617.9 214.6 M399.7 214.1 424.1 213.9 435.4 212.9 448.3 212.2 472.6 213.1 485.6 213.5 491.4 212.8 497.2 212.1 521.6 212.1M521.6 214.3 533.5 213.3 545.4 212.4 557.5 213.1 569.6 213.7 593.9 214.1 617.9 214.1 M399.7 212.0 411.9 212.7 424.1 213.5 435.4 212.5 448.3 212.4 472.6 213.0 485.6 212.6 497.2 213.7 521.6 213.7M521.6 213.7 545.4 213.4 569.6 212.3 593.9 212.9 617.9 213.2 M399.7 211.8 424.1 212.1 435.4 211.0 448.3 211.2 472.6 212.3 485.6 211.5 497.2 211.6 521.6 211.6M521.6 210.8 545.4 211.1 569.6 212.2 581.8 211.4 593.9 210.6 605.9 211.6 617.9 212.6 M399.7 210.3 411.9 211.0 424.1 211.7 435.4 210.9 448.3 212.0 460.5 211.3 472.6 210.5 485.6 210.3 497.2 210.7 521.6 210.7M521.6 210.0 533.5 210.7 545.4 211.3 569.6 210.5 593.9 210.7 617.9 210.7 M399.7 209.2 424.1 209.0 435.4 210.1 448.3 209.6 460.5 210.3 472.6 211.0 479.1 210.3 485.6 209.6 497.2 209.7 521.6 209.7M521.6 208.9 545.4 209.3 557.5 209.9 569.6 210.5 593.9 210.3 617.9 209.6 M399.7 209.5 424.1 210.2 435.4 210.3 448.3 210.5 460.5 209.7 472.6 208.8 479.1 209.6 485.6 210.3 497.2 210.0 521.6 210.0M521.6 209.7 545.4 208.6 557.5 209.5 569.6 210.4 593.9 209.6 617.9 209.3 M399.7 217.0 424.1 216.9 435.4 217.9 448.3 217.7 472.6 217.8 485.6 216.8 497.2 216.7 521.6 216.7M521.6 218.1 545.4 218.1 569.6 218.0 593.9 218.0 617.9 217.5 M399.7 217.1 424.1 217.5 435.4 216.8 448.3 216.9 472.6 216.6 485.6 215.9 497.2 216.3 521.6 216.3M521.6 216.7 545.4 216.5 569.6 216.4 593.9 217.5 605.9 216.7 617.9 216.0 M399.7 218.1 424.1 219.1 435.4 219.1M435.4 218.4 448.3 218.5 460.5 219.5 472.6 220.6 485.6 220.6M485.6 220.6 497.2 221.3 521.6 220.6M521.6 219.1 545.4 219.8 569.6 219.1 581.8 219.8 593.9 220.6 605.9 219.8 617.9 219.1 M399.7 221.3 411.9 222.0 424.1 222.7 435.4 222.7M435.4 222.0 448.3 222.0 454.4 222.6 460.5 224.2 466.5 225.7 472.6 226.3 479.1 225.6 485.6 224.9M485.6 224.9 497.2 224.2 521.6 223.4M521.6 222.0 533.5 222.7 545.4 223.4 557.5 222.7 569.6 222.0 593.9 222.7 617.9 222.0 M399.7 224.9 411.9 225.6 424.1 226.3 435.4 226.1M435.4 225.2 448.3 225.6 460.5 226.7 472.6 227.8 485.6 227.1M485.6 227.1 497.2 226.3 521.6 226.3M521.6 225.6 545.4 226.3 569.6 225.6 593.9 226.3 617.9 226.1 M399.7 235.7 424.1 235.7 435.4 236.0 448.3 236.0 472.6 236.1 485.6 235.8 497.2 236.2 521.6 236.2M521.6 236.2 545.4 236.1 569.6 236.1 593.9 236.0 617.9 236.2 M399.7 235.8 424.1 235.8 435.4 235.7 448.3 235.9 472.6 235.4 485.6 235.5 497.2 235.8 521.6 235.8M521.6 235.8 545.4 235.7 569.6 235.7 593.9 235.8 617.9 235.4 M399.7 234.2 424.1 234.2 435.4 234.4 448.3 234.4 472.6 234.3 485.6 234.3 497.2 234.0 521.6 234.0M521.6 234.4 545.4 234.5 569.6 233.9 593.9 234.2 617.9 234.4 M399.7 234.0 424.1 233.7 435.4 233.4 448.3 233.5 472.6 233.6 485.6 233.8 497.2 233.8 521.6 233.8M521.6 233.9 545.4 233.6 569.6 233.7 593.9 233.5 617.9 233.8 M399.7 232.9 424.1 232.8 435.4 232.9 448.3 232.9 472.6 232.9 485.6 233.0 497.2 233.3 521.6 233.3M521.6 233.1 545.4 233.2 569.6 233.4 593.9 233.4 617.9 233.3 M399.7 243.4 424.1 243.3 435.4 243.6 448.3 243.3 472.6 243.3 485.6 243.3 497.2 243.6 521.6 243.6M521.6 243.7 545.4 243.7 569.6 243.7 593.9 243.7 617.9 243.5 M399.7 242.5 424.1 242.7 435.4 242.6 448.3 242.5 472.6 243.0 485.6 242.6 497.2 242.5 521.6 242.5M521.6 242.6 545.4 242.6 569.6 242.7 593.9 242.9 617.9 242.5 M399.7 242.2 424.1 242.1 435.4 242.5 448.3 242.5 472.6 242.2 485.6 242.3 497.2 242.6 521.6 242.6M521.6 242.6 545.4 242.6 569.6 242.2 593.9 242.2 617.9 242.6 M399.7 241.4 424.1 241.6 435.4 241.8 448.3 241.6 472.6 241.9 485.6 241.9 497.2 241.4 521.6 241.4M521.6 241.6 545.4 241.6 569.6 241.4 593.9 241.7 617.9 241.4 M399.7 241.3 424.1 241.3 435.4 241.2 448.3 241.3 472.6 241.1 485.6 241.3 497.2 241.2 521.6 241.2M521.6 241.3 545.4 240.9 569.6 241.2 593.9 241.1 617.9 241.1 M399.7 240.6 424.1 240.3 435.4 240.5 448.3 240.5 472.6 240.5 485.6 240.8 497.2 240.6 521.6 240.6M521.6 240.7 545.4 240.8 569.6 240.4 593.9 240.7 617.9 240.6 M399.7 240.0 424.1 240.2 435.4 240.1 448.3 240.0 472.6 239.9 485.6 240.3 497.2 240.0 521.6 240.0M521.6 240.2 545.4 240.2 569.6 239.9 593.9 240.1 617.9 240.0 M399.7 239.3 424.1 239.6 435.4 239.5 448.3 239.5 472.6 239.5 485.6 239.4 497.2 239.6 521.6 239.6M521.6 239.5 545.4 239.5 569.6 239.3 593.9 239.4 617.9 239.3 M399.7 214.8 402.7 215.1 405.8 216.0 408.8 217.6 411.9 219.6 414.9 222.2 418.0 225.0 421.0 228.2 424.1 231.4 425.5 229.2 426.9 227.0 428.3 225.1 429.7 223.3 431.1 221.9 432.6 220.8 434.0 220.2 435.4 220.0M435.4 217.7 438.0 217.1 440.6 215.7 443.1 213.9 445.7 212.4 448.3 211.9 451.3 212.3 454.4 213.5 457.4 215.4 460.5 218.0 463.5 221.1 466.5 224.7 469.6 228.6 472.6 232.7 474.2 230.7 475.9 228.8 477.5 227.1 479.1 225.5 480.7 224.3 482.4 223.3 484.0 222.8 485.6 222.6M485.6 222.6 487.9 222.1 490.2 220.7 492.6 219.1 494.9 217.7 497.2 217.2 500.2 217.4 503.3 218.1 506.4 219.2 509.4 220.6 512.5 222.3 515.5 224.3 518.6 226.4 521.6 228.7M521.6 214.8 524.6 215.1 527.5 216.0 530.5 217.5 533.5 219.6 536.5 222.1 539.5 224.9 542.4 228.0 545.4 231.3 548.4 227.9 551.5 224.7 554.5 221.7 557.5 219.1 560.6 216.9 563.6 215.4 566.6 214.4 569.6 214.0 572.7 214.4 575.7 215.4 578.7 217.1 581.8 219.3 584.8 222.0 587.8 225.1 590.9 228.5 593.9 232.0 596.9 228.5 599.9 225.1 602.9 222.0 605.9 219.3 608.9 217.1 611.9 215.4 614.9 214.4 617.9 214.0 M399.7 213.3 402.7 213.7 405.8 214.6 408.8 216.2 411.9 218.4 414.9 221.0 418.0 224.0 421.0 227.3 424.1 230.7 425.5 229.0 426.9 227.4 428.3 225.9 429.7 224.5 431.1 223.5 432.6 222.7 434.0 222.2 435.4 222.0M435.4 214.8 438.6 214.2 441.9 212.7 445.1 211.3 448.3 210.7 451.3 211.1 454.4 212.3 457.4 214.3 460.5 217.0 463.5 220.2 466.5 223.9 469.6 228.0 472.6 232.1 474.2 230.4 475.9 228.8 477.5 227.3 479.1 226.0 480.7 224.9 482.4 224.1 484.0 223.6 485.6 223.4M485.6 223.4 487.9 222.9 490.2 221.5 492.6 219.8 494.9 218.5 497.2 217.9 500.2 218.1 503.3 218.7 506.4 219.6 509.4 220.8 512.5 222.3 515.5 224.0 518.6 225.9 521.6 227.8M521.6 213.0 524.6 213.4 527.5 214.4 530.5 216.0 533.5 218.1 536.5 220.7 539.5 223.7 542.4 227.0 545.4 230.4 548.4 227.1 551.5 223.9 554.5 220.9 557.5 218.3 560.6 216.2 563.6 214.6 566.6 213.6 569.6 213.3 572.7 213.7 575.7 214.7 578.7 216.3 581.8 218.6 584.8 221.3 587.8 224.4 590.9 227.8 593.9 231.3 596.9 227.8 599.9 224.4 602.9 221.3 605.9 218.6 608.9 216.3 611.9 214.7 614.9 213.7 617.9 213.3 M399.7 250.9 402.7 250.7 405.8 250.2 408.8 249.2 411.9 248.0 414.9 246.4 418.0 244.7 421.0 242.8 424.1 240.8 427.8 242.3 431.6 243.3 435.4 243.7M435.4 244.1 437.2 244.5 439.1 245.5 440.9 247.0 442.8 248.7 444.6 250.1 446.5 251.2 448.3 251.5 451.3 251.2 454.4 250.1 457.4 248.3 460.5 246.0 463.5 243.2 466.5 239.9 469.6 236.4 472.6 232.7 474.2 235.0 475.9 237.2 477.5 239.2 479.1 241.0 480.7 242.5 482.4 243.5 484.0 244.2 485.6 244.4M485.6 245.2 488.5 245.8 491.4 247.5 494.3 249.1 497.2 249.8 500.2 249.3 503.3 248.1 506.4 246.3 509.4 244.1 512.5 241.9 515.5 240.0 518.6 238.8 521.6 238.4M521.6 249.8 524.6 249.2 527.5 247.6 530.5 245.2 533.5 242.4 536.5 239.6 539.5 237.2 542.4 235.6 545.4 235.0 548.4 235.6 551.5 237.2 554.5 239.6 557.5 242.4 560.6 245.2 563.6 247.6 566.6 249.2 569.6 249.8 572.7 249.4 575.7 248.4 578.7 246.8 581.8 244.6 584.8 241.9 587.8 238.8 590.9 235.5 593.9 232.0 596.9 235.5 599.9 238.8 602.9 241.9 605.9 244.6 608.9 246.8 611.9 248.4 614.9 249.4 617.9 249.8 M399.7 248.0 402.7 247.9 405.8 247.3 408.8 246.5 411.9 245.3 414.9 243.9 418.0 242.2 421.0 240.5 424.1 238.6 426.9 240.0 429.7 241.2 432.6 242.0 435.4 242.3M435.4 243.0 437.5 243.4 439.7 244.6 441.9 246.2 444.0 247.9 446.1 249.1 448.3 249.5 451.3 249.2 454.4 248.4 457.4 247.1 460.5 245.3 463.5 243.1 466.5 240.6 469.6 237.8 472.6 235.0 474.5 236.8 476.3 238.5 478.2 240.0 480.0 241.2 481.9 242.2 483.7 242.8 485.6 243.0M485.6 243.7 488.5 244.3 491.4 245.9 494.3 247.4 497.2 248.0 500.2 247.6 503.3 246.5 506.4 244.7 509.4 242.6 512.5 240.5 515.5 238.8 518.6 237.6 521.6 237.2M521.6 248.0 524.6 247.5 527.5 245.9 530.5 243.6 533.5 240.8 536.5 238.0 539.5 235.7 542.4 234.1 545.4 233.6 548.4 234.1 551.5 235.7 554.5 238.0 557.5 240.8 560.6 243.6 563.6 245.9 566.6 247.5 569.6 248.0 572.7 247.8 575.7 246.9 578.7 245.6 581.8 243.8 584.8 241.6 587.8 239.1 590.9 236.4 593.9 233.6 596.9 236.4 599.9 239.1 602.9 241.6 605.9 243.8 608.9 245.6 611.9 246.9 614.9 247.8 617.9 248.0 M399.7 295.9 403.8 296.2 407.8 296.9 411.9 297.9 415.9 299.3 420.0 301.0 424.1 302.7 429.7 301.6 435.4 301.2M435.4 301.2 438.0 299.5 440.6 298.1 443.1 296.9 445.7 296.2 448.3 295.9 451.8 296.1 455.2 296.8 458.7 297.7 462.2 299.0 465.7 300.6 469.1 302.4 472.6 304.2 485.6 303.0M485.6 303.0 497.2 303.3 521.6 303.3M521.6 295.5 525.6 295.7 529.5 296.3 533.5 297.3 537.5 298.6 541.4 300.1 545.4 301.7 569.6 302.3 593.9 301.9 617.9 302.3 M399.7 307.1 411.9 306.1 424.1 305.2 435.4 305.6M435.4 305.9 441.9 306.6 448.3 307.4 456.4 306.7 464.5 305.4 472.6 304.8 485.6 304.5M485.6 304.5 497.2 304.2 521.6 304.5M521.6 306.6 529.5 305.8 537.5 304.2 545.4 303.3 569.6 303.9 593.9 303.0 617.9 303.6 M399.7 317.5 424.1 317.1 435.4 316.5 448.3 316.7 472.6 317.7 485.6 317.7 497.2 317.2 521.6 317.2M521.6 316.6 545.4 316.4 569.6 316.6 593.9 315.8 617.9 315.6 M399.7 317.3 424.1 316.5 435.4 316.5 448.3 317.3 472.6 316.2 485.6 316.1 497.2 317.2 521.6 317.2M521.6 315.0 545.4 315.8 569.6 315.6 593.9 314.9 617.9 315.1 M399.7 316.7 424.1 316.6 435.4 316.8 448.3 317.1 472.6 316.9 485.6 316.3 497.2 317.3 521.6 317.3M521.6 315.4 545.4 315.5 569.6 316.2 593.9 315.7 617.9 315.3 M399.7 316.7 411.9 316.1 424.1 315.4 435.4 315.7 448.3 315.4 460.5 316.1 472.6 316.7 485.6 316.4 497.2 316.8 521.6 316.8M521.6 314.5 545.4 315.3 569.6 315.5 593.9 315.1 617.9 314.4 M399.7 316.0 424.1 316.1 435.4 315.0 448.3 315.5 472.6 315.3 485.6 316.2 497.2 316.3 521.6 316.3M521.6 314.2 545.4 314.6 569.6 315.1 581.8 314.4 593.9 313.8 617.9 314.3 M399.7 315.8 424.1 314.7 435.4 315.8 448.3 314.7 472.6 315.3 485.6 315.5 497.2 315.1 521.6 315.1M521.6 313.4 545.4 314.4 569.6 314.6 593.9 314.0 617.9 314.4 M399.7 315.5 424.1 315.7 435.4 315.5 448.3 315.3 472.6 315.3 485.6 314.7 497.2 315.3 521.6 315.3M521.6 313.9 545.4 314.3 569.6 314.1 593.9 314.6 617.9 314.2 M399.7 314.3 424.1 314.6 435.4 315.1 448.3 314.7 472.6 314.0 485.6 315.2 497.2 314.2 521.6 314.2M521.6 313.6 545.4 313.5 569.6 313.0 593.9 313.7 617.9 313.5 M399.7 313.4 424.1 314.3 435.4 313.6 448.3 313.8 472.6 313.9 485.6 314.2 497.2 314.3 521.6 314.3M521.6 313.5 545.4 313.4 569.6 313.5 593.9 312.6 617.9 313.3 M399.7 314.4 424.1 313.3 435.4 313.3 448.3 313.6 472.6 314.1 485.6 314.2 497.2 314.1 521.6 314.1M521.6 312.7 545.4 313.2 569.6 312.7 593.9 313.0 617.9 312.0 M399.7 313.1 424.1 313.5 435.4 312.5 448.3 313.4 472.6 313.4 485.6 313.9 497.2 313.3 521.6 313.3M521.6 312.1 545.4 312.0 569.6 312.4 593.9 312.0 617.9 312.7 M399.7 313.6 424.1 313.1 435.4 313.7 448.3 313.7 472.6 313.3 485.6 313.4 497.2 312.9 521.6 312.9M521.6 311.8 545.4 311.5 569.6 311.6 593.9 311.5 617.9 311.3 M399.7 312.8 424.1 311.9 429.7 312.5 435.4 313.1 448.3 312.2 472.6 312.4 485.6 313.2 497.2 312.1 521.6 312.1M521.6 310.8 545.4 311.2 569.6 311.1 593.9 311.0 617.9 311.9 M399.7 312.1 424.1 311.6 435.4 311.7 448.3 311.7 472.6 312.0 485.6 311.6 497.2 311.9 521.6 311.9M521.6 310.7 545.4 311.4 569.6 311.6 593.9 311.5 617.9 311.2 M399.7 311.4 424.1 311.8 435.4 311.7 448.3 311.7 472.6 311.6 485.6 311.9 497.2 312.6 521.6 312.6M521.6 310.3 545.4 310.3 569.6 310.7 593.9 310.6 617.9 310.5 M399.7 311.1 424.1 311.8 435.4 312.1 448.3 311.8 472.6 311.1 485.6 311.9 497.2 311.1 521.6 311.1M521.6 309.6 545.4 310.3 569.6 310.5 593.9 310.3 617.9 310.0 M399.7 310.7 424.1 310.6 435.4 311.5 448.3 311.4 472.6 311.2 485.6 310.5 497.2 311.1 521.6 311.1M521.6 309.6 545.4 310.4 569.6 310.3 593.9 310.0 617.9 309.4 M399.7 310.2 424.1 310.8 435.4 310.5 448.3 310.5 472.6 310.5 485.6 311.0 497.2 309.9 521.6 309.9M521.6 309.8 545.4 308.6 569.6 308.7 581.8 309.4 593.9 310.0 617.9 309.4 M399.7 309.4 424.1 310.1 435.4 310.4 448.3 310.5 472.6 309.4 485.6 310.5 497.2 309.9 521.6 309.9M521.6 309.4 545.4 308.8 569.6 308.2 593.9 309.4 617.9 308.4 M399.7 309.2 424.1 309.4 435.4 310.1 448.3 309.2 472.6 309.8 485.6 310.4 497.2 310.5 521.6 310.5M521.6 308.6 545.4 308.7 569.6 308.9 593.9 309.1 617.9 308.8 M399.7 319.7 403.2 319.9 406.7 320.5 410.1 321.4 413.6 322.7 417.1 324.2 420.6 325.9 424.1 327.6 429.7 326.6 435.4 326.2M435.4 323.3 438.6 321.9 441.9 320.7 445.1 319.9 448.3 319.7 451.8 319.9 455.2 320.5 458.7 321.4 462.2 322.7 465.7 324.2 469.1 325.9 472.6 327.6 476.9 326.9 481.3 325.5 485.6 324.7M485.6 324.7 489.5 324.3 493.3 323.3 497.2 321.8 521.6 321.8M521.6 318.9 525.0 319.1 528.4 319.7 531.8 320.5 535.2 321.7 538.6 323.0 542.0 324.6 545.4 326.2 549.4 325.7 553.5 324.6 557.5 322.9 561.6 321.3 565.6 320.1 569.6 319.7 573.7 321.4 577.7 322.9 581.8 324.3 585.8 325.3 589.9 326.0 593.9 326.2 598.7 325.9 603.5 325.1 608.3 323.8 613.1 322.2 617.9 320.4 M399.7 327.6 403.2 327.4 406.7 326.9 410.1 326.1 413.6 324.9 417.1 323.5 420.6 322.0 424.1 320.4 429.7 321.4 435.4 321.8M435.4 326.2 441.9 327.2 448.3 327.6 452.4 327.4 456.4 326.8 460.5 325.7 464.5 324.4 468.6 322.8 472.6 321.1 479.1 321.8 485.6 322.6M485.6 322.6 488.5 322.8 491.4 323.6 494.3 324.8 497.2 326.2 521.6 326.2M521.6 327.6 525.0 327.4 528.4 326.9 531.8 326.1 535.2 324.9 538.6 323.5 542.0 322.0 545.4 320.4 548.9 320.8 552.3 321.8 555.8 323.2 559.3 324.8 562.7 326.3 566.2 327.3 569.6 327.6 573.7 325.9 577.7 324.4 581.8 323.0 585.8 322.0 589.9 321.3 593.9 321.1 598.7 321.4 603.5 322.2 608.3 323.5 613.1 325.1 617.9 326.9 M399.7 322.6 411.9 323.7 424.1 324.7 435.4 324.0M435.4 322.6 448.3 321.8 460.5 322.9 472.6 324.0 479.1 325.1 485.6 326.2M485.6 326.2 491.4 326.9 497.2 327.6 521.6 327.6M521.6 324.0 545.4 324.0 569.6 324.7 593.9 324.0 617.9 324.7 M399.7 329.8 424.1 329.8 435.4 329.8M435.4 329.1 448.3 329.1 460.5 329.8 472.6 330.5 485.6 330.5M485.6 330.5 497.2 329.8 521.6 329.8M521.6 329.1 545.4 329.8 569.6 329.1 593.9 329.8 617.9 329.1 M399.7 337.3 405.8 337.0 411.9 336.1 418.0 334.7 424.1 333.1 427.8 334.7 431.6 335.9 435.4 336.3M435.4 337.3 448.3 337.3 454.4 337.0 460.5 336.2 466.5 334.9 472.6 333.4 475.9 334.8 479.1 336.0 482.4 336.8 485.6 337.0M485.6 337.3 497.2 337.3 521.6 337.3M521.6 337.3 529.5 336.9 537.5 335.7 545.4 334.1 553.5 335.7 561.6 336.9 569.6 337.3 593.9 336.3 617.9 337.3 M399.7 337.8 405.8 337.5 411.9 336.7 418.0 335.5 424.1 334.1 427.8 335.6 431.6 336.6 435.4 337.0M435.4 337.8 448.3 337.8 456.4 337.3 464.5 336.2 472.6 334.6 476.9 336.2 481.3 337.3 485.6 337.8M485.6 337.8 497.2 337.8 521.6 337.8M521.6 337.8 533.5 337.1 545.4 335.6 557.5 337.1 569.6 337.8 593.9 337.0 617.9 337.8 M399.7 343.3 424.1 344.2 435.4 343.4 448.3 343.3 472.6 344.1 485.6 343.2 497.2 343.4 521.6 343.4M521.6 343.2 545.4 343.9 569.6 343.8 593.9 343.8 617.9 343.1 M399.7 343.2 424.1 343.1 435.4 343.3 448.3 343.6 472.6 343.5 485.6 342.7 497.2 343.3 521.6 343.3M521.6 342.5 545.4 343.3 569.6 343.3 593.9 343.0 617.9 343.4 M399.7 342.1 424.1 342.2 435.4 342.3 448.3 342.5 472.6 342.1 485.6 342.1 497.2 342.6 521.6 342.6M521.6 342.4 545.4 343.1 569.6 342.4 593.9 342.7 617.9 342.3 M399.7 342.3 424.1 342.5 435.4 341.5 448.3 342.4 472.6 342.0 485.6 342.2 497.2 342.2 521.6 342.2M521.6 341.7 545.4 341.5 569.6 342.3 593.9 341.8 617.9 342.2 M399.7 341.7 424.1 341.9 435.4 341.9 448.3 341.9 472.6 341.1 485.6 341.5 497.2 341.9 521.6 341.9M521.6 341.1 545.4 341.0 569.6 341.6 593.9 342.0 617.9 341.9 M399.7 341.4 424.1 341.7 435.4 341.5 448.3 341.5 472.6 341.1 485.6 340.8 497.2 340.9 521.6 340.9M521.6 341.3 545.4 341.3 569.6 341.2 593.9 341.4 617.9 341.4 M399.7 341.0 424.1 340.2 435.4 341.2 448.3 340.7 472.6 340.6 485.6 340.3 497.2 341.1 521.6 341.1M521.6 341.0 545.4 341.0 569.6 340.8 593.9 340.8 617.9 340.2 M399.7 339.5 424.1 340.5 435.4 340.4 448.3 339.7 472.6 339.4 485.6 339.9 497.2 339.8 521.6 339.8M521.6 340.5 545.4 340.0 569.6 339.4 593.9 339.5 617.9 339.5 M399.7 339.6 424.1 339.8 435.4 339.7 448.3 339.3 472.6 339.1 485.6 338.8 497.2 339.1 521.6 339.1M521.6 339.2 545.4 339.0 569.6 339.4 593.9 339.3 617.9 339.9 M399.7 339.2 424.1 338.4 435.4 338.7 448.3 339.1 472.6 339.3 485.6 339.2 497.2 338.8 521.6 338.8M521.6 338.7 545.4 339.4 569.6 339.4 593.9 338.9 617.9 338.8 M399.7 338.9 424.1 338.4 435.4 339.1 448.3 338.8 472.6 338.6 485.6 338.0 497.2 338.4 521.6 338.4M521.6 338.1 545.4 338.6 569.6 338.9 593.9 338.9 617.9 338.0 M399.7 338.2 424.1 338.5 435.4 337.9 448.3 337.7 472.6 338.0 485.6 338.2 497.2 337.7 521.6 337.7M521.6 337.4 545.4 338.2 569.6 338.5 593.9 338.1 617.9 338.0 M399.7 351.9 424.1 351.3 435.4 351.4 448.3 351.6 472.6 351.9 485.6 351.2 497.2 351.8 521.6 351.8M521.6 351.3 545.4 351.8 569.6 351.8 593.9 351.4 617.9 351.8 M399.7 350.4 424.1 350.7 435.4 350.7 448.3 350.5 472.6 350.3 485.6 350.0 497.2 350.7 521.6 350.7M521.6 350.5 545.4 350.7 569.6 350.0 593.9 350.7 617.9 350.8 M399.7 350.3 424.1 349.8 435.4 349.8 448.3 350.0 472.6 349.7 485.6 349.8 497.2 350.3 521.6 350.3M521.6 350.4 545.4 349.8 569.6 349.9 593.9 350.6 617.9 350.0 M399.7 358.6 424.1 358.6 435.4 358.7 448.3 358.8 472.6 358.6 485.6 358.6 497.2 358.2 521.6 358.2M521.6 358.7 545.4 358.2 569.6 358.6 593.9 358.6 617.9 358.3 M399.7 357.6 424.1 357.9 435.4 357.6 448.3 357.7 472.6 357.4 485.6 357.8 497.2 357.7 521.6 357.7M521.6 357.4 545.4 357.9 569.6 357.6 593.9 357.4 617.9 357.4 M399.7 366.5 424.1 366.5 435.4 365.8 448.3 366.3 472.6 365.9 485.6 365.8 497.2 366.3 521.6 366.3M521.6 366.3 545.4 365.7 569.6 366.0 593.9 366.3 617.9 365.9 M399.7 365.2 424.1 365.4 435.4 364.7 448.3 364.6 472.6 364.8 485.6 364.6 497.2 365.4 521.6 365.4M521.6 365.2 545.4 365.0 569.6 364.6 593.9 364.6 617.9 365.1 M399.7 364.1 424.1 364.1 435.4 363.7 448.3 364.3 472.6 363.8 485.6 363.8 497.2 363.8 521.6 363.8M521.6 363.8 545.4 364.0 569.6 364.2 593.9 364.2 617.9 364.2 M399.7 370.5 424.1 370.4 435.4 370.1 448.3 370.4 472.6 370.5 485.6 370.5 497.2 370.2 521.6 370.2M521.6 370.3 545.4 369.9 569.6 370.0 593.9 369.9 617.9 370.4 M399.7 370.1 424.1 369.9 435.4 369.8 448.3 369.9 472.6 370.1 485.6 370.0 497.2 369.8 521.6 369.8M521.6 369.8 545.4 369.8 569.6 369.7 593.9 369.8 617.9 370.1 M399.7 378.4 424.1 378.3 435.4 378.4 448.3 378.2 472.6 378.5 485.6 378.4 497.2 378.4 521.6 378.4M521.6 378.5 545.4 378.1 569.6 378.3 593.9 378.4 617.9 378.4 M399.7 377.5 424.1 377.6 435.4 377.3 448.3 377.4 472.6 377.2 485.6 377.7 497.2 377.5 521.6 377.5M521.6 377.3 545.4 377.3 569.6 377.2 593.9 377.8 617.9 377.6" fill="none" stroke="#0e32f5" stroke-width="0.85" stroke-opacity="1.0"/></g><line x1="424.06" y1="208.4" x2="424.06" y2="380.0" stroke="#222" stroke-width="0.9"/>
<line x1="435.4" y1="208.4" x2="435.4" y2="380.0" stroke="#222" stroke-width="0.9"/>
<line x1="448.3" y1="208.4" x2="448.3" y2="380.0" stroke="#222" stroke-width="0.9"/>
<line x1="472.6" y1="208.4" x2="472.6" y2="380.0" stroke="#222" stroke-width="0.9"/>
<line x1="485.6" y1="208.4" x2="485.6" y2="380.0" stroke="#222" stroke-width="0.9"/>
<line x1="497.2" y1="208.4" x2="497.2" y2="380.0" stroke="#222" stroke-width="0.9"/>
<line x1="521.6" y1="208.4" x2="521.6" y2="380.0" stroke="#222" stroke-width="0.9"/>
<line x1="545.4" y1="208.4" x2="545.4" y2="380.0" stroke="#222" stroke-width="0.9"/>
<line x1="569.65" y1="208.4" x2="569.65" y2="380.0" stroke="#222" stroke-width="0.9"/>
<line x1="593.9" y1="208.4" x2="593.9" y2="380.0" stroke="#222" stroke-width="0.9"/>
<line x1="399.7" y1="294.35" x2="617.9" y2="294.35" stroke="#f22" stroke-width="0.9" stroke-dasharray="1.6 1.2"/>
<rect x="399.7" y="208.4" width="218.2" height="171.6" fill="none" stroke="#222" stroke-width="1"/>
<line x1="399.7" y1="366.7" x2="401.3" y2="366.7" stroke="#222" stroke-width="0.8"/>
<line x1="617.9" y1="366.7" x2="616.3" y2="366.7" stroke="#222" stroke-width="0.8"/>
<line x1="399.7" y1="352.2" x2="402.9" y2="352.2" stroke="#222" stroke-width="0.8"/>
<line x1="617.9" y1="352.2" x2="614.6999999999999" y2="352.2" stroke="#222" stroke-width="0.8"/>
<text x="397.7" y="355.8" text-anchor="end" class="ty">-4</text>
<line x1="399.7" y1="337.8" x2="401.3" y2="337.8" stroke="#222" stroke-width="0.8"/>
<line x1="617.9" y1="337.8" x2="616.3" y2="337.8" stroke="#222" stroke-width="0.8"/>
<line x1="399.7" y1="323.3" x2="402.9" y2="323.3" stroke="#222" stroke-width="0.8"/>
<line x1="617.9" y1="323.3" x2="614.6999999999999" y2="323.3" stroke="#222" stroke-width="0.8"/>
<text x="397.7" y="326.9" text-anchor="end" class="ty">-2</text>
<line x1="399.7" y1="308.8" x2="401.3" y2="308.8" stroke="#222" stroke-width="0.8"/>
<line x1="617.9" y1="308.8" x2="616.3" y2="308.8" stroke="#222" stroke-width="0.8"/>
<line x1="399.7" y1="294.4" x2="402.9" y2="294.4" stroke="#222" stroke-width="0.8"/>
<line x1="617.9" y1="294.4" x2="614.6999999999999" y2="294.4" stroke="#222" stroke-width="0.8"/>
<text x="397.7" y="298.0" text-anchor="end" class="ty">0</text>
<line x1="399.7" y1="279.9" x2="401.3" y2="279.9" stroke="#222" stroke-width="0.8"/>
<line x1="617.9" y1="279.9" x2="616.3" y2="279.9" stroke="#222" stroke-width="0.8"/>
<line x1="399.7" y1="265.4" x2="402.9" y2="265.4" stroke="#222" stroke-width="0.8"/>
<line x1="617.9" y1="265.4" x2="614.6999999999999" y2="265.4" stroke="#222" stroke-width="0.8"/>
<text x="397.7" y="269.0" text-anchor="end" class="ty">2</text>
<line x1="399.7" y1="250.9" x2="401.3" y2="250.9" stroke="#222" stroke-width="0.8"/>
<line x1="617.9" y1="250.9" x2="616.3" y2="250.9" stroke="#222" stroke-width="0.8"/>
<line x1="399.7" y1="236.5" x2="402.9" y2="236.5" stroke="#222" stroke-width="0.8"/>
<line x1="617.9" y1="236.5" x2="614.6999999999999" y2="236.5" stroke="#222" stroke-width="0.8"/>
<text x="397.7" y="240.1" text-anchor="end" class="ty">4</text>
<line x1="399.7" y1="222.0" x2="401.3" y2="222.0" stroke="#222" stroke-width="0.8"/>
<line x1="617.9" y1="222.0" x2="616.3" y2="222.0" stroke="#222" stroke-width="0.8"/>
<text x="400.2" y="389.7" text-anchor="middle" class="tk">Γ</text>
<text x="423.2" y="389.7" text-anchor="middle" class="tk">Y</text>
<text x="435.6" y="389.7" text-anchor="middle" class="tk">F<tspan font-size="5.5" dy="1.8">0</tspan><tspan dy="-1.8">|Δ</tspan><tspan font-size="5.5" dy="1.8">0</tspan></text>
<text x="448.0" y="389.7" text-anchor="middle" class="tk">Γ</text>
<text x="471.2" y="389.7" text-anchor="middle" class="tk">Z</text>
<text x="485.8" y="389.7" text-anchor="middle" class="tk">B<tspan font-size="5.5" dy="1.8">0</tspan><tspan dy="-1.8">|G</tspan><tspan font-size="5.5" dy="1.8">0</tspan></text>
<text x="497.6" y="389.7" text-anchor="middle" class="tk">T</text>
<text x="521" y="389.7" text-anchor="middle" class="tk">Y|Γ</text>
<text x="545.8" y="389.7" text-anchor="middle" class="tk">S</text>
<text x="570.2" y="389.7" text-anchor="middle" class="tk">R</text>
<text x="594.9" y="389.7" text-anchor="middle" class="tk">Z</text>
<text x="616.8" y="389.7" text-anchor="middle" class="tk">T</text>
<text transform="translate(382.5,295.7) rotate(-90)" text-anchor="middle" class="yl">E-E<tspan font-size="6" dy="2">f</tspan><tspan dy="-2"> (eV)</tspan></text><line x1="523.6" y1="255.1" x2="523.6" y2="265.2" stroke="#999" stroke-width="1"/>
<line x1="523.6" y1="279.8" x2="523.6" y2="293.8" stroke="#999" stroke-width="1"/>
<path d="M522.5 257.7 L523.6 255.1 L524.7 257.7Z" fill="#222"/>
<path d="M522.5 291.2 L523.6 293.8 L524.7 291.2Z" fill="#222"/>
<text x="526.5" y="276.5" class="gp" style="font-size:9.8px">3.05 eV</text><text x="352.3" y="234.1" class="pl">(d)</text><line x1="621.2" y1="86.5" x2="695.0" y2="86.5" stroke="#f22" stroke-width="0.9" stroke-dasharray="1.6 1.2"/>
<path d="M620.6 0.0 L621.5 1.3 L621.5 2.6 L621.5 3.9 L621.5 5.2 L621.5 6.6 L621.5 7.9 L621.5 9.2 L621.5 10.5 L621.5 11.8 L621.5 13.1 L621.5 14.4 L621.5 15.7 L621.5 17.0 L621.5 18.3 L621.5 19.7 L621.5 21.0 L621.5 22.3 L621.5 23.6 L621.5 24.9 L621.5 26.2 L621.5 27.5 L621.5 28.8 L621.5 30.1 L621.5 31.4 L621.5 32.8 L621.5 34.1 L621.5 35.4 L621.5 36.7 L621.5 38.0 L621.5 39.3 L621.5 40.6 L621.5 41.9 L621.5 43.2 L621.5 44.5 L621.5 45.9 L621.5 47.2 L621.5 48.5 L621.5 49.8 L621.5 51.1 L621.5 52.4 L621.5 53.7 L621.5 55.0 L621.5 56.3 L621.5 57.6 L621.5 59.0 L621.5 60.3 L621.5 61.6 L621.5 62.9 L621.5 64.2 L621.5 65.5 L621.5 66.8 L621.5 68.1 L621.5 69.4 L621.5 70.7 L621.5 72.1 L621.5 73.4 L621.5 74.7 L621.5 76.0 L621.5 77.3 L621.5 78.6 L621.5 79.9 L621.5 81.2 L621.5 82.5 L621.5 83.8 L620.6 85.2 L620.6 87.1 L621.5 88.4 L621.5 89.7 L621.5 91.0 L621.5 92.3 L621.5 93.6 L621.5 94.9 L621.5 96.2 L621.5 97.5 L621.5 98.8 L621.5 100.1 L621.5 101.4 L621.5 102.7 L621.5 104.0 L621.5 105.3 L621.5 106.6 L621.5 107.9 L621.5 109.2 L621.5 110.5 L621.5 111.8 L621.5 113.2 L621.5 114.5 L621.5 115.8 L621.5 117.1 L621.5 118.4 L621.5 119.7 L621.5 121.0 L621.5 122.3 L621.5 123.6 L621.5 124.9 L621.5 126.2 L620.8 127.5 L624.6 128.6 L626.7 130.8 L624.6 132.9 L621.1 135.1 L621.5 136.8 L621.1 138.4 L626.7 139.5 L626.7 141.7 L621.1 143.9 L621.5 145.2 L621.5 146.6 L621.5 148.0 L621.1 149.3 L624.6 151.5 L621.1 152.6 L621.5 154.0 L621.1 155.4 L625.6 156.3 L625.7 157.7 L626.7 159.1 L624.6 161.3 L621.1 163.5 L621.5 164.9 L621.5 166.2 L621.5 167.6 L621.5 168.9 L621.1 170.3" fill="none" stroke="#ffa030" stroke-width="0.9" stroke-linejoin="round"/>
<path d="M620.6 0.0 L621.5 1.3 L621.5 2.6 L621.5 3.9 L621.5 5.2 L621.5 6.6 L621.5 7.9 L621.5 9.2 L621.5 10.5 L621.5 11.8 L621.5 13.1 L621.5 14.4 L621.5 15.7 L621.5 17.0 L621.5 18.3 L621.5 19.7 L621.5 21.0 L621.5 22.3 L621.5 23.6 L621.5 24.9 L621.5 26.2 L621.5 27.5 L621.5 28.8 L621.5 30.1 L621.5 31.4 L621.5 32.8 L621.5 34.1 L621.5 35.4 L621.5 36.7 L621.5 38.0 L621.5 39.3 L621.5 40.6 L621.5 41.9 L621.5 43.2 L621.5 44.5 L621.5 45.9 L621.5 47.2 L621.5 48.5 L621.5 49.8 L621.5 51.1 L621.5 52.4 L621.5 53.7 L621.5 55.0 L621.5 56.3 L621.5 57.6 L621.5 59.0 L621.5 60.3 L621.5 61.6 L621.5 62.9 L621.5 64.2 L621.5 65.5 L621.5 66.8 L621.5 68.1 L621.5 69.4 L621.5 70.7 L621.5 72.1 L621.5 73.4 L621.5 74.7 L621.5 76.0 L621.5 77.3 L621.5 78.6 L621.5 79.9 L621.5 81.2 L621.5 82.5 L621.5 83.8 L620.6 85.2 L620.6 86.0 L621.5 87.3 L621.5 88.6 L621.5 90.0 L621.5 91.3 L621.5 92.6 L621.5 93.9 L621.5 95.2 L621.5 96.5 L621.5 97.9 L621.5 99.2 L621.5 100.5 L621.5 101.8 L621.5 103.1 L621.5 104.4 L621.5 105.8 L621.5 107.1 L621.5 108.4 L621.5 109.7 L621.5 111.0 L621.5 112.3 L621.5 113.7 L621.5 115.0 L621.5 116.3 L621.5 117.6 L621.5 118.9 L621.5 120.2 L621.5 121.6 L621.5 122.9 L621.5 124.2 L621.5 125.5 L621.5 126.8 L621.5 128.1 L621.5 129.5 L621.5 130.8 L621.5 132.1 L621.5 133.4 L621.5 134.7 L621.5 136.0 L621.5 137.4 L621.5 138.7 L621.5 140.0 L621.5 141.3 L621.5 142.6 L621.5 143.9 L621.5 145.3 L621.5 146.6 L621.5 147.9 L621.5 149.2 L621.5 150.5 L621.5 151.8 L621.5 153.2 L621.5 154.5 L621.5 155.8 L621.5 157.1 L621.5 158.4 L621.5 159.7 L621.5 161.1 L621.5 162.4 L621.5 163.7 L621.5 165.0 L621.5 166.3 L621.5 167.6 L621.5 169.0 L620.6 170.3" fill="none" stroke="#2040ff" stroke-width="0.9" stroke-linejoin="round"/>
<path d="M620.6 0.0 L621.5 1.3 L621.5 2.6 L621.5 4.0 L621.5 5.3 L621.5 6.6 L621.5 7.9 L621.5 9.3 L621.5 10.6 L621.5 11.9 L621.5 13.2 L621.5 14.6 L621.5 15.9 L621.5 17.2 L621.5 18.5 L621.5 19.8 L621.5 21.2 L621.5 22.5 L621.5 23.8 L621.5 25.1 L621.5 26.5 L621.5 27.8 L621.5 29.1 L621.5 30.4 L621.5 31.8 L621.5 33.1 L621.5 34.4 L621.5 35.7 L621.5 37.1 L621.5 38.4 L621.5 39.7 L621.5 41.0 L621.5 42.3 L620.6 43.7 L621.5 45.0 L621.5 46.3 L621.5 47.6 L621.5 48.9 L621.5 50.2 L621.5 51.6 L621.5 52.9 L621.5 54.2 L621.5 55.5 L621.5 56.8 L621.5 58.1 L621.5 59.5 L621.5 60.8 L621.5 62.1 L621.5 63.4 L621.5 64.7 L621.5 66.0 L621.5 67.4 L621.5 68.7 L621.5 70.0 L621.5 71.3 L621.5 72.6 L621.5 73.9 L621.5 75.2 L621.5 76.6 L621.5 77.9 L621.5 79.2 L621.5 80.5 L621.5 81.8 L621.5 83.1 L621.5 84.5 L621.5 85.8 L620.6 87.1 L621.5 88.4 L621.5 89.7 L621.5 91.0 L621.5 92.3 L621.5 93.6 L621.5 94.9 L621.5 96.2 L621.5 97.5 L621.5 98.8 L621.5 100.1 L621.5 101.4 L621.5 102.7 L621.5 104.0 L621.5 105.3 L621.5 106.6 L621.5 107.9 L621.5 109.2 L621.5 110.5 L621.5 111.8 L621.5 113.1 L621.5 114.4 L621.5 115.7 L621.5 117.0 L621.5 118.3 L621.5 119.6 L621.5 120.9 L621.5 122.2 L621.5 123.5 L621.5 124.8 L621.5 126.1 L621.5 127.4 L621.5 128.7 L621.5 130.0 L621.5 131.3 L621.5 132.6 L621.5 133.9 L621.5 135.2 L621.5 136.5 L621.5 137.8 L621.5 139.1 L621.5 140.4 L621.5 141.7 L621.5 143.0 L621.5 144.3 L621.5 145.6 L621.5 146.9 L620.6 148.2 L625.6 149.8 L625.6 151.5 L620.6 152.6 L621.5 154.0 L621.5 155.3 L621.5 156.7 L621.5 158.0 L621.5 159.4 L621.5 160.8 L621.5 162.1 L621.5 163.5 L621.5 164.8 L621.5 166.2 L621.5 167.6 L621.5 168.9 L620.6 170.3" fill="none" stroke="#ff3030" stroke-width="0.9" stroke-linejoin="round"/>
<path d="M621.1 0.0 L621.5 1.3 L621.5 2.6 L621.5 3.9 L621.5 5.2 L621.5 6.6 L621.5 7.9 L621.5 9.2 L621.5 10.5 L621.5 11.8 L621.5 13.1 L621.5 14.4 L621.5 15.7 L621.5 17.0 L621.5 18.3 L621.5 19.7 L621.5 21.0 L621.5 22.3 L621.5 23.6 L621.5 24.9 L621.5 26.2 L621.5 27.5 L621.5 28.8 L621.1 30.1 L626.7 31.7 L632.2 33.2 L627.8 34.9 L621.1 37.1 L621.5 38.5 L621.5 39.8 L621.5 41.1 L621.5 42.5 L621.5 43.8 L621.5 45.1 L621.5 46.5 L621.5 47.8 L621.5 49.1 L621.5 50.5 L621.5 51.8 L621.5 53.1 L621.5 54.5 L621.5 55.8 L621.5 57.1 L621.5 58.5 L621.5 59.8 L621.5 61.1 L621.5 62.5 L621.5 63.8 L621.5 65.1 L621.5 66.5 L621.5 67.8 L621.5 69.1 L621.5 70.5 L621.5 71.8 L621.5 73.1 L621.5 74.5 L621.5 75.8 L621.5 77.1 L621.5 78.5 L621.5 79.8 L621.5 81.1 L621.5 82.5 L621.5 83.8 L621.1 85.2 L621.1 87.1 L621.5 88.4 L621.5 89.8 L621.5 91.1 L621.5 92.4 L621.5 93.8 L621.5 95.1 L621.5 96.4 L621.5 97.8 L621.1 99.1 L626.7 101.3 L629.6 102.9 L631.1 104.6 L628.6 106.2 L626.7 107.8 L625.0 109.5 L622.4 111.1 L622.4 112.5 L622.2 113.8 L622.0 115.2 L622.1 116.6 L621.9 117.9 L621.7 119.3 L621.8 120.7 L621.6 122.0 L621.5 123.4 L621.5 124.8 L621.5 126.1 L621.1 127.5 L631.1 129.2 L638.7 130.8 L631.1 132.3 L627.1 133.7 L622.4 135.1 L622.4 136.8 L622.4 138.4 L633.3 140.6 L626.7 142.3 L624.5 143.6 L622.4 145.0 L623.6 146.6 L624.6 148.2 L634.4 149.8 L631.1 151.5 L623.5 153.7 L628.0 155.3 L631.1 157.0 L631.1 159.1 L625.6 161.3 L628.9 162.4 L623.5 164.6 L623.2 166.0 L622.7 167.4 L622.4 168.9 L622.4 170.3" fill="none" stroke="#ff20ff" stroke-width="0.9" stroke-linejoin="round"/>
<path d="M620.8 0.0 L621.5 1.3 L621.5 2.6 L621.5 3.9 L621.5 5.2 L621.5 6.6 L621.5 7.9 L621.5 9.2 L621.5 10.5 L621.5 11.8 L621.5 13.1 L621.5 14.4 L621.5 15.7 L621.5 17.0 L621.5 18.3 L621.5 19.7 L621.5 21.0 L621.5 22.3 L621.5 23.6 L621.5 24.9 L621.5 26.2 L621.5 27.5 L621.5 28.8 L621.5 30.1 L621.5 31.4 L621.5 32.8 L621.5 34.1 L621.5 35.4 L621.5 36.7 L621.5 38.0 L621.5 39.3 L621.5 40.6 L621.5 41.9 L621.5 43.2 L621.5 44.5 L621.5 45.9 L621.5 47.2 L621.5 48.5 L621.5 49.8 L621.5 51.1 L621.5 52.4 L621.5 53.7 L621.5 55.0 L621.5 56.3 L621.5 57.6 L621.5 59.0 L621.5 60.3 L621.5 61.6 L621.5 62.9 L621.5 64.2 L621.5 65.5 L621.5 66.8 L621.5 68.1 L621.5 69.4 L621.5 70.7 L621.5 72.1 L621.5 73.4 L621.5 74.7 L621.5 76.0 L621.5 77.3 L621.5 78.6 L621.5 79.9 L621.5 81.2 L621.5 82.5 L621.5 83.8 L620.8 85.2 L620.8 87.1 L621.5 88.5 L621.5 89.8 L621.6 91.2 L621.6 92.6 L621.8 93.9 L621.8 95.3 L622.3 96.6 L622.4 98.0 L626.7 99.1 L631.3 100.7 L635.5 102.4 L640.9 104.6 L635.5 106.7 L632.2 108.4 L628.9 110.0 L627.9 111.7 L626.7 113.3 L628.3 114.9 L628.9 116.6 L628.5 118.0 L626.8 119.5 L626.7 120.9 L625.6 122.4 L623.8 123.8 L622.4 125.3 L620.8 127.5 L621.5 128.8 L621.5 130.2 L621.5 131.5 L621.5 132.8 L621.5 134.2 L621.5 135.5 L621.5 136.8 L621.5 138.2 L621.5 139.5 L621.5 140.9 L621.5 142.2 L621.5 143.5 L621.5 144.9 L621.5 146.2 L621.5 147.5 L621.5 148.9 L621.5 150.2 L621.5 151.6 L621.5 152.9 L621.5 154.2 L621.5 155.6 L621.5 156.9 L621.5 158.2 L621.5 159.6 L621.5 160.9 L621.5 162.3 L621.5 163.6 L621.5 164.9 L621.5 166.3 L621.5 167.6 L621.5 168.9 L620.8 170.3" fill="none" stroke="#10e010" stroke-width="0.9" stroke-linejoin="round"/>
<path d="M638.7 0.0 L638.7 1.7 L631.1 3.3 L635.5 5.5 L631.1 7.6 L633.3 9.8 L630.0 12.0 L627.8 14.2 L626.7 16.4 L623.5 18.6 L624.6 20.7 L622.4 22.9 L624.6 25.1 L623.5 27.3 L626.7 29.5 L639.8 31.7 L650.8 33.2 L642.0 34.5 L635.5 36.0 L631.1 38.2 L626.7 40.4 L624.6 42.6 L623.5 44.8 L621.1 46.9 L621.5 48.3 L621.5 49.8 L621.5 51.2 L621.5 52.6 L621.5 54.0 L621.5 55.4 L620.8 56.8 L621.5 58.2 L621.5 59.5 L621.5 60.9 L621.5 62.3 L621.5 63.7 L621.5 65.1 L621.5 66.5 L621.5 67.9 L621.5 69.3 L621.5 70.7 L620.8 72.1 L621.5 73.4 L621.5 74.7 L621.5 76.0 L621.5 77.3 L621.5 78.6 L621.5 79.9 L621.5 81.2 L621.5 82.5 L621.5 83.8 L621.1 85.2 L621.1 87.1 L622.8 88.2 L623.7 90.4 L624.6 92.6 L627.8 94.7 L624.6 96.9 L639.8 99.1 L655.1 101.3 L666.0 103.5 L675.9 105.7 L670.4 106.7 L652.9 107.8 L639.8 110.0 L635.5 112.2 L631.1 114.4 L634.0 116.0 L635.5 117.7 L631.1 119.8 L626.7 122.0 L624.3 123.7 L622.4 125.3 L626.7 127.5 L646.4 129.7 L663.9 130.8 L646.4 131.9 L633.3 134.0 L629.6 135.7 L624.6 137.3 L639.8 139.5 L654.0 141.7 L635.5 143.2 L631.3 144.6 L624.6 146.0 L637.7 148.2 L657.3 150.4 L631.1 151.5 L626.7 153.7 L635.5 155.9 L646.4 158.1 L637.7 160.2 L645.3 162.4 L639.8 164.6 L631.1 166.8 L624.6 169.0 L631.1 170.3" fill="none" stroke="#1a1a1a" stroke-width="1.15" stroke-linejoin="round"/>
<rect x="621.2" y="1.4" width="73.79999999999995" height="169.1" fill="none" stroke="#222" stroke-width="1"/>
<line x1="630.2" y1="170.5" x2="630.2" y2="169.0" stroke="#222" stroke-width="0.7"/>
<line x1="630.2" y1="1.4" x2="630.2" y2="2.9" stroke="#222" stroke-width="0.7"/>
<line x1="640.1" y1="170.5" x2="640.1" y2="168.0" stroke="#222" stroke-width="0.7"/>
<line x1="640.1" y1="1.4" x2="640.1" y2="3.9" stroke="#222" stroke-width="0.7"/>
<line x1="650.1" y1="170.5" x2="650.1" y2="169.0" stroke="#222" stroke-width="0.7"/>
<line x1="650.1" y1="1.4" x2="650.1" y2="2.9" stroke="#222" stroke-width="0.7"/>
<line x1="660.0" y1="170.5" x2="660.0" y2="168.0" stroke="#222" stroke-width="0.7"/>
<line x1="660.0" y1="1.4" x2="660.0" y2="3.9" stroke="#222" stroke-width="0.7"/>
<line x1="670.0" y1="170.5" x2="670.0" y2="169.0" stroke="#222" stroke-width="0.7"/>
<line x1="670.0" y1="1.4" x2="670.0" y2="2.9" stroke="#222" stroke-width="0.7"/>
<line x1="680.0" y1="170.5" x2="680.0" y2="168.0" stroke="#222" stroke-width="0.7"/>
<line x1="680.0" y1="1.4" x2="680.0" y2="3.9" stroke="#222" stroke-width="0.7"/>
<line x1="689.9" y1="170.5" x2="689.9" y2="169.0" stroke="#222" stroke-width="0.7"/>
<line x1="689.9" y1="1.4" x2="689.9" y2="2.9" stroke="#222" stroke-width="0.7"/>
<text x="622.8" y="179.5" text-anchor="middle" class="td">0</text>
<text x="639.7" y="179.5" text-anchor="middle" class="td">50</text>
<text x="661.4" y="179.5" text-anchor="middle" class="td">100</text>
<text x="680.8" y="179.5" text-anchor="middle" class="td">150</text>
<line x1="695.0" y1="158.9" x2="693.5" y2="158.9" stroke="#222" stroke-width="0.8"/>
<line x1="621.2" y1="158.9" x2="622.7" y2="158.9" stroke="#222" stroke-width="0.8"/>
<line x1="695.0" y1="144.4" x2="692.2" y2="144.4" stroke="#222" stroke-width="0.8"/>
<line x1="621.2" y1="144.4" x2="624.0" y2="144.4" stroke="#222" stroke-width="0.8"/>
<line x1="695.0" y1="129.9" x2="693.5" y2="129.9" stroke="#222" stroke-width="0.8"/>
<line x1="621.2" y1="129.9" x2="622.7" y2="129.9" stroke="#222" stroke-width="0.8"/>
<line x1="695.0" y1="115.5" x2="692.2" y2="115.5" stroke="#222" stroke-width="0.8"/>
<line x1="621.2" y1="115.5" x2="624.0" y2="115.5" stroke="#222" stroke-width="0.8"/>
<line x1="695.0" y1="101.0" x2="693.5" y2="101.0" stroke="#222" stroke-width="0.8"/>
<line x1="621.2" y1="101.0" x2="622.7" y2="101.0" stroke="#222" stroke-width="0.8"/>
<line x1="695.0" y1="86.5" x2="692.2" y2="86.5" stroke="#222" stroke-width="0.8"/>
<line x1="621.2" y1="86.5" x2="624.0" y2="86.5" stroke="#222" stroke-width="0.8"/>
<line x1="695.0" y1="72.0" x2="693.5" y2="72.0" stroke="#222" stroke-width="0.8"/>
<line x1="621.2" y1="72.0" x2="622.7" y2="72.0" stroke="#222" stroke-width="0.8"/>
<line x1="695.0" y1="57.5" x2="692.2" y2="57.5" stroke="#222" stroke-width="0.8"/>
<line x1="621.2" y1="57.5" x2="624.0" y2="57.5" stroke="#222" stroke-width="0.8"/>
<line x1="695.0" y1="43.0" x2="693.5" y2="43.0" stroke="#222" stroke-width="0.8"/>
<line x1="621.2" y1="43.0" x2="622.7" y2="43.0" stroke="#222" stroke-width="0.8"/>
<line x1="695.0" y1="28.5" x2="692.2" y2="28.5" stroke="#222" stroke-width="0.8"/>
<line x1="621.2" y1="28.5" x2="624.0" y2="28.5" stroke="#222" stroke-width="0.8"/>
<line x1="695.0" y1="14.0" x2="693.5" y2="14.0" stroke="#222" stroke-width="0.8"/>
<line x1="621.2" y1="14.0" x2="622.7" y2="14.0" stroke="#222" stroke-width="0.8"/>
<line x1="662.0" y1="26.3" x2="671.4" y2="26.3" stroke="#ff3030" stroke-width="1" stroke-opacity="0.9"/>
<text x="673.2" y="28.8" class="lg">Pb</text>
<line x1="662.0" y1="36.4" x2="671.4" y2="36.4" stroke="#10e010" stroke-width="1" stroke-opacity="0.9"/>
<text x="673.2" y="38.9" class="lg">Br</text>
<line x1="662.0" y1="46.5" x2="671.4" y2="46.5" stroke="#2040ff" stroke-width="1" stroke-opacity="0.9"/>
<text x="673.2" y="49.0" class="lg">N</text>
<line x1="662.0" y1="56.6" x2="671.4" y2="56.6" stroke="#ff20ff" stroke-width="1" stroke-opacity="0.9"/>
<text x="673.2" y="59.1" class="lg">C</text>
<line x1="662.0" y1="66.7" x2="671.4" y2="66.7" stroke="#ffa030" stroke-width="1" stroke-opacity="0.9"/>
<text x="673.2" y="69.2" class="lg">H</text>
<line x1="662.0" y1="76.8" x2="671.7" y2="76.8" stroke="#444" stroke-width="1.3" stroke-opacity="0.9"/>
<text x="672.0" y="79.3" class="lg">Total</text><line x1="268.8" y1="295.4" x2="344.5" y2="295.4" stroke="#f22" stroke-width="0.9" stroke-dasharray="1.6 1.2"/>
<path d="M269.1 208.8 L269.2 210.1 L269.1 211.4 L269.2 212.7 L269.2 214.1 L269.3 215.4 L269.2 216.7 L269.3 218.0 L269.3 219.3 L269.3 220.7 L269.3 222.0 L269.1 223.3 L269.3 224.6 L269.1 225.9 L269.1 227.3 L269.1 228.6 L269.3 229.9 L269.1 231.2 L269.2 232.5 L269.1 233.9 L269.1 235.2 L269.1 236.5 L269.3 237.8 L269.2 239.1 L269.1 240.5 L269.1 241.8 L269.1 243.1 L269.3 244.4 L269.1 245.7 L269.1 247.1 L269.3 248.4 L269.4 249.7 L269.2 251.0 L269.1 252.3 L269.1 253.7 L269.1 255.0 L269.1 256.3 L269.3 257.6 L269.3 258.9 L269.3 260.2 L269.1 261.6 L269.2 262.9 L269.1 264.2 L269.1 265.5 L269.1 266.8 L269.1 268.2 L269.4 269.5 L269.1 270.8 L269.1 272.1 L269.2 273.4 L269.3 274.8 L269.3 276.1 L269.1 277.4 L269.1 278.7 L269.1 280.0 L269.1 281.4 L269.3 282.7 L269.2 284.0 L269.2 285.3 L269.1 286.6 L269.1 288.0 L269.1 289.3 L269.1 290.6 L269.1 291.9 L269.1 293.2 L269.3 294.1 L269.2 295.5 L269.3 296.8 L269.2 298.1 L269.2 299.4 L269.2 300.7 L269.2 302.0 L269.5 303.3 L269.4 304.6 L269.1 305.9 L269.2 307.2 L269.1 308.6 L269.2 309.9 L269.1 311.2 L269.1 312.5 L269.4 313.8 L269.3 315.1 L269.3 316.4 L269.1 317.7 L269.3 319.0 L269.3 320.3 L269.4 321.7 L269.1 323.0 L269.3 324.3 L269.5 325.6 L269.2 326.9 L269.5 328.2 L269.1 329.5 L269.4 330.8 L269.5 332.1 L269.3 333.4 L269.2 334.8 L269.2 336.1 L269.2 337.4 L269.3 338.7 L274.3 339.8 L274.3 341.5 L274.3 343.3 L269.7 345.5 L273.1 347.8 L273.4 349.3 L272.6 350.9 L273.1 352.4 L269.7 354.7 L269.8 356.4 L269.7 358.1 L272.0 359.2 L269.7 361.5 L269.8 363.0 L269.7 364.4 L269.7 365.8 L269.7 367.2 L274.3 368.4 L273.8 369.9 L274.0 371.4 L274.3 372.9 L269.7 375.2 L269.9 376.8 L269.6 378.4 L269.7 380.0 L269.7 381.6" fill="none" stroke="#ffa030" stroke-width="0.9" stroke-linejoin="round"/>
<path d="M268.9 208.8 L269.1 210.1 L269.1 211.4 L269.1 212.7 L269.1 214.1 L269.1 215.4 L269.1 216.7 L269.1 218.0 L269.1 219.3 L269.1 220.7 L269.1 222.0 L269.1 223.3 L269.1 224.6 L269.1 225.9 L269.1 227.3 L269.1 228.6 L269.1 229.9 L269.1 231.2 L269.1 232.5 L269.1 233.9 L269.1 235.2 L269.1 236.5 L269.1 237.8 L269.1 239.1 L269.1 240.5 L269.1 241.8 L269.1 243.1 L269.1 244.4 L269.1 245.7 L269.1 247.1 L269.1 248.4 L269.1 249.7 L269.1 251.0 L269.1 252.3 L269.1 253.7 L269.1 255.0 L269.1 256.3 L269.1 257.6 L269.1 258.9 L269.1 260.2 L269.1 261.6 L269.1 262.9 L269.1 264.2 L269.1 265.5 L269.1 266.8 L269.1 268.2 L269.1 269.5 L269.1 270.8 L269.1 272.1 L269.1 273.4 L269.1 274.8 L269.1 276.1 L269.1 277.4 L269.1 278.7 L269.1 280.0 L269.1 281.4 L269.1 282.7 L269.1 284.0 L269.1 285.3 L269.1 286.6 L269.1 288.0 L269.1 289.3 L269.1 290.6 L269.1 291.9 L268.9 293.2 L269.0 294.1 L269.1 295.4 L269.1 296.8 L269.1 298.1 L269.1 299.4 L269.1 300.7 L269.1 302.0 L269.2 303.3 L269.1 304.6 L269.1 305.9 L269.1 307.2 L269.2 308.5 L269.2 309.8 L269.1 311.1 L269.2 312.4 L269.1 313.7 L269.1 315.0 L269.1 316.3 L269.2 317.6 L269.1 319.0 L269.1 320.3 L269.2 321.6 L269.1 322.9 L269.1 324.2 L269.1 325.5 L269.1 326.8 L269.2 328.1 L269.1 329.4 L269.1 330.7 L269.1 332.0 L269.2 333.3 L269.1 334.6 L269.1 335.9 L269.2 337.2 L269.1 338.5 L269.1 339.8 L269.2 341.1 L269.1 342.5 L269.1 343.8 L269.2 345.1 L269.1 346.4 L269.1 347.7 L269.2 349.0 L269.1 350.3 L269.1 351.6 L269.1 352.9 L269.1 354.2 L269.1 355.5 L269.1 356.8 L269.2 358.1 L269.1 359.4 L269.1 360.7 L269.1 362.0 L269.1 363.3 L269.1 364.7 L269.1 366.0 L269.2 367.3 L269.1 368.6 L269.1 369.9 L269.1 371.2 L269.1 372.5 L269.1 373.8 L269.2 375.1 L269.1 376.4 L269.1 377.7 L269.1 379.0 L269.1 380.3 L269.0 381.6" fill="none" stroke="#2040ff" stroke-width="0.9" stroke-linejoin="round"/>
<path d="M269.1 208.8 L269.1 210.1 L269.2 211.4 L269.3 212.7 L269.3 214.1 L269.3 215.4 L269.1 216.7 L269.1 218.0 L269.3 219.3 L269.3 220.7 L269.1 222.0 L269.2 223.3 L269.1 224.6 L269.1 225.9 L269.1 227.3 L269.1 228.6 L269.1 229.9 L269.1 231.2 L269.3 232.5 L269.1 233.9 L269.1 235.2 L269.3 236.5 L269.1 237.8 L269.1 239.1 L269.3 240.5 L269.1 241.8 L269.3 243.1 L269.1 244.4 L269.1 245.7 L269.2 247.1 L269.1 248.4 L269.1 249.7 L269.1 251.0 L269.2 252.3 L269.1 253.7 L269.1 255.0 L269.1 256.3 L269.1 257.6 L269.2 258.9 L269.1 260.2 L269.1 261.6 L269.3 262.9 L269.2 264.2 L269.1 265.5 L269.1 266.8 L269.3 268.2 L269.2 269.5 L269.1 270.8 L269.1 272.1 L269.1 273.4 L269.3 274.8 L269.1 276.1 L269.1 277.4 L269.1 278.7 L269.1 280.0 L269.3 281.4 L269.2 282.7 L269.1 284.0 L269.1 285.3 L269.1 286.6 L269.2 288.0 L269.3 289.3 L269.1 290.6 L269.3 291.9 L269.1 293.2 L269.3 294.1 L269.4 295.4 L269.5 296.8 L269.4 298.1 L269.3 299.4 L269.5 300.7 L269.2 302.0 L269.3 303.3 L269.5 304.6 L269.3 305.9 L269.1 307.2 L269.4 308.5 L269.2 309.8 L269.3 311.1 L269.1 312.4 L269.1 313.7 L269.1 315.0 L269.1 316.3 L269.3 317.6 L269.4 319.0 L269.1 320.3 L269.1 321.6 L269.2 322.9 L269.4 324.2 L269.3 325.5 L269.1 326.8 L269.2 328.1 L269.3 329.4 L269.4 330.7 L269.2 332.0 L269.4 333.3 L269.4 334.6 L269.2 335.9 L269.1 337.2 L269.3 338.5 L269.2 339.8 L269.2 341.1 L269.2 342.5 L269.1 343.8 L269.4 345.1 L269.4 346.4 L269.5 347.7 L269.1 349.0 L269.4 350.3 L269.1 351.6 L269.5 352.9 L269.3 354.2 L269.3 355.5 L269.5 356.8 L269.4 358.1 L269.4 359.4 L269.1 360.7 L269.4 362.0 L269.3 363.3 L269.1 364.7 L269.4 366.0 L269.3 367.3 L269.4 368.6 L269.5 369.9 L269.2 371.2 L269.2 372.5 L269.4 373.8 L269.3 375.1 L269.3 376.4 L269.1 377.7 L269.4 379.0 L269.1 380.3 L269.3 381.6" fill="none" stroke="#ff3030" stroke-width="0.9" stroke-linejoin="round"/>
<path d="M269.1 208.8 L269.1 210.1 L269.3 211.4 L269.3 212.8 L269.1 214.1 L269.1 215.4 L269.1 216.8 L269.2 218.1 L269.1 219.4 L269.2 220.8 L269.1 222.1 L269.3 223.4 L269.4 224.8 L269.1 226.1 L269.3 227.4 L269.1 228.7 L269.1 230.1 L269.1 231.4 L269.1 232.7 L269.1 234.1 L269.2 235.4 L269.2 236.7 L269.4 238.1 L269.1 239.4 L275.2 240.5 L279.6 242.7 L274.1 245.0 L279.6 247.2 L274.6 248.9 L269.1 250.6 L269.1 251.9 L269.1 253.2 L269.1 254.6 L269.3 255.9 L269.1 257.2 L269.1 258.6 L269.1 259.9 L269.3 261.2 L269.3 262.6 L269.1 263.9 L269.1 265.2 L269.1 266.6 L269.1 267.9 L269.2 269.2 L269.1 270.6 L269.1 271.9 L269.1 273.2 L269.3 274.6 L269.3 275.9 L269.3 277.2 L269.1 278.6 L269.1 279.9 L269.1 281.2 L269.1 282.6 L269.1 283.9 L269.2 285.2 L269.2 286.6 L269.2 287.9 L269.3 289.2 L269.1 290.6 L269.1 291.9 L269.1 293.2 L269.3 294.1 L269.5 295.5 L269.4 296.8 L269.4 298.1 L269.5 299.5 L269.3 300.8 L269.6 302.1 L269.7 303.5 L269.7 304.8 L269.7 306.1 L269.4 307.5 L269.7 308.8 L269.7 310.1 L273.1 311.3 L276.9 313.0 L282.3 314.7 L279.7 316.4 L275.4 318.1 L273.3 319.6 L272.2 321.2 L270.9 322.7 L269.5 325.0 L269.6 326.3 L269.6 327.7 L269.3 329.1 L269.4 330.5 L269.3 331.8 L269.7 333.2 L269.7 334.6 L269.4 335.9 L269.4 337.3 L269.5 338.7 L284.6 341.0 L283.1 342.5 L285.4 344.0 L284.6 345.5 L273.1 347.8 L280.0 350.1 L280.9 351.8 L280.0 353.5 L270.9 355.8 L273.2 357.5 L275.4 359.2 L275.4 361.5 L270.9 363.8 L273.5 365.3 L274.9 366.9 L277.7 368.4 L277.0 370.1 L277.7 371.8 L275.0 373.5 L272.0 375.2 L272.1 376.8 L271.2 378.4 L270.8 380.0 L270.9 381.6" fill="none" stroke="#ff20ff" stroke-width="0.9" stroke-linejoin="round"/>
<path d="M269.1 208.8 L269.1 210.1 L269.3 211.4 L269.1 212.7 L269.1 214.1 L269.3 215.4 L269.1 216.7 L269.1 218.0 L269.2 219.3 L269.1 220.7 L269.3 222.0 L269.1 223.3 L269.3 224.6 L269.3 225.9 L269.1 227.3 L269.2 228.6 L269.1 229.9 L269.2 231.2 L269.1 232.5 L269.3 233.9 L269.1 235.2 L269.1 236.5 L269.1 237.8 L269.1 239.1 L269.2 240.5 L269.1 241.8 L269.3 243.1 L269.3 244.4 L269.2 245.7 L269.1 247.1 L269.2 248.4 L269.2 249.7 L269.2 251.0 L269.1 252.3 L269.2 253.7 L269.3 255.0 L269.1 256.3 L269.3 257.6 L269.1 258.9 L269.1 260.2 L269.3 261.6 L269.4 262.9 L269.1 264.2 L269.1 265.5 L269.3 266.8 L269.4 268.2 L269.3 269.5 L269.3 270.8 L269.2 272.1 L269.1 273.4 L269.1 274.8 L269.1 276.1 L269.2 277.4 L269.3 278.7 L269.1 280.0 L269.1 281.4 L269.1 282.7 L269.3 284.0 L269.2 285.3 L269.2 286.6 L269.2 288.0 L269.2 289.3 L269.2 290.6 L269.3 291.9 L269.1 293.2 L269.3 294.1 L269.1 295.6 L269.6 297.1 L269.8 298.5 L269.9 300.0 L270.0 301.5 L269.7 303.0 L269.9 304.4 L273.1 305.6 L276.3 307.1 L278.8 308.6 L282.3 310.1 L284.5 311.8 L289.1 313.6 L284.6 315.8 L283.3 317.4 L281.6 318.9 L280.0 320.4 L279.8 321.9 L277.5 323.5 L277.7 325.0 L277.0 326.5 L274.4 328.0 L273.1 329.5 L272.4 331.1 L271.0 332.6 L269.7 334.1 L269.3 335.8 L269.3 337.5 L269.5 338.9 L269.2 340.2 L269.1 341.5 L269.2 342.9 L269.2 344.2 L269.2 345.6 L269.4 346.9 L269.3 348.2 L269.3 349.6 L269.5 350.9 L269.5 352.2 L269.3 353.6 L269.5 354.9 L269.2 356.2 L269.4 357.6 L269.3 358.9 L269.1 360.3 L269.3 361.6 L269.4 362.9 L269.2 364.3 L269.1 365.6 L269.2 366.9 L269.2 368.3 L269.1 369.6 L269.1 370.9 L269.1 372.3 L269.1 373.6 L269.1 374.9 L269.2 376.3 L269.5 377.6 L269.2 379.0 L269.2 380.3 L269.3 381.6" fill="none" stroke="#10e010" stroke-width="0.9" stroke-linejoin="round"/>
<path d="M286.3 208.8 L286.3 210.4 L283.0 211.5 L284.1 213.7 L277.4 215.9 L279.6 218.2 L274.1 220.4 L272.9 222.6 L275.2 224.9 L272.9 227.1 L274.1 229.3 L271.8 231.6 L272.2 233.3 L272.9 234.9 L270.7 237.2 L272.9 239.4 L286.3 240.5 L297.5 242.3 L283.0 243.9 L286.3 245.4 L299.7 247.2 L281.9 249.4 L272.9 251.7 L269.6 253.9 L269.1 256.2 L269.1 257.5 L269.4 258.9 L269.3 260.3 L269.1 261.7 L269.3 263.0 L269.3 264.4 L269.1 265.8 L269.1 267.1 L269.4 268.5 L269.1 269.9 L269.1 271.3 L269.1 272.6 L269.1 274.0 L269.1 275.4 L269.1 276.8 L269.6 278.1 L269.3 279.5 L269.1 280.9 L269.5 282.3 L269.4 283.6 L269.1 285.0 L269.1 286.4 L269.1 287.7 L269.4 289.1 L269.1 290.5 L269.6 291.9 L269.1 293.2 L269.3 294.1 L269.7 295.6 L270.0 297.0 L271.0 298.4 L270.9 299.9 L272.4 301.6 L273.1 303.3 L275.4 305.6 L286.8 307.8 L300.5 310.1 L316.5 312.4 L312.0 314.0 L315.4 315.8 L309.7 318.1 L298.3 320.4 L284.6 322.7 L282.3 325.0 L280.0 327.3 L281.1 329.5 L275.4 331.8 L273.7 333.5 L270.9 335.3 L271.7 337.0 L273.1 338.7 L293.7 341.0 L304.0 342.1 L286.8 343.3 L291.4 345.5 L282.3 347.8 L289.1 350.1 L277.7 352.4 L296.0 354.2 L282.3 355.8 L292.6 358.1 L277.7 360.4 L284.6 362.7 L277.7 365.0 L282.3 367.2 L289.1 369.5 L293.7 371.8 L290.3 374.1 L290.3 376.4 L277.7 378.7 L273.1 380.9 L277.7 381.6" fill="none" stroke="#1a1a1a" stroke-width="1.15" stroke-linejoin="round"/>
<rect x="268.8" y="209.1" width="75.69999999999999" height="172.50000000000003" fill="none" stroke="#222" stroke-width="1"/>
<line x1="279.0" y1="381.6" x2="279.0" y2="380.1" stroke="#222" stroke-width="0.7"/>
<line x1="279.0" y1="209.1" x2="279.0" y2="210.6" stroke="#222" stroke-width="0.7"/>
<line x1="288.9" y1="381.6" x2="288.9" y2="379.1" stroke="#222" stroke-width="0.7"/>
<line x1="288.9" y1="209.1" x2="288.9" y2="211.6" stroke="#222" stroke-width="0.7"/>
<line x1="298.8" y1="381.6" x2="298.8" y2="380.1" stroke="#222" stroke-width="0.7"/>
<line x1="298.8" y1="209.1" x2="298.8" y2="210.6" stroke="#222" stroke-width="0.7"/>
<line x1="308.7" y1="381.6" x2="308.7" y2="379.1" stroke="#222" stroke-width="0.7"/>
<line x1="308.7" y1="209.1" x2="308.7" y2="211.6" stroke="#222" stroke-width="0.7"/>
<line x1="318.6" y1="381.6" x2="318.6" y2="380.1" stroke="#222" stroke-width="0.7"/>
<line x1="318.6" y1="209.1" x2="318.6" y2="210.6" stroke="#222" stroke-width="0.7"/>
<line x1="328.5" y1="381.6" x2="328.5" y2="379.1" stroke="#222" stroke-width="0.7"/>
<line x1="328.5" y1="209.1" x2="328.5" y2="211.6" stroke="#222" stroke-width="0.7"/>
<line x1="338.4" y1="381.6" x2="338.4" y2="380.1" stroke="#222" stroke-width="0.7"/>
<line x1="338.4" y1="209.1" x2="338.4" y2="210.6" stroke="#222" stroke-width="0.7"/>
<text x="270.1" y="391.3" text-anchor="middle" class="td">0</text>
<text x="287.3" y="391.3" text-anchor="middle" class="td">50</text>
<text x="308.0" y="391.3" text-anchor="middle" class="td">100</text>
<text x="329.7" y="391.3" text-anchor="middle" class="td">150</text>
<line x1="344.5" y1="368.0" x2="343.0" y2="368.0" stroke="#222" stroke-width="0.8"/>
<line x1="268.8" y1="368.0" x2="270.3" y2="368.0" stroke="#222" stroke-width="0.8"/>
<line x1="344.5" y1="353.5" x2="341.7" y2="353.5" stroke="#222" stroke-width="0.8"/>
<line x1="268.8" y1="353.5" x2="271.6" y2="353.5" stroke="#222" stroke-width="0.8"/>
<line x1="344.5" y1="339.0" x2="343.0" y2="339.0" stroke="#222" stroke-width="0.8"/>
<line x1="268.8" y1="339.0" x2="270.3" y2="339.0" stroke="#222" stroke-width="0.8"/>
<line x1="344.5" y1="324.4" x2="341.7" y2="324.4" stroke="#222" stroke-width="0.8"/>
<line x1="268.8" y1="324.4" x2="271.6" y2="324.4" stroke="#222" stroke-width="0.8"/>
<line x1="344.5" y1="309.9" x2="343.0" y2="309.9" stroke="#222" stroke-width="0.8"/>
<line x1="268.8" y1="309.9" x2="270.3" y2="309.9" stroke="#222" stroke-width="0.8"/>
<line x1="344.5" y1="295.4" x2="341.7" y2="295.4" stroke="#222" stroke-width="0.8"/>
<line x1="268.8" y1="295.4" x2="271.6" y2="295.4" stroke="#222" stroke-width="0.8"/>
<line x1="344.5" y1="280.9" x2="343.0" y2="280.9" stroke="#222" stroke-width="0.8"/>
<line x1="268.8" y1="280.9" x2="270.3" y2="280.9" stroke="#222" stroke-width="0.8"/>
<line x1="344.5" y1="266.4" x2="341.7" y2="266.4" stroke="#222" stroke-width="0.8"/>
<line x1="268.8" y1="266.4" x2="271.6" y2="266.4" stroke="#222" stroke-width="0.8"/>
<line x1="344.5" y1="251.8" x2="343.0" y2="251.8" stroke="#222" stroke-width="0.8"/>
<line x1="268.8" y1="251.8" x2="270.3" y2="251.8" stroke="#222" stroke-width="0.8"/>
<line x1="344.5" y1="237.3" x2="341.7" y2="237.3" stroke="#222" stroke-width="0.8"/>
<line x1="268.8" y1="237.3" x2="271.6" y2="237.3" stroke="#222" stroke-width="0.8"/>
<line x1="344.5" y1="222.8" x2="343.0" y2="222.8" stroke="#222" stroke-width="0.8"/>
<line x1="268.8" y1="222.8" x2="270.3" y2="222.8" stroke="#222" stroke-width="0.8"/>
<line x1="309.6" y1="235.0" x2="319.0" y2="235.0" stroke="#ff3030" stroke-width="1" stroke-opacity="0.9"/>
<text x="320.8" y="237.5" class="lg">Pb</text>
<line x1="309.6" y1="245.1" x2="319.0" y2="245.1" stroke="#10e010" stroke-width="1" stroke-opacity="0.9"/>
<text x="320.8" y="247.6" class="lg">Br</text>
<line x1="309.6" y1="255.2" x2="319.0" y2="255.2" stroke="#2040ff" stroke-width="1" stroke-opacity="0.9"/>
<text x="320.8" y="257.7" class="lg">N</text>
<line x1="309.6" y1="265.3" x2="319.0" y2="265.3" stroke="#ff20ff" stroke-width="1" stroke-opacity="0.9"/>
<text x="320.8" y="267.8" class="lg">C</text>
<line x1="309.6" y1="275.4" x2="319.0" y2="275.4" stroke="#ffa030" stroke-width="1" stroke-opacity="0.9"/>
<text x="320.8" y="277.9" class="lg">H</text>
<line x1="309.6" y1="285.5" x2="319.3" y2="285.5" stroke="#444" stroke-width="1.3" stroke-opacity="0.9"/>
<text x="319.6" y="288.0" class="lg">Total</text><line x1="621.75" y1="294.4" x2="697.1" y2="294.4" stroke="#f22" stroke-width="0.9" stroke-dasharray="1.6 1.2"/>
<path d="M621.9 208.4 L622.0 209.7 L622.0 211.0 L622.0 212.3 L622.0 213.6 L622.1 214.9 L622.0 216.2 L622.0 217.5 L622.0 218.9 L622.0 220.2 L622.0 221.5 L622.1 222.8 L622.0 224.1 L622.0 225.4 L622.0 226.7 L622.0 228.0 L622.1 229.3 L622.0 230.6 L622.0 231.9 L622.0 233.2 L622.0 234.5 L622.0 235.8 L622.0 237.1 L622.0 238.4 L622.0 239.7 L622.0 241.0 L622.1 242.3 L622.0 243.6 L622.0 244.9 L622.0 246.2 L622.1 247.5 L622.1 248.8 L622.0 250.1 L622.0 251.4 L622.1 252.7 L622.0 254.0 L622.0 255.3 L622.0 256.6 L622.0 258.0 L622.1 259.3 L622.0 260.6 L622.0 261.9 L622.0 263.2 L622.0 264.5 L622.0 265.8 L622.0 267.1 L622.0 268.4 L622.1 269.7 L622.0 271.0 L622.0 272.3 L622.1 273.6 L622.0 274.9 L622.0 276.2 L622.0 277.5 L622.1 278.8 L622.0 280.1 L622.0 281.4 L622.1 282.7 L622.0 284.0 L622.0 285.3 L622.0 286.6 L622.0 287.9 L622.0 289.2 L622.1 290.5 L622.0 291.8 L621.9 293.1 L621.9 293.2 L622.0 294.5 L622.1 295.8 L622.1 297.1 L622.0 298.5 L622.0 299.8 L622.0 301.1 L622.0 302.4 L622.1 303.8 L622.0 305.1 L622.0 306.4 L622.1 307.7 L622.1 309.1 L622.1 310.4 L622.0 311.7 L622.0 313.0 L622.0 314.4 L622.0 315.7 L622.0 317.0 L622.0 318.4 L622.1 319.7 L622.0 321.0 L622.0 322.3 L622.0 323.7 L622.0 325.0 L622.0 326.3 L622.1 327.6 L622.0 329.0 L622.0 330.3 L622.1 331.6 L622.0 332.9 L621.9 334.3 L625.1 335.4 L625.6 336.9 L625.1 338.4 L625.1 340.0 L622.2 342.3 L622.0 343.6 L622.0 345.0 L622.3 346.4 L622.2 347.7 L622.2 349.1 L624.0 350.2 L622.2 351.8 L622.1 353.2 L622.2 354.6 L622.2 356.0 L625.1 357.1 L622.2 358.7 L622.2 360.2 L622.4 361.7 L622.2 363.2 L622.2 364.6 L625.1 365.1 L625.0 366.5 L625.6 367.9 L624.7 369.4 L625.1 370.8 L622.2 373.1 L622.0 374.4 L622.2 375.7 L622.3 377.1 L622.1 378.4 L622.2 379.7" fill="none" stroke="#ffa030" stroke-width="0.9" stroke-linejoin="round"/>
<path d="M621.7 208.4 L622.0 209.7 L622.0 211.0 L622.0 212.3 L622.0 213.6 L622.0 214.9 L622.0 216.2 L622.0 217.5 L622.0 218.9 L622.0 220.2 L622.0 221.5 L622.0 222.8 L622.0 224.1 L622.0 225.4 L622.0 226.7 L622.0 228.0 L622.0 229.3 L622.0 230.6 L622.0 231.9 L622.0 233.2 L622.0 234.5 L622.0 235.8 L622.0 237.1 L622.0 238.4 L622.0 239.7 L622.0 241.0 L622.0 242.3 L622.0 243.6 L622.0 244.9 L622.0 246.2 L622.0 247.5 L622.0 248.8 L622.0 250.1 L622.0 251.4 L622.0 252.7 L622.0 254.0 L622.0 255.3 L622.0 256.6 L622.0 258.0 L622.0 259.3 L622.0 260.6 L622.0 261.9 L622.0 263.2 L622.0 264.5 L622.0 265.8 L622.0 267.1 L622.0 268.4 L622.0 269.7 L622.0 271.0 L622.0 272.3 L622.0 273.6 L622.0 274.9 L622.0 276.2 L622.0 277.5 L622.0 278.8 L622.0 280.1 L622.0 281.4 L622.0 282.7 L622.0 284.0 L622.0 285.3 L622.0 286.6 L622.0 287.9 L622.0 289.2 L622.0 290.5 L622.0 291.8 L621.7 293.1 L621.7 293.2 L622.0 294.5 L622.0 295.8 L622.0 297.1 L622.0 298.4 L622.0 299.7 L622.0 301.0 L622.0 302.3 L622.0 303.7 L622.0 305.0 L622.0 306.3 L622.0 307.6 L622.0 308.9 L622.0 310.2 L622.0 311.5 L622.0 312.8 L622.0 314.1 L622.0 315.5 L622.0 316.8 L622.0 318.1 L622.0 319.4 L622.0 320.7 L622.0 322.0 L622.0 323.3 L622.0 324.6 L622.0 325.9 L622.0 327.3 L622.0 328.6 L622.0 329.9 L622.0 331.2 L622.0 332.5 L622.0 333.8 L622.0 335.1 L622.0 336.4 L622.0 337.8 L622.0 339.1 L622.0 340.4 L622.0 341.7 L622.0 343.0 L622.0 344.3 L622.0 345.6 L622.0 346.9 L622.0 348.2 L622.0 349.6 L622.0 350.9 L622.0 352.2 L622.0 353.5 L622.0 354.8 L622.0 356.1 L622.0 357.4 L622.0 358.7 L622.0 360.0 L622.0 361.4 L622.0 362.7 L622.0 364.0 L622.0 365.3 L622.0 366.6 L622.0 367.9 L622.0 369.2 L622.0 370.5 L622.0 371.8 L622.0 373.2 L622.0 374.5 L622.0 375.8 L622.0 377.1 L622.0 378.4 L621.7 379.7" fill="none" stroke="#2040ff" stroke-width="0.9" stroke-linejoin="round"/>
<path d="M621.9 208.4 L622.0 209.7 L622.0 211.0 L622.1 212.3 L622.0 213.6 L622.0 214.9 L622.1 216.2 L622.0 217.5 L622.0 218.9 L622.0 220.2 L622.1 221.5 L622.0 222.8 L622.0 224.1 L622.1 225.4 L622.0 226.7 L622.1 228.0 L622.0 229.3 L622.0 230.6 L622.0 231.9 L622.0 233.2 L622.1 234.5 L622.0 235.8 L622.0 237.1 L622.0 238.4 L622.1 239.7 L622.0 241.0 L622.1 242.3 L622.0 243.6 L622.0 244.9 L622.0 246.2 L622.0 247.5 L622.0 248.8 L622.0 250.1 L622.1 251.4 L622.0 252.7 L622.0 254.0 L622.0 255.3 L622.0 256.6 L622.1 258.0 L622.0 259.3 L622.0 260.6 L622.1 261.9 L622.0 263.2 L622.0 264.5 L622.0 265.8 L622.1 267.1 L622.0 268.4 L622.0 269.7 L622.0 271.0 L622.1 272.3 L622.1 273.6 L622.1 274.9 L622.0 276.2 L622.0 277.5 L622.0 278.8 L622.0 280.1 L622.0 281.4 L622.0 282.7 L622.1 284.0 L622.0 285.3 L622.0 286.6 L622.0 287.9 L622.1 289.2 L622.0 290.5 L622.1 291.8 L621.9 293.1 L621.9 293.2 L622.0 294.5 L622.0 295.8 L622.0 297.1 L622.0 298.4 L622.1 299.7 L622.0 301.0 L622.0 302.3 L622.0 303.7 L622.0 305.0 L622.0 306.3 L622.0 307.6 L622.0 308.9 L622.1 310.2 L622.1 311.5 L622.0 312.8 L622.0 314.1 L622.0 315.5 L622.0 316.8 L622.0 318.1 L622.0 319.4 L622.0 320.7 L622.0 322.0 L622.0 323.3 L622.0 324.6 L622.0 325.9 L622.0 327.3 L622.1 328.6 L622.0 329.9 L622.1 331.2 L622.0 332.5 L622.0 333.8 L622.0 335.1 L622.0 336.4 L622.0 337.8 L622.0 339.1 L622.1 340.4 L622.0 341.7 L622.0 343.0 L622.0 344.3 L622.1 345.6 L622.0 346.9 L622.1 348.2 L622.1 349.6 L622.0 350.9 L622.0 352.2 L622.0 353.5 L622.0 354.8 L622.0 356.1 L622.0 357.4 L622.0 358.7 L622.1 360.0 L622.0 361.4 L622.1 362.7 L622.0 364.0 L622.0 365.3 L622.1 366.6 L622.0 367.9 L622.0 369.2 L622.0 370.5 L622.1 371.8 L622.0 373.2 L622.0 374.5 L622.0 375.8 L622.1 377.1 L622.0 378.4 L621.9 379.7" fill="none" stroke="#ff3030" stroke-width="0.9" stroke-linejoin="round"/>
<path d="M621.9 208.4 L622.0 209.7 L622.0 211.1 L622.0 212.4 L622.0 213.7 L622.0 215.0 L622.0 216.3 L622.1 217.6 L622.0 218.9 L622.0 220.2 L622.2 221.6 L622.1 222.9 L622.1 224.2 L622.1 225.5 L622.2 226.8 L622.1 228.1 L622.0 229.4 L622.1 230.8 L622.0 232.1 L622.1 233.4 L621.9 234.7 L629.7 235.8 L631.5 237.5 L632.0 239.3 L634.3 241.5 L621.9 243.8 L622.1 245.2 L622.0 246.5 L622.0 247.8 L622.0 249.2 L622.0 250.5 L622.0 251.8 L622.1 253.2 L622.0 254.5 L622.0 255.8 L622.0 257.2 L622.0 258.5 L622.0 259.8 L622.0 261.2 L622.0 262.5 L622.0 263.8 L622.0 265.2 L622.1 266.5 L622.0 267.8 L622.1 269.2 L622.0 270.5 L622.0 271.8 L622.0 273.2 L622.0 274.5 L622.0 275.8 L622.0 277.1 L622.0 278.5 L622.0 279.8 L622.1 281.1 L622.1 282.5 L622.0 283.8 L622.0 285.1 L622.0 286.5 L622.0 287.8 L622.0 289.1 L622.0 290.5 L622.0 291.8 L621.9 293.1 L621.9 293.2 L622.0 294.5 L622.2 295.8 L622.3 297.1 L622.4 298.4 L622.1 299.7 L622.4 301.1 L622.3 302.4 L622.6 303.7 L622.3 305.0 L622.5 306.3 L622.5 307.6 L622.9 309.0 L622.9 310.3 L627.4 311.4 L632.0 313.1 L635.4 314.8 L632.1 316.6 L629.7 318.3 L626.9 320.0 L625.1 321.7 L622.4 324.0 L622.3 325.4 L622.3 326.8 L622.5 328.2 L622.4 329.6 L622.2 331.0 L622.5 332.4 L622.5 333.7 L622.6 335.1 L622.4 336.5 L638.8 337.7 L637.8 339.4 L638.8 341.1 L622.9 343.4 L623.0 344.8 L622.8 346.1 L622.6 347.5 L622.9 348.9 L622.9 350.2 L634.3 351.4 L622.9 353.7 L623.0 355.4 L622.9 357.1 L638.8 358.2 L625.1 360.5 L625.0 361.9 L625.1 363.3 L641.1 364.0 L640.1 365.7 L641.1 367.4 L636.6 369.1 L629.7 370.8 L626.6 372.5 L622.9 374.2 L622.6 375.6 L622.8 377.0 L622.8 378.3 L622.9 379.7" fill="none" stroke="#ff20ff" stroke-width="0.9" stroke-linejoin="round"/>
<path d="M621.9 208.4 L622.0 209.7 L622.1 211.0 L622.0 212.3 L622.0 213.6 L622.0 214.9 L622.0 216.2 L622.0 217.5 L622.0 218.9 L622.0 220.2 L622.1 221.5 L622.0 222.8 L622.0 224.1 L622.0 225.4 L622.0 226.7 L622.0 228.0 L622.0 229.3 L622.0 230.6 L622.0 231.9 L622.0 233.2 L622.0 234.5 L622.1 235.8 L622.0 237.1 L622.0 238.4 L622.0 239.7 L622.1 241.0 L622.0 242.3 L622.0 243.6 L622.0 244.9 L622.0 246.2 L622.1 247.5 L622.0 248.8 L622.1 250.1 L622.0 251.4 L622.0 252.7 L622.0 254.0 L622.0 255.3 L622.0 256.6 L622.0 258.0 L622.0 259.3 L622.0 260.6 L622.0 261.9 L622.0 263.2 L622.0 264.5 L622.0 265.8 L622.1 267.1 L622.1 268.4 L622.0 269.7 L622.0 271.0 L622.0 272.3 L622.0 273.6 L622.0 274.9 L622.0 276.2 L622.0 277.5 L622.0 278.8 L622.1 280.1 L622.0 281.4 L622.1 282.7 L622.1 284.0 L622.0 285.3 L622.0 286.6 L622.1 287.9 L622.0 289.2 L622.0 290.5 L622.0 291.8 L621.9 293.1 L621.9 293.2 L622.2 294.6 L622.0 296.0 L622.3 297.4 L622.4 298.9 L622.3 300.3 L622.4 301.7 L622.5 303.1 L622.4 304.6 L627.4 305.7 L633.1 307.4 L638.8 309.1 L643.4 311.4 L638.6 313.1 L632.0 314.8 L631.8 316.4 L632.9 317.9 L632.0 319.4 L630.9 320.9 L628.5 322.5 L626.3 324.0 L627.9 325.7 L629.7 327.4 L626.2 329.1 L622.9 330.8 L622.2 332.5 L621.9 334.3 L622.1 335.6 L622.0 336.9 L622.0 338.3 L622.0 339.6 L622.0 340.9 L622.0 342.3 L622.0 343.6 L622.1 345.0 L622.0 346.3 L622.0 347.6 L622.0 349.0 L622.1 350.3 L622.0 351.6 L622.0 353.0 L622.0 354.3 L622.0 355.6 L622.1 357.0 L622.0 358.3 L622.0 359.7 L622.0 361.0 L622.0 362.3 L622.1 363.7 L622.0 365.0 L622.0 366.3 L622.0 367.7 L622.1 369.0 L622.1 370.4 L622.0 371.7 L622.0 373.0 L622.0 374.4 L622.1 375.7 L622.0 377.0 L622.0 378.4 L621.9 379.7" fill="none" stroke="#10e010" stroke-width="0.9" stroke-linejoin="round"/>
<path d="M641.1 208.4 L641.1 209.1 L637.7 210.7 L636.6 213.0 L632.0 215.3 L627.4 217.6 L625.1 219.8 L624.2 221.6 L624.0 223.3 L623.6 225.0 L622.9 226.7 L623.3 228.4 L624.0 230.1 L623.8 231.8 L624.0 233.6 L632.0 235.2 L638.8 237.0 L645.7 238.8 L645.7 240.4 L654.8 241.5 L636.6 242.7 L629.7 244.3 L626.3 246.1 L624.0 248.4 L622.9 250.7 L621.7 251.8 L621.7 254.1 L622.0 255.5 L622.0 256.9 L622.0 258.3 L622.0 259.7 L622.0 261.0 L622.0 262.4 L622.0 263.8 L622.0 265.2 L622.0 266.6 L622.0 268.0 L622.1 269.4 L622.1 270.8 L622.0 272.1 L621.7 273.5 L622.0 274.8 L622.0 276.1 L622.0 277.4 L622.0 278.8 L622.0 280.1 L622.0 281.4 L622.0 282.7 L622.0 284.0 L622.0 285.3 L622.0 286.6 L622.0 287.9 L622.0 289.2 L622.1 290.5 L622.0 291.8 L621.7 293.1 L621.7 293.2 L622.0 294.9 L622.9 296.6 L623.8 298.1 L624.6 299.6 L625.1 301.1 L634.3 302.3 L625.1 304.6 L632.0 306.8 L673.1 308.4 L689.1 310.3 L661.7 312.1 L645.7 313.7 L636.6 316.0 L641.1 318.3 L634.3 320.6 L629.5 322.3 L627.4 324.0 L632.0 326.3 L650.3 328.1 L629.7 329.7 L627.9 331.4 L625.1 333.1 L631.2 334.5 L638.8 335.9 L657.1 337.7 L659.4 339.3 L650.3 340.4 L634.3 342.3 L629.7 344.0 L625.1 345.7 L629.9 347.4 L634.3 349.1 L643.5 350.5 L652.5 351.8 L629.7 353.7 L625.1 356.0 L669.7 358.2 L634.3 359.8 L634.3 361.7 L665.1 364.0 L638.8 365.8 L648.0 367.4 L634.3 369.7 L630.2 371.4 L625.1 373.1 L623.6 374.8 L622.9 376.5 L634.3 378.8 L634.3 379.7" fill="none" stroke="#1a1a1a" stroke-width="1.15" stroke-linejoin="round"/>
<rect x="621.75" y="208.4" width="75.35000000000002" height="171.6" fill="none" stroke="#222" stroke-width="1"/>
<line x1="631.5" y1="380.0" x2="631.5" y2="378.5" stroke="#222" stroke-width="0.7"/>
<line x1="631.5" y1="208.4" x2="631.5" y2="209.9" stroke="#222" stroke-width="0.7"/>
<line x1="641.5" y1="380.0" x2="641.5" y2="377.5" stroke="#222" stroke-width="0.7"/>
<line x1="641.5" y1="208.4" x2="641.5" y2="210.9" stroke="#222" stroke-width="0.7"/>
<line x1="651.4" y1="380.0" x2="651.4" y2="378.5" stroke="#222" stroke-width="0.7"/>
<line x1="651.4" y1="208.4" x2="651.4" y2="209.9" stroke="#222" stroke-width="0.7"/>
<line x1="661.3" y1="380.0" x2="661.3" y2="377.5" stroke="#222" stroke-width="0.7"/>
<line x1="661.3" y1="208.4" x2="661.3" y2="210.9" stroke="#222" stroke-width="0.7"/>
<line x1="671.2" y1="380.0" x2="671.2" y2="378.5" stroke="#222" stroke-width="0.7"/>
<line x1="671.2" y1="208.4" x2="671.2" y2="209.9" stroke="#222" stroke-width="0.7"/>
<line x1="681.1" y1="380.0" x2="681.1" y2="377.5" stroke="#222" stroke-width="0.7"/>
<line x1="681.1" y1="208.4" x2="681.1" y2="210.9" stroke="#222" stroke-width="0.7"/>
<line x1="691.1" y1="380.0" x2="691.1" y2="378.5" stroke="#222" stroke-width="0.7"/>
<line x1="691.1" y1="208.4" x2="691.1" y2="209.9" stroke="#222" stroke-width="0.7"/>
<text x="624.8" y="390.3" text-anchor="middle" class="td">0</text>
<text x="641.9" y="390.3" text-anchor="middle" class="td">50</text>
<text x="662.6" y="390.3" text-anchor="middle" class="td">100</text>
<text x="684.0" y="390.3" text-anchor="middle" class="td">150</text>
<line x1="697.1" y1="366.7" x2="695.6" y2="366.7" stroke="#222" stroke-width="0.8"/>
<line x1="621.75" y1="366.7" x2="623.25" y2="366.7" stroke="#222" stroke-width="0.8"/>
<line x1="697.1" y1="352.2" x2="694.3000000000001" y2="352.2" stroke="#222" stroke-width="0.8"/>
<line x1="621.75" y1="352.2" x2="624.55" y2="352.2" stroke="#222" stroke-width="0.8"/>
<line x1="697.1" y1="337.8" x2="695.6" y2="337.8" stroke="#222" stroke-width="0.8"/>
<line x1="621.75" y1="337.8" x2="623.25" y2="337.8" stroke="#222" stroke-width="0.8"/>
<line x1="697.1" y1="323.3" x2="694.3000000000001" y2="323.3" stroke="#222" stroke-width="0.8"/>
<line x1="621.75" y1="323.3" x2="624.55" y2="323.3" stroke="#222" stroke-width="0.8"/>
<line x1="697.1" y1="308.8" x2="695.6" y2="308.8" stroke="#222" stroke-width="0.8"/>
<line x1="621.75" y1="308.8" x2="623.25" y2="308.8" stroke="#222" stroke-width="0.8"/>
<line x1="697.1" y1="294.4" x2="694.3000000000001" y2="294.4" stroke="#222" stroke-width="0.8"/>
<line x1="621.75" y1="294.4" x2="624.55" y2="294.4" stroke="#222" stroke-width="0.8"/>
<line x1="697.1" y1="279.9" x2="695.6" y2="279.9" stroke="#222" stroke-width="0.8"/>
<line x1="621.75" y1="279.9" x2="623.25" y2="279.9" stroke="#222" stroke-width="0.8"/>
<line x1="697.1" y1="265.4" x2="694.3000000000001" y2="265.4" stroke="#222" stroke-width="0.8"/>
<line x1="621.75" y1="265.4" x2="624.55" y2="265.4" stroke="#222" stroke-width="0.8"/>
<line x1="697.1" y1="250.9" x2="695.6" y2="250.9" stroke="#222" stroke-width="0.8"/>
<line x1="621.75" y1="250.9" x2="623.25" y2="250.9" stroke="#222" stroke-width="0.8"/>
<line x1="697.1" y1="236.5" x2="694.3000000000001" y2="236.5" stroke="#222" stroke-width="0.8"/>
<line x1="621.75" y1="236.5" x2="624.55" y2="236.5" stroke="#222" stroke-width="0.8"/>
<line x1="697.1" y1="222.0" x2="695.6" y2="222.0" stroke="#222" stroke-width="0.8"/>
<line x1="621.75" y1="222.0" x2="623.25" y2="222.0" stroke="#222" stroke-width="0.8"/>
<line x1="662.5" y1="234.4" x2="672.0" y2="234.4" stroke="#ff3030" stroke-width="1" stroke-opacity="0.9"/>
<text x="673.8" y="236.9" class="lg">Pb</text>
<line x1="662.5" y1="244.5" x2="672.0" y2="244.5" stroke="#10e010" stroke-width="1" stroke-opacity="0.9"/>
<text x="673.8" y="247.0" class="lg">Br</text>
<line x1="662.5" y1="254.6" x2="672.0" y2="254.6" stroke="#2040ff" stroke-width="1" stroke-opacity="0.9"/>
<text x="673.8" y="257.1" class="lg">N</text>
<line x1="662.5" y1="264.7" x2="672.0" y2="264.7" stroke="#ff20ff" stroke-width="1" stroke-opacity="0.9"/>
<text x="673.8" y="267.2" class="lg">C</text>
<line x1="662.5" y1="274.8" x2="672.0" y2="274.8" stroke="#ffa030" stroke-width="1" stroke-opacity="0.9"/>
<text x="673.8" y="277.3" class="lg">H</text>
<line x1="662.5" y1="284.9" x2="672.2" y2="284.9" stroke="#444" stroke-width="1.3" stroke-opacity="0.9"/>
<text x="672.5" y="287.4" class="lg">Total</text>
</svg>
</body></html>
